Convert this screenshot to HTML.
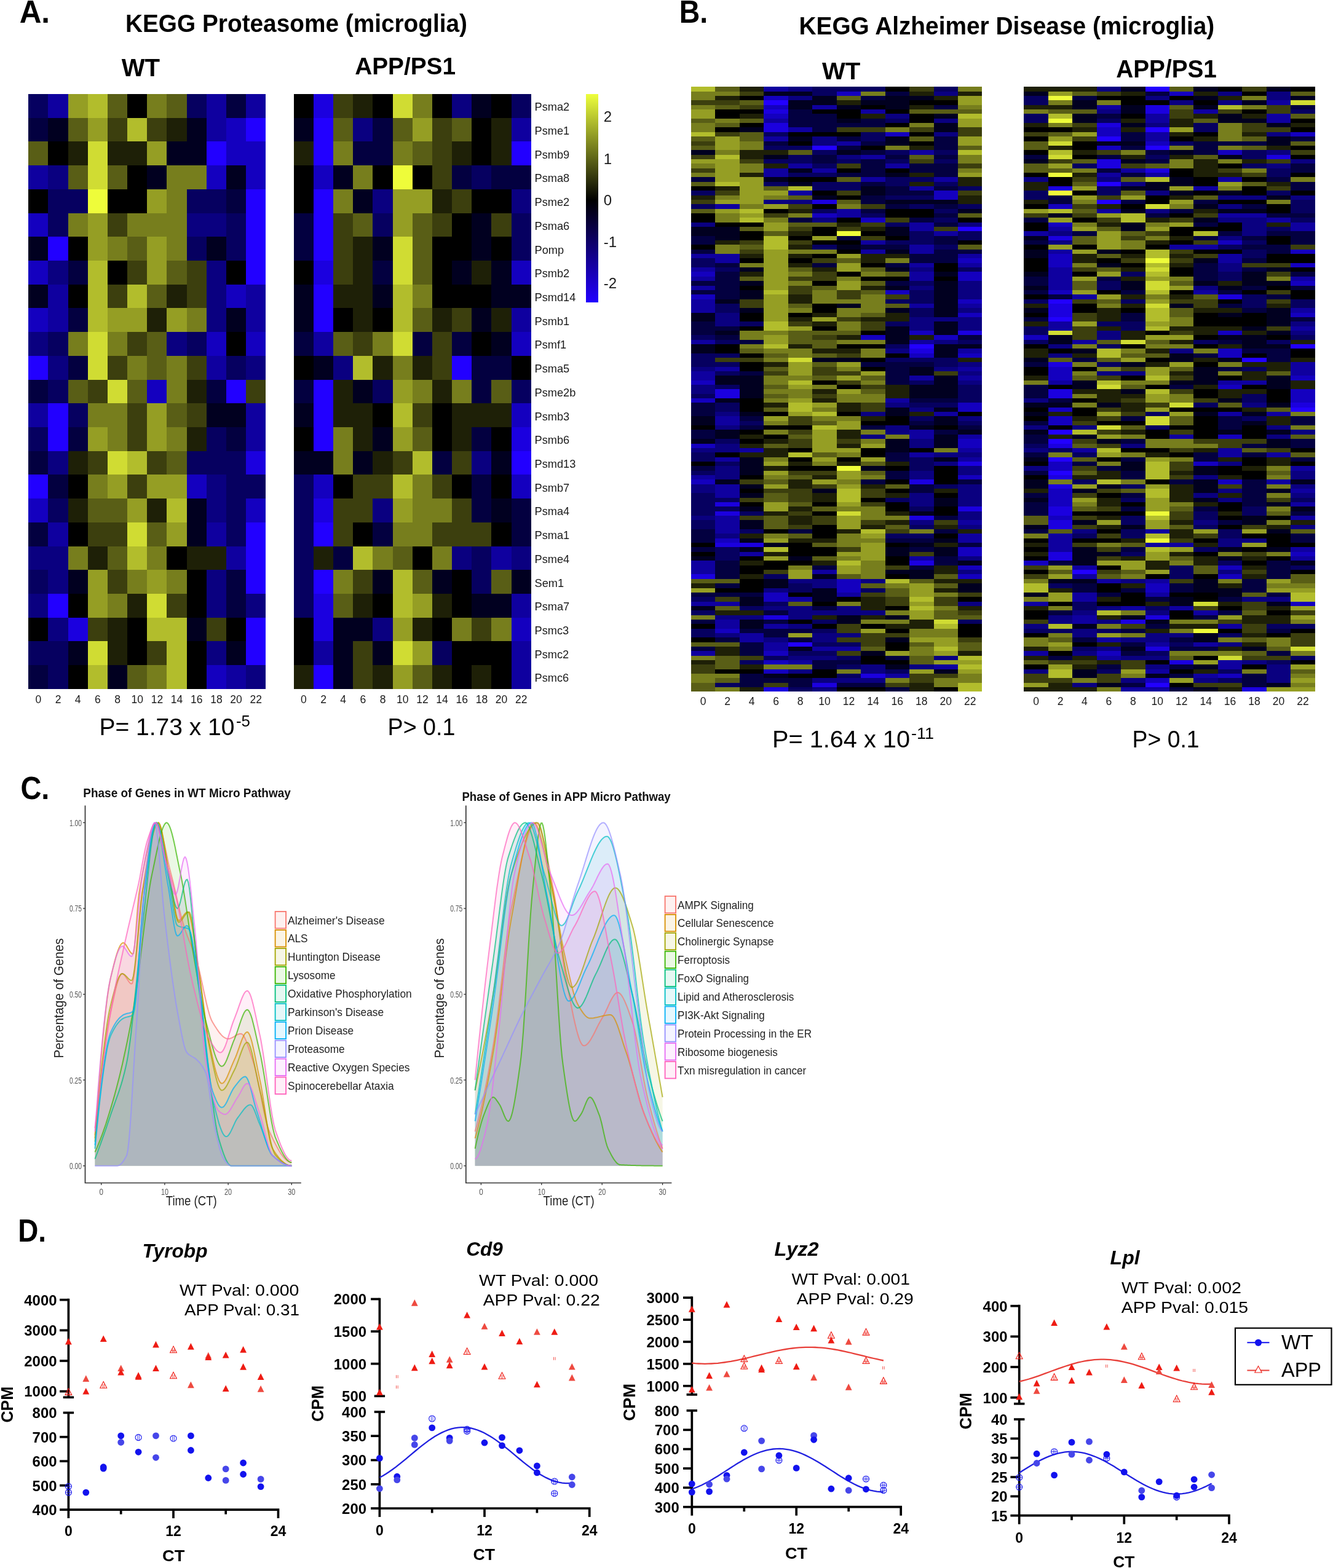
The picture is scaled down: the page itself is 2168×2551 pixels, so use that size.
<!DOCTYPE html><html><head><meta charset="utf-8"><title>Figure</title><style>html,body{margin:0;padding:0;background:#fff}svg{display:block}</style></head><body><svg width="2168" height="2551" viewBox="0 0 2168 2551"><rect width="2168" height="2551" fill="#fff"/><text x="31.7" y="37.4" font-size="52.6" font-weight="bold" textLength="49.4" lengthAdjust="spacingAndGlyphs" font-family="'Liberation Sans', Arial, sans-serif">A.</text><text x="204.0" y="51.8" font-size="40.3" font-weight="bold" textLength="556.0" lengthAdjust="spacingAndGlyphs" font-family="'Liberation Sans', Arial, sans-serif">KEGG Proteasome (microglia)</text><text x="197.7" y="124.1" font-size="40.0" font-weight="bold" textLength="62.4" lengthAdjust="spacingAndGlyphs" font-family="'Liberation Sans', Arial, sans-serif">WT</text><text x="577.2" y="120.5" font-size="39.5" font-weight="bold" textLength="163.9" lengthAdjust="spacingAndGlyphs" font-family="'Liberation Sans', Arial, sans-serif">APP/PS1</text><g shape-rendering="crispEdges" transform="translate(46.30 153.00) scale(32.1667 38.7120)"><path fill="#2200ff" d="M11 1h1v1h-1zM9 2h1v1h-1zM11 4h1v1h-1zM11 5h1v1h-1zM1 6h1v1h-1zM11 6h1v1h-1zM11 7h1v1h-1zM0 11h1v1h-1zM10 12h1v1h-1zM1 13h1v1h-1zM1 14h1v1h-1zM0 16h1v1h-1zM11 18h1v1h-1zM11 19h1v1h-1zM11 20h1v1h-1zM1 21h1v1h-1zM11 22h1v1h-1zM11 23h1v1h-1z"/><path fill="#1b00df" d="M11 15h1v1h-1zM2 22h1v1h-1z"/><path fill="#1400bf" d="M10 1h1v1h-1zM10 2h2v1h-2zM9 3h1v1h-1zM11 3h1v1h-1zM0 5h1v1h-1zM0 7h1v1h-1zM10 8h1v1h-1zM0 9h1v1h-1zM9 10h1v1h-1zM11 10h1v1h-1zM6 12h1v1h-1zM8 16h1v1h-1zM0 17h1v1h-1zM11 17h1v1h-1zM9 24h1v1h-1z"/><path fill="#0f009f" d="M1 0h1v1h-1zM9 0h1v1h-1zM11 0h1v1h-1zM9 1h1v1h-1zM0 3h1v1h-1zM1 8h1v1h-1zM11 8h1v1h-1zM1 9h1v1h-1zM11 9h1v1h-1zM9 11h1v1h-1zM0 13h1v1h-1zM11 13h1v1h-1zM11 14h1v1h-1zM1 18h1v1h-1zM9 18h1v1h-1zM10 19h1v1h-1zM10 24h1v1h-1z"/><path fill="#0a0080" d="M1 3h1v1h-1zM8 5h2v1h-2zM1 7h1v1h-1zM9 7h1v1h-1zM9 8h1v1h-1zM9 9h1v1h-1zM0 10h1v1h-1zM7 10h1v1h-1zM1 11h1v1h-1zM11 11h1v1h-1zM1 15h1v1h-1zM9 16h1v1h-1zM9 17h1v1h-1zM0 19h2v1h-2zM1 20h1v1h-1zM9 20h1v1h-1zM0 21h1v1h-1zM9 21h1v1h-1zM11 21h1v1h-1zM1 22h1v1h-1zM9 23h1v1h-1zM11 24h1v1h-1z"/><path fill="#060060" d="M0 0h1v1h-1zM8 0h1v1h-1zM1 4h2v1h-2zM8 4h2v1h-2zM1 5h1v1h-1zM10 5h1v1h-1zM8 6h1v1h-1zM10 6h1v1h-1zM1 10h1v1h-1zM8 10h1v1h-1zM10 11h1v1h-1zM1 12h1v1h-1zM2 13h1v1h-1zM0 14h1v1h-1zM9 14h1v1h-1zM8 15h3v1h-3zM10 16h2v1h-2zM1 17h1v1h-1zM10 17h1v1h-1zM10 18h1v1h-1zM0 20h1v1h-1zM0 23h2v1h-2zM1 24h1v1h-1z"/><path fill="#030040" d="M10 0h1v1h-1zM0 1h1v1h-1zM10 4h1v1h-1zM2 7h1v1h-1zM2 9h1v1h-1zM2 11h1v1h-1zM0 12h1v1h-1zM9 12h1v1h-1zM2 14h1v1h-1zM10 14h1v1h-1zM0 15h1v1h-1zM1 16h1v1h-1zM0 18h1v1h-1zM10 20h1v1h-1zM10 21h1v1h-1zM0 24h1v1h-1z"/><path fill="#010020" d="M1 1h1v1h-1zM8 1h1v1h-1zM7 2h2v1h-2zM6 3h1v1h-1zM10 3h1v1h-1zM0 6h1v1h-1zM9 6h1v1h-1zM0 8h1v1h-1zM10 9h1v1h-1zM9 13h2v1h-2zM8 17h1v1h-1zM8 18h1v1h-1zM2 20h1v1h-1zM8 22h1v1h-1zM2 23h1v1h-1zM10 23h1v1h-1zM4 24h1v1h-1z"/><path fill="#000000" d="M5 0h1v1h-1zM1 2h1v1h-1zM5 3h1v1h-1zM0 4h1v1h-1zM4 4h2v1h-2zM2 6h1v1h-1zM4 7h1v1h-1zM10 7h1v1h-1zM2 8h1v1h-1zM10 10h1v1h-1zM2 16h1v1h-1zM2 18h1v1h-1zM7 19h1v1h-1zM8 20h1v1h-1zM2 21h1v1h-1zM8 21h1v1h-1zM0 22h1v1h-1zM5 22h1v1h-1zM10 22h1v1h-1zM5 23h1v1h-1zM8 23h1v1h-1zM2 24h1v1h-1zM8 24h1v1h-1z"/><path fill="#1e2007" d="M7 1h1v1h-1zM2 2h1v1h-1zM4 2h2v1h-2zM7 8h1v1h-1zM6 9h1v1h-1zM8 12h1v1h-1zM8 14h1v1h-1zM2 15h1v1h-1zM2 17h1v1h-1zM6 17h1v1h-1zM3 19h1v1h-1zM8 19h2v1h-2zM5 21h1v1h-1zM4 22h1v1h-1zM4 23h1v1h-1z"/><path fill="#3c3f0e" d="M4 1h1v1h-1zM6 1h1v1h-1zM4 5h1v1h-1zM5 7h1v1h-1zM8 7h1v1h-1zM4 8h1v1h-1zM8 8h1v1h-1zM5 10h1v1h-1zM4 11h1v1h-1zM8 11h1v1h-1zM3 12h1v1h-1zM11 12h1v1h-1zM5 13h1v1h-1zM8 13h1v1h-1zM5 14h1v1h-1zM3 15h1v1h-1zM6 15h1v1h-1zM5 16h1v1h-1zM3 18h2v1h-2zM4 20h1v1h-1zM7 21h1v1h-1zM3 22h1v1h-1zM9 22h1v1h-1zM6 23h1v1h-1z"/><path fill="#595e16" d="M4 0h1v1h-1zM7 0h1v1h-1zM2 1h1v1h-1zM0 2h1v1h-1zM2 3h1v1h-1zM4 3h1v1h-1zM5 6h1v1h-1zM7 7h1v1h-1zM6 8h1v1h-1zM6 10h1v1h-1zM6 11h1v1h-1zM2 12h1v1h-1zM5 12h1v1h-1zM7 13h1v1h-1zM7 15h1v1h-1zM3 17h2v1h-2zM6 18h1v1h-1zM4 19h1v1h-1zM5 24h1v1h-1z"/><path fill="#777e1d" d="M6 0h1v1h-1zM7 3h2v1h-2zM7 4h1v1h-1zM2 5h1v1h-1zM5 5h3v1h-3zM4 6h1v1h-1zM7 6h1v1h-1zM8 9h1v1h-1zM2 10h1v1h-1zM4 10h1v1h-1zM5 11h1v1h-1zM7 11h1v1h-1zM7 12h1v1h-1zM3 13h2v1h-2zM4 14h1v1h-1zM7 14h1v1h-1zM3 16h1v1h-1zM2 19h1v1h-1zM6 19h1v1h-1zM5 20h1v1h-1zM7 20h1v1h-1zM4 21h1v1h-1zM6 24h1v1h-1z"/><path fill="#959e24" d="M2 0h1v1h-1zM3 1h1v1h-1zM6 2h1v1h-1zM6 4h1v1h-1zM3 5h1v1h-1zM3 6h1v1h-1zM6 6h1v1h-1zM6 7h1v1h-1zM4 9h2v1h-2zM7 9h1v1h-1zM6 13h1v1h-1zM3 14h1v1h-1zM6 14h1v1h-1zM4 16h1v1h-1zM6 16h2v1h-2zM5 17h1v1h-1zM7 18h1v1h-1zM3 20h1v1h-1zM6 20h1v1h-1zM3 21h1v1h-1z"/><path fill="#b2bd2c" d="M3 0h1v1h-1zM5 1h1v1h-1zM3 7h1v1h-1zM3 8h1v1h-1zM5 8h1v1h-1zM3 9h1v1h-1zM5 15h1v1h-1zM7 17h1v1h-1zM5 19h1v1h-1zM6 22h2v1h-2zM7 23h1v1h-1zM3 24h1v1h-1zM7 24h1v1h-1z"/><path fill="#d0dc33" d="M3 2h1v1h-1zM3 3h1v1h-1zM3 10h1v1h-1zM3 11h1v1h-1zM4 12h1v1h-1zM4 15h1v1h-1zM5 18h1v1h-1zM6 21h1v1h-1zM3 23h1v1h-1z"/><path fill="#eefc3a" d="M3 4h1v1h-1z"/></g><g shape-rendering="crispEdges" transform="translate(477.80 153.00) scale(32.1667 38.7120)"><path fill="#2200ff" d="M1 1h1v1h-1zM1 2h1v1h-1zM11 2h1v1h-1zM1 4h1v1h-1zM1 5h1v1h-1zM1 6h1v1h-1zM1 8h1v1h-1zM1 9h1v1h-1zM8 11h1v1h-1zM1 12h1v1h-1zM1 13h1v1h-1zM1 14h1v1h-1zM11 15h1v1h-1zM1 18h1v1h-1zM1 20h1v1h-1zM1 24h1v1h-1z"/><path fill="#1b00df" d="M1 0h1v1h-1zM1 7h1v1h-1zM11 14h1v1h-1zM1 17h1v1h-1zM1 21h1v1h-1zM1 22h1v1h-1z"/><path fill="#1400bf" d="M1 3h1v1h-1zM11 7h1v1h-1zM11 10h1v1h-1zM11 13h1v1h-1zM1 16h1v1h-1zM11 16h1v1h-1zM11 22h1v1h-1z"/><path fill="#0f009f" d="M11 1h1v1h-1zM11 9h1v1h-1zM1 10h1v1h-1zM10 19h1v1h-1zM11 21h1v1h-1zM1 23h1v1h-1zM11 23h1v1h-1zM11 24h1v1h-1z"/><path fill="#0a0080" d="M8 0h1v1h-1zM3 1h1v1h-1zM4 4h1v1h-1zM11 4h1v1h-1zM2 11h1v1h-1zM9 15h1v1h-1zM4 17h1v1h-1zM8 19h1v1h-1zM11 19h1v1h-1zM4 22h1v1h-1z"/><path fill="#060060" d="M11 0h1v1h-1zM9 3h1v1h-1zM4 5h1v1h-1zM11 5h1v1h-1zM11 6h1v1h-1zM4 12h1v1h-1zM11 12h1v1h-1zM0 16h1v1h-1zM0 17h1v1h-1zM0 18h1v1h-1zM0 19h1v1h-1zM9 19h1v1h-1zM0 20h1v1h-1zM9 20h1v1h-1zM0 21h1v1h-1zM7 23h1v1h-1z"/><path fill="#030040" d="M4 1h1v1h-1zM3 2h2v1h-2zM8 3h1v1h-1zM10 3h2v1h-2zM0 5h1v1h-1zM0 6h1v1h-1zM4 7h1v1h-1zM0 10h1v1h-1zM6 10h1v1h-1zM8 10h1v1h-1zM9 11h2v1h-2zM0 12h1v1h-1zM9 12h1v1h-1zM9 14h1v1h-1zM7 15h1v1h-1zM9 16h1v1h-1zM9 17h1v1h-1zM11 17h1v1h-1zM4 18h1v1h-1zM11 18h1v1h-1zM2 19h1v1h-1z"/><path fill="#010020" d="M9 0h1v1h-1zM0 1h1v1h-1zM2 3h1v1h-1zM3 4h1v1h-1zM9 5h1v1h-1zM4 6h1v1h-1zM9 6h1v1h-1zM8 7h1v1h-1zM10 7h1v1h-1zM0 8h1v1h-1zM4 8h1v1h-1zM10 8h2v1h-2zM0 9h1v1h-1zM9 9h1v1h-1zM10 10h1v1h-1zM1 11h1v1h-1zM3 12h1v1h-1zM0 13h1v1h-1zM4 14h1v1h-1zM0 15h2v1h-2zM3 15h1v1h-1zM10 15h1v1h-1zM10 17h1v1h-1zM4 20h1v1h-1zM7 20h1v1h-1zM11 20h1v1h-1zM9 21h2v1h-2zM2 22h2v1h-2zM2 23h1v1h-1zM4 23h1v1h-1zM2 24h1v1h-1z"/><path fill="#000000" d="M0 0h1v1h-1zM4 0h1v1h-1zM7 0h1v1h-1zM10 0h1v1h-1zM9 1h1v1h-1zM9 2h1v1h-1zM0 3h1v1h-1zM4 3h1v1h-1zM6 3h1v1h-1zM0 4h1v1h-1zM9 4h2v1h-2zM8 5h1v1h-1zM7 6h2v1h-2zM10 6h1v1h-1zM0 7h1v1h-1zM7 7h1v1h-1zM7 8h3v1h-3zM2 9h1v1h-1zM4 9h1v1h-1zM9 10h1v1h-1zM0 11h1v1h-1zM11 11h1v1h-1zM4 13h1v1h-1zM7 13h1v1h-1zM0 14h1v1h-1zM7 14h1v1h-1zM10 14h1v1h-1zM2 16h1v1h-1zM8 16h1v1h-1zM10 16h1v1h-1zM3 18h1v1h-1zM10 18h1v1h-1zM6 19h1v1h-1zM8 20h1v1h-1zM4 21h1v1h-1zM8 21h1v1h-1zM0 22h1v1h-1zM7 22h1v1h-1zM0 23h1v1h-1zM8 23h3v1h-3zM8 24h1v1h-1zM10 24h1v1h-1z"/><path fill="#1e2007" d="M3 0h1v1h-1zM10 1h1v1h-1zM0 2h1v1h-1zM8 2h1v1h-1zM10 2h1v1h-1zM7 4h1v1h-1zM3 6h1v1h-1zM3 7h1v1h-1zM9 7h1v1h-1zM2 8h2v1h-2zM3 9h1v1h-1zM7 9h1v1h-1zM10 9h1v1h-1zM4 11h1v1h-1zM6 11h1v1h-1zM2 12h1v1h-1zM7 12h1v1h-1zM2 13h2v1h-2zM8 13h3v1h-3zM3 14h1v1h-1zM8 14h1v1h-1zM4 15h1v1h-1zM1 19h1v1h-1zM3 21h1v1h-1zM7 21h1v1h-1zM6 22h1v1h-1zM0 24h1v1h-1zM4 24h1v1h-1zM7 24h1v1h-1zM9 24h1v1h-1z"/><path fill="#3c3f0e" d="M2 0h1v1h-1zM7 1h1v1h-1zM7 2h1v1h-1zM7 3h1v1h-1zM8 4h1v1h-1zM2 5h1v1h-1zM7 5h1v1h-1zM10 5h1v1h-1zM2 6h1v1h-1zM2 7h1v1h-1zM8 9h1v1h-1zM3 10h1v1h-1zM7 10h1v1h-1zM7 11h1v1h-1zM6 13h1v1h-1zM5 15h1v1h-1zM8 15h1v1h-1zM3 16h2v1h-2zM7 16h1v1h-1zM2 17h2v1h-2zM8 17h1v1h-1zM2 18h1v1h-1zM7 18h3v1h-3zM3 20h1v1h-1zM9 22h1v1h-1zM3 23h1v1h-1zM3 24h1v1h-1z"/><path fill="#595e16" d="M2 1h1v1h-1zM5 1h1v1h-1zM8 1h1v1h-1zM6 2h1v1h-1zM3 5h1v1h-1zM6 5h1v1h-1zM6 6h1v1h-1zM6 7h1v1h-1zM6 9h1v1h-1zM2 10h1v1h-1zM10 12h1v1h-1zM6 14h1v1h-1zM5 19h1v1h-1zM6 20h1v1h-1zM10 20h1v1h-1zM2 21h1v1h-1zM6 24h1v1h-1z"/><path fill="#777e1d" d="M6 0h1v1h-1zM2 2h1v1h-1zM5 2h1v1h-1zM3 3h1v1h-1zM2 4h1v1h-1zM6 8h1v1h-1zM4 10h1v1h-1zM5 11h1v1h-1zM6 12h1v1h-1zM8 12h1v1h-1zM2 14h1v1h-1zM2 15h1v1h-1zM6 16h1v1h-1zM6 17h2v1h-2zM5 18h2v1h-2zM4 19h1v1h-1zM7 19h1v1h-1zM2 20h1v1h-1zM8 22h1v1h-1zM10 22h1v1h-1z"/><path fill="#959e24" d="M6 1h1v1h-1zM5 4h2v1h-2zM5 5h1v1h-1zM5 12h1v1h-1zM5 14h1v1h-1zM5 17h1v1h-1zM6 21h1v1h-1zM5 22h1v1h-1zM6 23h1v1h-1zM5 24h1v1h-1z"/><path fill="#b2bd2c" d="M5 8h1v1h-1zM5 9h1v1h-1zM3 11h1v1h-1zM5 13h1v1h-1zM6 15h1v1h-1zM5 16h1v1h-1zM3 19h1v1h-1zM5 20h1v1h-1zM5 21h1v1h-1z"/><path fill="#d0dc33" d="M5 0h1v1h-1zM5 6h1v1h-1zM5 7h1v1h-1zM5 10h1v1h-1zM5 23h1v1h-1z"/><path fill="#eefc3a" d="M5 3h1v1h-1z"/></g><text x="869.6" y="180.3" font-size="18.2" fill="#1a1a1a" font-family="'Liberation Sans', Arial, sans-serif">Psma2</text><text x="869.6" y="219.0" font-size="18.2" fill="#1a1a1a" font-family="'Liberation Sans', Arial, sans-serif">Psme1</text><text x="869.6" y="257.7" font-size="18.2" fill="#1a1a1a" font-family="'Liberation Sans', Arial, sans-serif">Psmb9</text><text x="869.6" y="296.4" font-size="18.2" fill="#1a1a1a" font-family="'Liberation Sans', Arial, sans-serif">Psma8</text><text x="869.6" y="335.1" font-size="18.2" fill="#1a1a1a" font-family="'Liberation Sans', Arial, sans-serif">Psme2</text><text x="869.6" y="373.8" font-size="18.2" fill="#1a1a1a" font-family="'Liberation Sans', Arial, sans-serif">Psma6</text><text x="869.6" y="412.5" font-size="18.2" fill="#1a1a1a" font-family="'Liberation Sans', Arial, sans-serif">Pomp</text><text x="869.6" y="451.2" font-size="18.2" fill="#1a1a1a" font-family="'Liberation Sans', Arial, sans-serif">Psmb2</text><text x="869.6" y="490.0" font-size="18.2" fill="#1a1a1a" font-family="'Liberation Sans', Arial, sans-serif">Psmd14</text><text x="869.6" y="528.7" font-size="18.2" fill="#1a1a1a" font-family="'Liberation Sans', Arial, sans-serif">Psmb1</text><text x="869.6" y="567.4" font-size="18.2" fill="#1a1a1a" font-family="'Liberation Sans', Arial, sans-serif">Psmf1</text><text x="869.6" y="606.1" font-size="18.2" fill="#1a1a1a" font-family="'Liberation Sans', Arial, sans-serif">Psma5</text><text x="869.6" y="644.8" font-size="18.2" fill="#1a1a1a" font-family="'Liberation Sans', Arial, sans-serif">Psme2b</text><text x="869.6" y="683.5" font-size="18.2" fill="#1a1a1a" font-family="'Liberation Sans', Arial, sans-serif">Psmb3</text><text x="869.6" y="722.2" font-size="18.2" fill="#1a1a1a" font-family="'Liberation Sans', Arial, sans-serif">Psmb6</text><text x="869.6" y="760.9" font-size="18.2" fill="#1a1a1a" font-family="'Liberation Sans', Arial, sans-serif">Psmd13</text><text x="869.6" y="799.6" font-size="18.2" fill="#1a1a1a" font-family="'Liberation Sans', Arial, sans-serif">Psmb7</text><text x="869.6" y="838.4" font-size="18.2" fill="#1a1a1a" font-family="'Liberation Sans', Arial, sans-serif">Psma4</text><text x="869.6" y="877.1" font-size="18.2" fill="#1a1a1a" font-family="'Liberation Sans', Arial, sans-serif">Psma1</text><text x="869.6" y="915.8" font-size="18.2" fill="#1a1a1a" font-family="'Liberation Sans', Arial, sans-serif">Psme4</text><text x="869.6" y="954.5" font-size="18.2" fill="#1a1a1a" font-family="'Liberation Sans', Arial, sans-serif">Sem1</text><text x="869.6" y="993.2" font-size="18.2" fill="#1a1a1a" font-family="'Liberation Sans', Arial, sans-serif">Psma7</text><text x="869.6" y="1031.9" font-size="18.2" fill="#1a1a1a" font-family="'Liberation Sans', Arial, sans-serif">Psmc3</text><text x="869.6" y="1070.6" font-size="18.2" fill="#1a1a1a" font-family="'Liberation Sans', Arial, sans-serif">Psmc2</text><text x="869.6" y="1109.3" font-size="18.2" fill="#1a1a1a" font-family="'Liberation Sans', Arial, sans-serif">Psmc6</text><defs><linearGradient id="cb" x1="0" y1="0" x2="0" y2="1"><stop offset="0" stop-color="#eeff3c"/><stop offset="0.51" stop-color="#000"/><stop offset="1" stop-color="#2200ff"/></linearGradient></defs><rect x="953" y="153" width="20" height="339" fill="url(#cb)"/><text x="981.7" y="197.9" font-size="24.0" fill="#1a1a1a" font-family="'Liberation Sans', Arial, sans-serif">2</text><text x="981.7" y="267.1" font-size="24.0" fill="#1a1a1a" font-family="'Liberation Sans', Arial, sans-serif">1</text><text x="981.7" y="334.3" font-size="24.0" fill="#1a1a1a" font-family="'Liberation Sans', Arial, sans-serif">0</text><text x="981.7" y="402.0" font-size="24.0" fill="#1a1a1a" font-family="'Liberation Sans', Arial, sans-serif">-1</text><text x="981.7" y="468.5" font-size="24.0" fill="#1a1a1a" font-family="'Liberation Sans', Arial, sans-serif">-2</text><text x="62.4" y="1144.0" font-size="17.5" text-anchor="middle" fill="#1a1a1a" font-family="'Liberation Sans', Arial, sans-serif">0</text><text x="94.5" y="1144.0" font-size="17.5" text-anchor="middle" fill="#1a1a1a" font-family="'Liberation Sans', Arial, sans-serif">2</text><text x="126.7" y="1144.0" font-size="17.5" text-anchor="middle" fill="#1a1a1a" font-family="'Liberation Sans', Arial, sans-serif">4</text><text x="158.9" y="1144.0" font-size="17.5" text-anchor="middle" fill="#1a1a1a" font-family="'Liberation Sans', Arial, sans-serif">6</text><text x="191.1" y="1144.0" font-size="17.5" text-anchor="middle" fill="#1a1a1a" font-family="'Liberation Sans', Arial, sans-serif">8</text><text x="223.2" y="1144.0" font-size="17.5" text-anchor="middle" fill="#1a1a1a" font-family="'Liberation Sans', Arial, sans-serif">10</text><text x="255.4" y="1144.0" font-size="17.5" text-anchor="middle" fill="#1a1a1a" font-family="'Liberation Sans', Arial, sans-serif">12</text><text x="287.6" y="1144.0" font-size="17.5" text-anchor="middle" fill="#1a1a1a" font-family="'Liberation Sans', Arial, sans-serif">14</text><text x="319.7" y="1144.0" font-size="17.5" text-anchor="middle" fill="#1a1a1a" font-family="'Liberation Sans', Arial, sans-serif">16</text><text x="351.9" y="1144.0" font-size="17.5" text-anchor="middle" fill="#1a1a1a" font-family="'Liberation Sans', Arial, sans-serif">18</text><text x="384.1" y="1144.0" font-size="17.5" text-anchor="middle" fill="#1a1a1a" font-family="'Liberation Sans', Arial, sans-serif">20</text><text x="416.2" y="1144.0" font-size="17.5" text-anchor="middle" fill="#1a1a1a" font-family="'Liberation Sans', Arial, sans-serif">22</text><text x="493.9" y="1144.0" font-size="17.5" text-anchor="middle" fill="#1a1a1a" font-family="'Liberation Sans', Arial, sans-serif">0</text><text x="526.0" y="1144.0" font-size="17.5" text-anchor="middle" fill="#1a1a1a" font-family="'Liberation Sans', Arial, sans-serif">2</text><text x="558.2" y="1144.0" font-size="17.5" text-anchor="middle" fill="#1a1a1a" font-family="'Liberation Sans', Arial, sans-serif">4</text><text x="590.4" y="1144.0" font-size="17.5" text-anchor="middle" fill="#1a1a1a" font-family="'Liberation Sans', Arial, sans-serif">6</text><text x="622.5" y="1144.0" font-size="17.5" text-anchor="middle" fill="#1a1a1a" font-family="'Liberation Sans', Arial, sans-serif">8</text><text x="654.7" y="1144.0" font-size="17.5" text-anchor="middle" fill="#1a1a1a" font-family="'Liberation Sans', Arial, sans-serif">10</text><text x="686.9" y="1144.0" font-size="17.5" text-anchor="middle" fill="#1a1a1a" font-family="'Liberation Sans', Arial, sans-serif">12</text><text x="719.0" y="1144.0" font-size="17.5" text-anchor="middle" fill="#1a1a1a" font-family="'Liberation Sans', Arial, sans-serif">14</text><text x="751.2" y="1144.0" font-size="17.5" text-anchor="middle" fill="#1a1a1a" font-family="'Liberation Sans', Arial, sans-serif">16</text><text x="783.4" y="1144.0" font-size="17.5" text-anchor="middle" fill="#1a1a1a" font-family="'Liberation Sans', Arial, sans-serif">18</text><text x="815.5" y="1144.0" font-size="17.5" text-anchor="middle" fill="#1a1a1a" font-family="'Liberation Sans', Arial, sans-serif">20</text><text x="847.7" y="1144.0" font-size="17.5" text-anchor="middle" fill="#1a1a1a" font-family="'Liberation Sans', Arial, sans-serif">22</text><text x="161.5" y="1196.0" font-size="39.0" textLength="220.0" lengthAdjust="spacingAndGlyphs" font-family="'Liberation Sans', Arial, sans-serif">P= 1.73 x 10</text><text x="384.0" y="1182.0" font-size="26.0" textLength="23.0" lengthAdjust="spacingAndGlyphs" font-family="'Liberation Sans', Arial, sans-serif">-5</text><text x="630.5" y="1196.0" font-size="39.0" textLength="110.0" lengthAdjust="spacingAndGlyphs" font-family="'Liberation Sans', Arial, sans-serif">P&gt; 0.1</text><text x="1104.7" y="37.4" font-size="52.6" font-weight="bold" textLength="46.5" lengthAdjust="spacingAndGlyphs" font-family="'Liberation Sans', Arial, sans-serif">B.</text><text x="1299.5" y="56.1" font-size="40.8" font-weight="bold" textLength="675.8" lengthAdjust="spacingAndGlyphs" font-family="'Liberation Sans', Arial, sans-serif">KEGG Alzheimer Disease (microglia)</text><text x="1337.0" y="128.5" font-size="39.4" font-weight="bold" textLength="62.3" lengthAdjust="spacingAndGlyphs" font-family="'Liberation Sans', Arial, sans-serif">WT</text><text x="1815.3" y="125.9" font-size="40.7" font-weight="bold" textLength="163.6" lengthAdjust="spacingAndGlyphs" font-family="'Liberation Sans', Arial, sans-serif">APP/PS1</text><g shape-rendering="crispEdges" transform="translate(1124.00 141.40) scale(39.4500 7.3433)"><path fill="#2200ff" d="M3 3h1v1h-1zM5 13h1v1h-1zM11 31h1v1h-1zM9 57h1v1h-1zM4 123h1v1h-1z"/><path fill="#1b00df" d="M3 5h1v1h-1zM3 8h1v1h-1zM3 9h1v1h-1zM5 25h1v1h-1zM11 54h1v1h-1zM9 58h1v1h-1zM1 67h1v1h-1zM1 68h1v1h-1zM11 83h1v1h-1zM9 87h1v1h-1zM1 92h1v1h-1zM11 93h1v1h-1zM1 94h1v1h-1zM9 95h1v1h-1zM1 101h2v1h-2zM9 105h1v1h-1zM0 108h1v1h-1zM3 117h1v1h-1zM7 130h1v1h-1zM5 132h1v1h-1zM3 133h1v1h-1z"/><path fill="#1400bf" d="M6 1h1v1h-1zM3 2h1v1h-1zM3 4h1v1h-1zM3 6h1v1h-1zM8 10h1v1h-1zM10 23h1v1h-1zM10 24h1v1h-1zM5 28h1v1h-1zM7 29h1v1h-1zM11 38h1v1h-1zM0 41h1v1h-1zM11 41h1v1h-1zM11 42h1v1h-1zM8 45h1v1h-1zM0 46h1v1h-1zM11 47h1v1h-1zM11 50h1v1h-1zM9 54h1v1h-1zM7 55h1v1h-1zM10 55h1v1h-1zM9 59h1v1h-1zM11 59h1v1h-1zM0 65h1v1h-1zM0 69h1v1h-1zM11 70h1v1h-1zM11 71h1v1h-1zM11 78h1v1h-1zM0 79h1v1h-1zM11 79h1v1h-1zM11 86h1v1h-1zM0 87h1v1h-1zM1 100h1v1h-1zM11 102h1v1h-1zM11 103h1v1h-1zM11 106h1v1h-1zM11 108h1v1h-1zM6 109h1v1h-1zM6 110h1v1h-1zM6 111h1v1h-1zM3 112h1v1h-1zM3 113h1v1h-1zM1 120h1v1h-1zM3 125h1v1h-1zM3 127h1v1h-1zM3 129h1v1h-1z"/><path fill="#0f009f" d="M3 0h1v1h-1zM5 4h1v1h-1zM7 5h1v1h-1zM3 7h1v1h-1zM4 9h1v1h-1zM3 11h1v1h-1zM6 12h1v1h-1zM9 14h1v1h-1zM7 15h1v1h-1zM4 17h1v1h-1zM8 17h1v1h-1zM3 18h1v1h-1zM5 18h1v1h-1zM3 19h1v1h-1zM7 20h1v1h-1zM10 20h1v1h-1zM9 22h1v1h-1zM4 23h1v1h-1zM1 26h1v1h-1zM6 27h1v1h-1zM6 28h1v1h-1zM9 30h1v1h-1zM9 31h1v1h-1zM10 32h1v1h-1zM7 34h1v1h-1zM9 35h1v1h-1zM7 36h1v1h-1zM9 36h1v1h-1zM0 37h2v1h-2zM11 37h1v1h-1zM1 38h1v1h-1zM9 39h1v1h-1zM11 39h1v1h-1zM0 40h1v1h-1zM9 41h1v1h-1zM0 42h1v1h-1zM9 42h1v1h-1zM0 44h1v1h-1zM0 47h1v1h-1zM0 48h1v1h-1zM9 48h1v1h-1zM11 48h1v1h-1zM0 49h1v1h-1zM0 56h1v1h-1zM9 56h1v1h-1zM11 58h1v1h-1zM1 62h1v1h-1zM11 62h1v1h-1zM0 63h1v1h-1zM0 64h1v1h-1zM9 64h1v1h-1zM11 64h1v1h-1zM8 69h1v1h-1zM10 72h1v1h-1zM1 73h1v1h-1zM1 74h1v1h-1zM9 76h1v1h-1zM9 77h1v1h-1zM11 77h1v1h-1zM2 80h1v1h-1zM11 80h1v1h-1zM9 81h1v1h-1zM1 82h1v1h-1zM11 82h1v1h-1zM0 86h1v1h-1zM1 88h1v1h-1zM1 89h1v1h-1zM1 90h1v1h-1zM1 95h1v1h-1zM1 96h1v1h-1zM11 96h1v1h-1zM1 97h1v1h-1zM1 98h1v1h-1zM11 99h1v1h-1zM11 100h1v1h-1zM2 103h1v1h-1zM9 104h1v1h-1zM0 105h1v1h-1zM0 106h1v1h-1zM0 107h1v1h-1zM5 107h1v1h-1zM6 112h1v1h-1zM4 113h1v1h-1zM0 114h2v1h-2zM1 118h1v1h-1zM1 119h1v1h-1zM3 119h1v1h-1zM2 121h1v1h-1zM2 122h1v1h-1zM3 123h1v1h-1zM3 124h1v1h-1zM5 124h2v1h-2zM0 125h1v1h-1zM4 127h1v1h-1zM10 128h1v1h-1zM8 130h1v1h-1z"/><path fill="#0a0080" d="M4 0h1v1h-1zM10 1h1v1h-1zM4 2h1v1h-1zM8 6h1v1h-1zM10 7h1v1h-1zM10 10h1v1h-1zM5 11h1v1h-1zM5 12h1v1h-1zM6 15h1v1h-1zM3 25h2v1h-2zM5 29h1v1h-1zM0 30h1v1h-1zM11 30h1v1h-1zM9 40h1v1h-1zM11 43h1v1h-1zM9 44h1v1h-1zM11 44h1v1h-1zM11 45h1v1h-1zM11 46h1v1h-1zM11 49h1v1h-1zM1 50h1v1h-1zM1 51h1v1h-1zM9 51h3v1h-3zM1 52h1v1h-1zM9 52h1v1h-1zM11 52h1v1h-1zM9 53h1v1h-1zM11 53h1v1h-1zM10 56h1v1h-1zM8 58h1v1h-1zM11 61h1v1h-1zM0 62h1v1h-1zM10 62h1v1h-1zM11 63h1v1h-1zM11 65h1v1h-1zM0 66h1v1h-1zM0 67h1v1h-1zM8 70h1v1h-1zM9 71h1v1h-1zM1 72h1v1h-1zM7 72h1v1h-1zM11 73h1v1h-1zM1 75h1v1h-1zM8 75h1v1h-1zM8 76h1v1h-1zM7 77h1v1h-1zM9 78h1v1h-1zM1 79h1v1h-1zM9 79h1v1h-1zM0 80h2v1h-2zM10 81h2v1h-2zM10 83h1v1h-1zM1 84h1v1h-1zM11 84h1v1h-1zM1 85h1v1h-1zM9 85h1v1h-1zM11 85h1v1h-1zM1 86h1v1h-1zM9 86h1v1h-1zM0 88h1v1h-1zM11 88h1v1h-1zM0 89h1v1h-1zM11 89h1v1h-1zM9 90h1v1h-1zM11 90h1v1h-1zM9 91h1v1h-1zM11 91h1v1h-1zM9 92h1v1h-1zM11 92h1v1h-1zM11 94h1v1h-1zM0 95h1v1h-1zM11 95h1v1h-1zM9 96h1v1h-1zM11 97h1v1h-1zM1 99h1v1h-1zM11 104h1v1h-1zM11 107h1v1h-1zM4 109h2v1h-2zM7 109h1v1h-1zM5 110h1v1h-1zM3 111h1v1h-1zM11 114h1v1h-1zM3 115h2v1h-2zM6 115h1v1h-1zM4 116h4v1h-4zM1 117h2v1h-2zM4 117h1v1h-1zM4 119h1v1h-1zM1 121h1v1h-1zM5 121h2v1h-2zM3 122h1v1h-1zM5 122h1v1h-1zM4 126h2v1h-2zM10 126h1v1h-1zM7 128h1v1h-1zM9 128h1v1h-1zM4 129h1v1h-1zM7 129h1v1h-1zM5 131h3v1h-3zM5 133h1v1h-1z"/><path fill="#060060" d="M5 0h3v1h-3zM10 0h1v1h-1zM5 1h1v1h-1zM8 7h1v1h-1zM3 10h1v1h-1zM7 10h1v1h-1zM7 11h1v1h-1zM3 13h2v1h-2zM5 14h1v1h-1zM8 14h1v1h-1zM10 14h1v1h-1zM4 15h1v1h-1zM3 16h2v1h-2zM6 16h1v1h-1zM8 16h1v1h-1zM10 16h1v1h-1zM5 17h1v1h-1zM4 19h2v1h-2zM8 20h2v1h-2zM3 21h1v1h-1zM5 21h2v1h-2zM8 21h1v1h-1zM10 21h1v1h-1zM5 22h2v1h-2zM11 22h1v1h-1zM0 23h1v1h-1zM8 24h2v1h-2zM0 26h1v1h-1zM9 26h1v1h-1zM11 26h1v1h-1zM5 27h1v1h-1zM10 27h1v1h-1zM7 28h1v1h-1zM10 29h1v1h-1zM8 30h1v1h-1zM9 32h1v1h-1zM11 32h1v1h-1zM9 33h1v1h-1zM11 33h1v1h-1zM8 34h2v1h-2zM5 35h1v1h-1zM10 35h1v1h-1zM0 38h1v1h-1zM0 39h1v1h-1zM1 40h1v1h-1zM11 40h1v1h-1zM9 43h1v1h-1zM9 45h1v1h-1zM9 46h1v1h-1zM8 47h2v1h-2zM1 48h1v1h-1zM1 49h1v1h-1zM9 49h1v1h-1zM9 50h1v1h-1zM2 52h1v1h-1zM8 52h1v1h-1zM0 55h1v1h-1zM1 56h1v1h-1zM11 56h1v1h-1zM8 57h1v1h-1zM0 59h2v1h-2zM0 60h1v1h-1zM8 60h3v1h-3zM0 61h2v1h-2zM10 61h1v1h-1zM1 63h1v1h-1zM9 65h1v1h-1zM1 66h1v1h-1zM11 66h1v1h-1zM11 67h1v1h-1zM0 68h1v1h-1zM11 68h1v1h-1zM11 69h1v1h-1zM1 70h1v1h-1zM9 70h2v1h-2zM1 71h1v1h-1zM9 73h1v1h-1zM2 74h1v1h-1zM11 74h1v1h-1zM1 78h1v1h-1zM0 81h1v1h-1zM0 82h1v1h-1zM9 82h1v1h-1zM1 83h1v1h-1zM9 83h1v1h-1zM9 84h1v1h-1zM0 85h1v1h-1zM10 88h1v1h-1zM0 90h1v1h-1zM0 91h2v1h-2zM8 91h1v1h-1zM0 92h1v1h-1zM0 93h2v1h-2zM9 93h1v1h-1zM0 94h1v1h-1zM2 94h1v1h-1zM0 96h1v1h-1zM0 97h1v1h-1zM9 97h1v1h-1zM2 98h1v1h-1zM8 99h2v1h-2zM1 102h1v1h-1zM1 103h1v1h-1zM1 104h1v1h-1zM3 108h1v1h-1zM4 110h1v1h-1zM4 111h1v1h-1zM7 111h1v1h-1zM0 113h1v1h-1zM3 114h1v1h-1zM2 115h1v1h-1zM0 116h1v1h-1zM5 118h1v1h-1zM11 118h1v1h-1zM0 120h1v1h-1zM5 120h1v1h-1zM0 121h1v1h-1zM5 123h2v1h-2zM4 125h2v1h-2zM3 126h1v1h-1zM6 126h1v1h-1zM2 127h1v1h-1zM6 128h1v1h-1zM8 129h1v1h-1zM6 130h1v1h-1zM1 132h1v1h-1zM4 133h1v1h-1z"/><path fill="#030040" d="M8 1h1v1h-1zM7 2h1v1h-1zM10 4h1v1h-1zM4 5h1v1h-1zM4 6h2v1h-2zM4 7h2v1h-2zM7 7h1v1h-1zM4 8h4v1h-4zM5 9h1v1h-1zM6 11h1v1h-1zM10 11h1v1h-1zM3 12h1v1h-1zM7 12h1v1h-1zM10 12h1v1h-1zM6 13h1v1h-1zM10 13h1v1h-1zM7 14h1v1h-1zM5 15h1v1h-1zM8 15h1v1h-1zM10 15h1v1h-1zM5 16h1v1h-1zM7 16h1v1h-1zM7 17h1v1h-1zM9 17h2v1h-2zM7 18h1v1h-1zM9 18h2v1h-2zM6 19h2v1h-2zM10 19h1v1h-1zM0 20h1v1h-1zM7 21h1v1h-1zM8 22h1v1h-1zM10 22h1v1h-1zM8 23h2v1h-2zM7 24h1v1h-1zM7 25h1v1h-1zM8 26h1v1h-1zM10 26h1v1h-1zM7 27h1v1h-1zM10 28h1v1h-1zM4 29h1v1h-1zM9 29h1v1h-1zM10 30h1v1h-1zM0 33h1v1h-1zM6 33h1v1h-1zM10 33h1v1h-1zM0 34h1v1h-1zM10 34h1v1h-1zM7 35h2v1h-2zM0 36h1v1h-1zM10 36h2v1h-2zM9 37h2v1h-2zM9 38h2v1h-2zM1 39h1v1h-1zM5 39h1v1h-1zM8 39h1v1h-1zM1 41h1v1h-1zM1 42h1v1h-1zM0 43h2v1h-2zM8 43h1v1h-1zM1 44h1v1h-1zM0 45h2v1h-2zM1 46h1v1h-1zM0 52h1v1h-1zM0 53h2v1h-2zM0 54h1v1h-1zM1 55h1v1h-1zM11 55h1v1h-1zM2 56h1v1h-1zM7 61h3v1h-3zM8 62h1v1h-1zM2 63h1v1h-1zM8 63h1v1h-1zM8 64h1v1h-1zM8 65h1v1h-1zM9 69h2v1h-2zM0 70h1v1h-1zM0 71h1v1h-1zM0 72h1v1h-1zM2 73h1v1h-1zM9 74h1v1h-1zM2 75h1v1h-1zM7 75h1v1h-1zM11 75h1v1h-1zM0 76h1v1h-1zM10 76h1v1h-1zM0 77h1v1h-1zM8 81h1v1h-1zM8 82h1v1h-1zM0 84h1v1h-1zM8 85h1v1h-1zM8 86h1v1h-1zM7 87h1v1h-1zM11 87h1v1h-1zM9 88h1v1h-1zM9 89h1v1h-1zM10 95h1v1h-1zM0 98h1v1h-1zM4 98h1v1h-1zM10 98h1v1h-1zM0 99h1v1h-1zM0 100h1v1h-1zM8 100h2v1h-2zM11 101h1v1h-1zM0 102h1v1h-1zM9 102h1v1h-1zM10 104h1v1h-1zM1 105h1v1h-1zM10 105h1v1h-1zM1 106h1v1h-1zM5 106h1v1h-1zM9 106h1v1h-1zM1 107h1v1h-1zM1 108h1v1h-1zM1 110h1v1h-1zM0 112h3v1h-3zM5 115h1v1h-1zM3 116h1v1h-1zM0 118h1v1h-1zM3 118h1v1h-1zM2 120h3v1h-3zM3 121h1v1h-1zM1 122h1v1h-1zM4 122h1v1h-1zM2 123h1v1h-1zM0 124h1v1h-1zM2 124h1v1h-1zM2 125h1v1h-1zM8 126h1v1h-1zM5 127h2v1h-2zM5 128h1v1h-1zM2 130h1v1h-1zM2 131h3v1h-3zM2 132h1v1h-1zM4 132h1v1h-1zM6 132h2v1h-2zM8 133h1v1h-1z"/><path fill="#010020" d="M3 1h2v1h-2zM5 2h1v1h-1zM8 2h2v1h-2zM4 3h2v1h-2zM7 3h2v1h-2zM4 4h1v1h-1zM6 4h1v1h-1zM8 4h1v1h-1zM10 6h1v1h-1zM6 7h1v1h-1zM10 8h1v1h-1zM2 9h1v1h-1zM10 9h1v1h-1zM4 11h1v1h-1zM8 11h1v1h-1zM8 12h1v1h-1zM0 14h1v1h-1zM6 14h1v1h-1zM3 15h1v1h-1zM4 18h1v1h-1zM8 19h1v1h-1zM3 20h1v1h-1zM4 21h1v1h-1zM7 22h1v1h-1zM7 23h1v1h-1zM5 24h1v1h-1zM8 25h3v1h-3zM11 27h1v1h-1zM0 31h2v1h-2zM8 31h1v1h-1zM0 32h2v1h-2zM8 32h1v1h-1zM1 33h1v1h-1zM6 35h1v1h-1zM8 36h1v1h-1zM2 40h1v1h-1zM8 40h1v1h-1zM10 41h1v1h-1zM2 43h1v1h-1zM10 43h1v1h-1zM8 44h1v1h-1zM10 44h1v1h-1zM2 45h1v1h-1zM10 45h1v1h-1zM2 46h1v1h-1zM10 46h1v1h-1zM1 47h1v1h-1zM10 47h1v1h-1zM6 48h1v1h-1zM10 48h1v1h-1zM2 49h1v1h-1zM8 49h1v1h-1zM10 49h1v1h-1zM0 50h1v1h-1zM10 50h1v1h-1zM0 51h1v1h-1zM10 52h1v1h-1zM8 53h1v1h-1zM10 53h1v1h-1zM1 54h1v1h-1zM8 54h1v1h-1zM10 54h1v1h-1zM8 55h1v1h-1zM8 56h1v1h-1zM0 57h1v1h-1zM10 57h2v1h-2zM0 58h1v1h-1zM10 58h1v1h-1zM10 59h1v1h-1zM5 60h2v1h-2zM9 62h1v1h-1zM9 63h1v1h-1zM1 64h2v1h-2zM10 64h1v1h-1zM1 65h2v1h-2zM10 65h1v1h-1zM2 66h1v1h-1zM9 66h2v1h-2zM2 67h1v1h-1zM9 67h2v1h-2zM2 68h1v1h-1zM9 68h2v1h-2zM1 69h1v1h-1zM8 71h1v1h-1zM10 71h1v1h-1zM2 72h1v1h-1zM8 72h1v1h-1zM0 73h1v1h-1zM10 73h1v1h-1zM0 74h1v1h-1zM10 74h1v1h-1zM9 75h1v1h-1zM1 76h1v1h-1zM11 76h1v1h-1zM1 77h1v1h-1zM10 77h1v1h-1zM0 78h1v1h-1zM8 78h1v1h-1zM10 78h1v1h-1zM8 79h1v1h-1zM10 79h1v1h-1zM8 80h1v1h-1zM2 82h1v1h-1zM10 82h1v1h-1zM2 83h1v1h-1zM2 84h1v1h-1zM7 84h1v1h-1zM2 85h1v1h-1zM1 87h1v1h-1zM2 88h1v1h-1zM5 89h1v1h-1zM2 90h1v1h-1zM10 91h1v1h-1zM10 92h1v1h-1zM2 93h1v1h-1zM9 94h1v1h-1zM2 96h1v1h-1zM2 97h1v1h-1zM2 100h1v1h-1zM10 100h1v1h-1zM3 101h1v1h-1zM9 101h1v1h-1zM2 102h1v1h-1zM8 102h1v1h-1zM10 102h1v1h-1zM8 103h1v1h-1zM10 103h1v1h-1zM0 104h1v1h-1zM4 104h1v1h-1zM11 105h1v1h-1zM8 107h2v1h-2zM5 108h1v1h-1zM9 108h1v1h-1zM3 109h1v1h-1zM3 110h1v1h-1zM11 110h1v1h-1zM5 111h1v1h-1zM11 111h1v1h-1zM5 112h1v1h-1zM2 113h1v1h-1zM5 113h1v1h-1zM2 114h1v1h-1zM0 115h1v1h-1zM6 117h1v1h-1zM8 117h1v1h-1zM2 118h1v1h-1zM6 118h1v1h-1zM2 119h1v1h-1zM8 122h1v1h-1zM4 124h1v1h-1zM7 125h1v1h-1zM8 128h1v1h-1zM10 129h1v1h-1zM3 130h1v1h-1z"/><path fill="#000000" d="M8 0h1v1h-1zM2 2h1v1h-1zM9 3h2v1h-2zM7 4h1v1h-1zM1 5h2v1h-2zM5 5h2v1h-2zM8 5h1v1h-1zM1 6h1v1h-1zM6 6h1v1h-1zM9 6h1v1h-1zM9 7h1v1h-1zM2 8h1v1h-1zM8 8h1v1h-1zM1 9h1v1h-1zM4 10h3v1h-3zM9 10h1v1h-1zM4 12h1v1h-1zM9 12h1v1h-1zM7 13h1v1h-1zM6 18h1v1h-1zM8 18h1v1h-1zM4 20h2v1h-2zM0 22h1v1h-1zM5 23h1v1h-1zM6 24h1v1h-1zM5 26h1v1h-1zM3 27h1v1h-1zM8 27h2v1h-2zM0 28h1v1h-1zM8 28h2v1h-2zM0 29h1v1h-1zM6 29h1v1h-1zM11 29h1v1h-1zM1 30h2v1h-2zM5 31h1v1h-1zM2 32h1v1h-1zM5 32h1v1h-1zM7 32h1v1h-1zM2 33h1v1h-1zM4 33h1v1h-1zM8 33h1v1h-1zM5 34h2v1h-2zM11 34h1v1h-1zM0 35h1v1h-1zM6 36h1v1h-1zM5 37h1v1h-1zM2 38h1v1h-1zM4 38h1v1h-1zM7 39h1v1h-1zM10 39h1v1h-1zM10 40h1v1h-1zM6 41h1v1h-1zM7 42h2v1h-2zM10 42h1v1h-1zM5 43h1v1h-1zM2 44h1v1h-1zM5 48h1v1h-1zM5 49h1v1h-1zM2 50h1v1h-1zM4 50h1v1h-1zM2 51h1v1h-1zM2 53h1v1h-1zM5 53h1v1h-1zM7 54h1v1h-1zM1 57h1v1h-1zM6 57h2v1h-2zM1 58h1v1h-1zM2 59h1v1h-1zM8 59h1v1h-1zM7 60h1v1h-1zM2 61h1v1h-1zM2 62h1v1h-1zM7 62h1v1h-1zM5 65h1v1h-1zM6 66h1v1h-1zM2 69h1v1h-1zM2 70h1v1h-1zM2 71h1v1h-1zM3 72h1v1h-1zM6 72h1v1h-1zM11 72h1v1h-1zM8 73h1v1h-1zM7 74h2v1h-2zM0 75h1v1h-1zM3 75h2v1h-2zM10 75h1v1h-1zM2 76h1v1h-1zM3 77h1v1h-1zM2 78h1v1h-1zM4 80h1v1h-1zM7 80h1v1h-1zM9 80h1v1h-1zM1 81h1v1h-1zM7 81h1v1h-1zM4 82h1v1h-1zM6 82h1v1h-1zM0 83h1v1h-1zM4 84h2v1h-2zM8 84h1v1h-1zM10 84h1v1h-1zM10 85h1v1h-1zM2 86h1v1h-1zM10 86h1v1h-1zM8 87h1v1h-1zM10 87h1v1h-1zM2 89h1v1h-1zM8 89h1v1h-1zM10 90h1v1h-1zM7 91h1v1h-1zM2 92h1v1h-1zM5 92h1v1h-1zM8 92h1v1h-1zM8 93h1v1h-1zM10 93h1v1h-1zM5 94h1v1h-1zM10 94h1v1h-1zM5 97h1v1h-1zM3 98h1v1h-1zM5 98h1v1h-1zM5 99h1v1h-1zM10 99h1v1h-1zM0 101h1v1h-1zM4 101h1v1h-1zM8 101h1v1h-1zM4 102h2v1h-2zM0 103h1v1h-1zM4 103h2v1h-2zM2 104h1v1h-1zM8 104h1v1h-1zM3 105h2v1h-2zM8 105h1v1h-1zM2 106h2v1h-2zM2 107h1v1h-1zM8 108h1v1h-1zM2 109h1v1h-1zM2 110h1v1h-1zM1 111h2v1h-2zM4 112h1v1h-1zM6 113h1v1h-1zM11 113h1v1h-1zM5 114h1v1h-1zM8 115h1v1h-1zM4 118h1v1h-1zM0 119h1v1h-1zM5 119h1v1h-1zM7 119h1v1h-1zM11 119h1v1h-1zM8 120h1v1h-1zM11 120h1v1h-1zM11 121h1v1h-1zM0 122h1v1h-1zM8 123h1v1h-1zM8 124h1v1h-1zM7 126h1v1h-1zM7 127h2v1h-2zM1 129h2v1h-2zM5 129h1v1h-1zM4 130h2v1h-2zM6 133h2v1h-2zM10 133h1v1h-1z"/><path fill="#1e2007" d="M2 0h1v1h-1zM9 1h1v1h-1zM11 1h1v1h-1zM1 2h1v1h-1zM10 2h1v1h-1zM6 3h1v1h-1zM9 4h1v1h-1zM2 6h1v1h-1zM7 6h1v1h-1zM9 13h1v1h-1zM2 14h2v1h-2zM2 15h1v1h-1zM3 17h1v1h-1zM2 19h1v1h-1zM9 19h1v1h-1zM11 20h1v1h-1zM9 21h1v1h-1zM11 21h1v1h-1zM1 22h1v1h-1zM0 24h1v1h-1zM11 24h1v1h-1zM11 25h1v1h-1zM4 27h1v1h-1zM6 30h1v1h-1zM7 31h1v1h-1zM4 32h1v1h-1zM1 34h1v1h-1zM4 35h1v1h-1zM2 37h1v1h-1zM4 37h1v1h-1zM7 37h2v1h-2zM7 38h1v1h-1zM4 39h1v1h-1zM5 40h1v1h-1zM2 41h1v1h-1zM7 44h1v1h-1zM4 46h1v1h-1zM4 47h1v1h-1zM5 50h1v1h-1zM8 50h1v1h-1zM4 51h1v1h-1zM7 51h2v1h-2zM5 52h1v1h-1zM6 55h1v1h-1zM9 55h1v1h-1zM4 57h1v1h-1zM5 58h2v1h-2zM11 60h1v1h-1zM3 61h1v1h-1zM8 66h1v1h-1zM5 67h1v1h-1zM8 67h1v1h-1zM8 68h1v1h-1zM5 69h1v1h-1zM3 70h1v1h-1zM6 70h1v1h-1zM6 71h1v1h-1zM9 72h1v1h-1zM7 73h1v1h-1zM6 76h1v1h-1zM2 77h1v1h-1zM6 77h1v1h-1zM3 78h1v1h-1zM2 79h1v1h-1zM6 79h1v1h-1zM3 80h1v1h-1zM2 81h2v1h-2zM4 83h1v1h-1zM6 83h1v1h-1zM8 83h1v1h-1zM3 84h1v1h-1zM5 86h1v1h-1zM4 87h1v1h-1zM4 88h1v1h-1zM7 88h1v1h-1zM10 89h1v1h-1zM5 90h1v1h-1zM8 90h1v1h-1zM5 91h1v1h-1zM4 93h1v1h-1zM3 94h1v1h-1zM8 94h1v1h-1zM4 95h1v1h-1zM4 96h1v1h-1zM8 96h1v1h-1zM7 97h1v1h-1zM10 97h1v1h-1zM6 98h1v1h-1zM11 98h1v1h-1zM2 99h1v1h-1zM4 100h2v1h-2zM10 101h1v1h-1zM3 103h1v1h-1zM2 105h1v1h-1zM5 105h1v1h-1zM10 106h1v1h-1zM10 107h1v1h-1zM2 108h1v1h-1zM10 109h2v1h-2zM0 110h1v1h-1zM10 111h1v1h-1zM7 113h1v1h-1zM7 114h1v1h-1zM7 115h1v1h-1zM11 115h1v1h-1zM1 116h2v1h-2zM5 117h1v1h-1zM7 117h1v1h-1zM9 118h1v1h-1zM8 119h2v1h-2zM1 124h1v1h-1zM1 125h1v1h-1zM11 125h1v1h-1zM0 127h1v1h-1zM2 128h1v1h-1zM9 132h1v1h-1zM2 133h1v1h-1zM9 133h1v1h-1z"/><path fill="#3c3f0e" d="M9 0h1v1h-1zM2 1h1v1h-1zM0 3h2v1h-2zM2 4h1v1h-1zM6 9h2v1h-2zM9 9h1v1h-1zM11 9h1v1h-1zM1 10h1v1h-1zM11 10h1v1h-1zM0 12h1v1h-1zM0 15h1v1h-1zM2 16h1v1h-1zM9 16h1v1h-1zM6 17h1v1h-1zM11 17h1v1h-1zM0 18h1v1h-1zM1 23h1v1h-1zM6 23h1v1h-1zM11 23h1v1h-1zM0 25h1v1h-1zM4 26h1v1h-1zM7 26h1v1h-1zM3 28h1v1h-1zM8 29h1v1h-1zM7 30h1v1h-1zM4 31h1v1h-1zM6 31h1v1h-1zM10 31h1v1h-1zM7 33h1v1h-1zM2 34h1v1h-1zM4 34h1v1h-1zM2 36h1v1h-1zM5 38h1v1h-1zM5 41h1v1h-1zM4 42h2v1h-2zM4 44h1v1h-1zM4 45h1v1h-1zM6 45h1v1h-1zM6 46h1v1h-1zM8 46h1v1h-1zM2 47h1v1h-1zM2 48h1v1h-1zM6 51h1v1h-1zM4 52h1v1h-1zM7 52h1v1h-1zM7 53h1v1h-1zM5 55h1v1h-1zM6 59h1v1h-1zM1 60h2v1h-2zM5 62h1v1h-1zM3 63h1v1h-1zM5 63h2v1h-2zM10 63h1v1h-1zM6 65h1v1h-1zM7 66h1v1h-1zM5 68h1v1h-1zM7 70h1v1h-1zM7 71h1v1h-1zM4 73h1v1h-1zM4 74h1v1h-1zM4 76h1v1h-1zM4 78h1v1h-1zM6 78h1v1h-1zM4 79h1v1h-1zM4 85h2v1h-2zM2 87h1v1h-1zM5 88h1v1h-1zM3 89h2v1h-2zM7 89h1v1h-1zM4 90h1v1h-1zM7 90h1v1h-1zM2 91h1v1h-1zM4 91h1v1h-1zM7 92h1v1h-1zM4 94h1v1h-1zM2 95h1v1h-1zM5 95h1v1h-1zM5 96h1v1h-1zM7 96h1v1h-1zM10 96h1v1h-1zM4 97h1v1h-1zM8 98h1v1h-1zM6 102h1v1h-1zM9 103h1v1h-1zM8 106h1v1h-1zM3 107h1v1h-1zM7 112h1v1h-1zM11 112h1v1h-1zM1 113h1v1h-1zM8 113h1v1h-1zM10 113h1v1h-1zM8 114h1v1h-1zM10 114h1v1h-1zM11 116h1v1h-1zM6 119h1v1h-1zM6 120h1v1h-1zM7 121h2v1h-2zM6 122h2v1h-2zM11 122h1v1h-1zM7 123h1v1h-1zM6 125h1v1h-1zM2 126h1v1h-1zM0 128h1v1h-1zM0 129h1v1h-1zM9 130h2v1h-2zM9 131h1v1h-1zM3 132h1v1h-1zM8 132h1v1h-1z"/><path fill="#595e16" d="M1 0h1v1h-1zM6 2h1v1h-1zM2 3h1v1h-1zM1 4h1v1h-1zM9 5h3v1h-3zM0 7h1v1h-1zM2 7h1v1h-1zM1 8h1v1h-1zM2 10h1v1h-1zM0 11h1v1h-1zM2 11h1v1h-1zM9 11h1v1h-1zM0 13h1v1h-1zM11 13h1v1h-1zM4 14h1v1h-1zM9 15h1v1h-1zM6 20h1v1h-1zM0 21h1v1h-1zM3 22h1v1h-1zM4 24h1v1h-1zM6 25h1v1h-1zM0 27h1v1h-1zM11 28h1v1h-1zM4 30h2v1h-2zM2 31h1v1h-1zM3 32h1v1h-1zM2 35h1v1h-1zM11 35h1v1h-1zM6 38h1v1h-1zM4 40h1v1h-1zM7 40h1v1h-1zM8 41h1v1h-1zM2 42h1v1h-1zM7 43h1v1h-1zM5 44h1v1h-1zM7 45h1v1h-1zM4 48h1v1h-1zM8 48h1v1h-1zM7 50h1v1h-1zM4 54h3v1h-3zM4 55h1v1h-1zM4 56h2v1h-2zM5 57h1v1h-1zM2 58h1v1h-1zM3 59h1v1h-1zM5 59h1v1h-1zM5 61h1v1h-1zM3 62h1v1h-1zM5 64h1v1h-1zM7 64h1v1h-1zM3 66h1v1h-1zM7 67h1v1h-1zM3 68h1v1h-1zM3 71h1v1h-1zM5 74h1v1h-1zM4 77h1v1h-1zM3 79h1v1h-1zM5 81h1v1h-1zM7 83h1v1h-1zM7 85h1v1h-1zM4 86h1v1h-1zM3 87h1v1h-1zM8 88h1v1h-1zM3 90h1v1h-1zM3 91h1v1h-1zM4 92h1v1h-1zM5 93h1v1h-1zM3 95h1v1h-1zM3 96h1v1h-1zM3 97h1v1h-1zM8 97h1v1h-1zM4 99h1v1h-1zM5 101h1v1h-1zM5 104h1v1h-1zM6 108h1v1h-1zM10 108h1v1h-1zM0 109h2v1h-2zM9 109h1v1h-1zM7 110h1v1h-1zM10 110h1v1h-1zM8 111h1v1h-1zM8 112h1v1h-1zM4 114h1v1h-1zM1 115h1v1h-1zM10 116h1v1h-1zM10 117h2v1h-2zM0 123h2v1h-2zM9 123h1v1h-1zM11 123h1v1h-1zM7 124h1v1h-1zM11 124h1v1h-1zM1 126h1v1h-1zM9 126h1v1h-1zM1 127h1v1h-1zM9 127h1v1h-1zM1 128h1v1h-1zM1 131h1v1h-1zM0 132h1v1h-1zM0 133h1v1h-1z"/><path fill="#777e1d" d="M11 0h1v1h-1zM0 1h2v1h-2zM7 1h1v1h-1zM0 2h1v1h-1zM0 4h1v1h-1zM11 4h1v1h-1zM1 7h1v1h-1zM0 8h1v1h-1zM9 8h1v1h-1zM0 9h1v1h-1zM8 9h1v1h-1zM2 12h1v1h-1zM2 13h1v1h-1zM8 13h1v1h-1zM1 14h1v1h-1zM11 15h1v1h-1zM11 16h1v1h-1zM0 17h1v1h-1zM2 17h1v1h-1zM2 18h1v1h-1zM11 18h1v1h-1zM0 19h1v1h-1zM1 24h1v1h-1zM3 24h1v1h-1zM2 26h1v1h-1zM6 26h1v1h-1zM1 28h1v1h-1zM4 28h1v1h-1zM1 29h1v1h-1zM3 29h1v1h-1zM1 35h1v1h-1zM1 36h1v1h-1zM4 36h2v1h-2zM8 38h1v1h-1zM2 39h1v1h-1zM4 41h1v1h-1zM7 41h1v1h-1zM6 42h1v1h-1zM4 43h1v1h-1zM5 45h1v1h-1zM5 46h1v1h-1zM7 46h1v1h-1zM5 47h3v1h-3zM7 48h1v1h-1zM4 49h1v1h-1zM6 49h2v1h-2zM6 50h1v1h-1zM6 52h1v1h-1zM6 53h1v1h-1zM2 54h2v1h-2zM2 55h1v1h-1zM6 56h2v1h-2zM2 57h1v1h-1zM3 58h2v1h-2zM7 58h1v1h-1zM4 59h1v1h-1zM7 59h1v1h-1zM3 60h1v1h-1zM6 62h1v1h-1zM3 64h2v1h-2zM3 65h1v1h-1zM7 65h1v1h-1zM5 66h1v1h-1zM3 67h2v1h-2zM4 68h1v1h-1zM6 68h2v1h-2zM3 69h1v1h-1zM6 69h2v1h-2zM5 71h1v1h-1zM5 73h2v1h-2zM3 74h1v1h-1zM3 76h1v1h-1zM7 76h1v1h-1zM8 77h1v1h-1zM7 78h1v1h-1zM10 80h1v1h-1zM6 81h1v1h-1zM3 82h1v1h-1zM5 83h1v1h-1zM3 86h1v1h-1zM7 86h1v1h-1zM6 87h1v1h-1zM6 93h2v1h-2zM7 94h1v1h-1zM7 95h2v1h-2zM9 98h1v1h-1zM3 99h1v1h-1zM6 99h1v1h-1zM6 100h2v1h-2zM6 101h1v1h-1zM6 104h1v1h-1zM7 105h1v1h-1zM4 106h1v1h-1zM7 106h1v1h-1zM7 107h1v1h-1zM7 108h1v1h-1zM8 110h1v1h-1zM10 112h1v1h-1zM6 114h1v1h-1zM10 115h1v1h-1zM8 116h1v1h-1zM0 117h1v1h-1zM7 118h2v1h-2zM9 120h2v1h-2zM9 121h2v1h-2zM9 124h1v1h-1zM9 125h1v1h-1zM0 126h1v1h-1zM3 128h2v1h-2zM6 129h1v1h-1zM0 130h2v1h-2zM11 130h1v1h-1zM0 131h1v1h-1zM8 131h1v1h-1zM10 131h2v1h-2zM10 132h1v1h-1zM1 133h1v1h-1z"/><path fill="#959e24" d="M11 2h1v1h-1zM11 3h1v1h-1zM0 5h1v1h-1zM0 6h1v1h-1zM11 7h1v1h-1zM11 8h1v1h-1zM1 11h1v1h-1zM11 11h1v1h-1zM1 12h1v1h-1zM11 12h1v1h-1zM1 13h1v1h-1zM0 16h2v1h-2zM1 17h1v1h-1zM1 18h1v1h-1zM1 19h1v1h-1zM11 19h1v1h-1zM1 20h2v1h-2zM2 21h1v1h-1zM2 22h1v1h-1zM2 23h2v1h-2zM2 24h1v1h-1zM1 25h2v1h-2zM3 26h1v1h-1zM1 27h1v1h-1zM2 28h1v1h-1zM3 30h1v1h-1zM3 31h1v1h-1zM5 33h1v1h-1zM3 36h1v1h-1zM3 37h1v1h-1zM6 37h1v1h-1zM3 38h1v1h-1zM3 39h1v1h-1zM6 39h1v1h-1zM3 40h1v1h-1zM6 40h1v1h-1zM3 41h1v1h-1zM3 42h1v1h-1zM3 43h1v1h-1zM6 43h1v1h-1zM3 44h1v1h-1zM6 44h1v1h-1zM3 46h1v1h-1zM3 47h1v1h-1zM3 48h1v1h-1zM3 49h1v1h-1zM3 50h1v1h-1zM3 51h1v1h-1zM5 51h1v1h-1zM4 53h1v1h-1zM3 55h1v1h-1zM3 56h1v1h-1zM4 61h1v1h-1zM6 61h1v1h-1zM4 62h1v1h-1zM4 63h1v1h-1zM7 63h1v1h-1zM6 64h1v1h-1zM4 66h1v1h-1zM6 67h1v1h-1zM4 69h1v1h-1zM5 70h1v1h-1zM4 72h1v1h-1zM3 73h1v1h-1zM6 74h1v1h-1zM6 75h1v1h-1zM5 76h1v1h-1zM5 77h1v1h-1zM5 78h1v1h-1zM5 79h1v1h-1zM7 79h1v1h-1zM5 80h2v1h-2zM5 82h1v1h-1zM7 82h1v1h-1zM3 83h1v1h-1zM3 85h1v1h-1zM6 85h1v1h-1zM6 86h1v1h-1zM5 87h1v1h-1zM3 88h1v1h-1zM6 88h1v1h-1zM3 92h1v1h-1zM6 92h1v1h-1zM3 93h1v1h-1zM6 95h1v1h-1zM6 96h1v1h-1zM6 97h1v1h-1zM7 99h1v1h-1zM3 100h1v1h-1zM7 101h1v1h-1zM7 102h1v1h-1zM6 103h2v1h-2zM3 104h1v1h-1zM7 104h1v1h-1zM6 106h1v1h-1zM4 107h1v1h-1zM6 107h1v1h-1zM4 108h1v1h-1zM9 110h1v1h-1zM0 111h1v1h-1zM9 111h1v1h-1zM9 112h1v1h-1zM9 114h1v1h-1zM9 116h1v1h-1zM9 117h1v1h-1zM7 120h1v1h-1zM4 121h1v1h-1zM9 122h2v1h-2zM10 123h1v1h-1zM8 125h1v1h-1zM10 125h1v1h-1zM10 127h2v1h-2zM9 129h1v1h-1zM11 129h1v1h-1z"/><path fill="#b2bd2c" d="M0 0h1v1h-1zM11 6h1v1h-1zM0 10h1v1h-1zM11 14h1v1h-1zM1 15h1v1h-1zM1 21h1v1h-1zM4 22h1v1h-1zM2 27h1v1h-1zM2 29h1v1h-1zM3 33h1v1h-1zM3 34h1v1h-1zM3 35h1v1h-1zM3 45h1v1h-1zM3 52h1v1h-1zM3 53h1v1h-1zM3 57h1v1h-1zM4 65h1v1h-1zM4 70h1v1h-1zM4 71h1v1h-1zM5 72h1v1h-1zM5 75h1v1h-1zM4 81h1v1h-1zM6 89h1v1h-1zM6 90h1v1h-1zM6 91h1v1h-1zM7 98h1v1h-1zM3 102h1v1h-1zM6 105h1v1h-1zM8 109h1v1h-1zM9 113h1v1h-1zM9 115h1v1h-1zM10 119h1v1h-1zM10 124h1v1h-1zM11 126h1v1h-1zM11 128h1v1h-1zM11 132h1v1h-1zM11 133h1v1h-1z"/><path fill="#d0dc33" d="M4 60h1v1h-1zM6 94h1v1h-1zM10 118h1v1h-1z"/><path fill="#eefc3a" d="M6 32h1v1h-1zM6 84h1v1h-1z"/></g><g shape-rendering="crispEdges" transform="translate(1665.30 141.40) scale(39.4500 7.3433)"><path fill="#2200ff" d="M5 0h1v1h-1zM5 9h1v1h-1zM3 11h1v1h-1zM5 13h1v1h-1zM3 21h1v1h-1zM3 25h1v1h-1zM1 47h1v1h-1zM1 51h1v1h-1zM11 57h1v1h-1zM9 60h1v1h-1zM11 71h1v1h-1zM1 76h1v1h-1zM1 78h1v1h-1zM1 82h1v1h-1zM1 85h1v1h-1zM2 107h1v1h-1zM5 132h1v1h-1z"/><path fill="#1b00df" d="M5 4h1v1h-1zM5 5h1v1h-1zM3 8h1v1h-1zM10 15h1v1h-1zM3 16h1v1h-1zM3 17h1v1h-1zM5 18h1v1h-1zM1 22h1v1h-1zM1 33h1v1h-1zM8 46h1v1h-1zM1 48h1v1h-1zM1 49h1v1h-1zM1 50h1v1h-1zM1 61h1v1h-1zM1 67h1v1h-1zM1 68h1v1h-1zM11 70h1v1h-1zM1 79h1v1h-1zM1 86h1v1h-1zM1 88h1v1h-1zM1 93h1v1h-1zM1 94h1v1h-1zM1 96h1v1h-1zM1 97h1v1h-1zM1 103h1v1h-1zM1 104h1v1h-1zM5 117h1v1h-1zM4 118h1v1h-1zM5 124h1v1h-1zM6 127h1v1h-1zM9 133h1v1h-1z"/><path fill="#1400bf" d="M6 1h1v1h-1zM3 9h1v1h-1zM3 10h1v1h-1zM11 10h1v1h-1zM5 12h1v1h-1zM3 13h1v1h-1zM8 14h1v1h-1zM1 26h1v1h-1zM1 30h1v1h-1zM8 34h1v1h-1zM11 36h1v1h-1zM1 37h1v1h-1zM1 38h1v1h-1zM1 39h1v1h-1zM11 39h1v1h-1zM11 43h1v1h-1zM1 45h1v1h-1zM11 50h1v1h-1zM8 54h1v1h-1zM0 55h1v1h-1zM8 58h1v1h-1zM8 59h1v1h-1zM1 62h1v1h-1zM1 63h1v1h-1zM1 64h1v1h-1zM11 64h1v1h-1zM8 66h1v1h-1zM11 67h1v1h-1zM11 68h1v1h-1zM11 69h1v1h-1zM1 71h1v1h-1zM1 73h1v1h-1zM1 74h1v1h-1zM8 77h1v1h-1zM1 83h1v1h-1zM7 83h1v1h-1zM1 84h1v1h-1zM8 87h1v1h-1zM1 89h1v1h-1zM1 90h1v1h-1zM1 91h1v1h-1zM1 92h1v1h-1zM1 95h1v1h-1zM11 103h1v1h-1zM0 105h1v1h-1zM8 106h1v1h-1zM8 108h1v1h-1zM5 110h1v1h-1zM5 111h1v1h-1zM11 114h1v1h-1zM3 125h1v1h-1zM8 130h1v1h-1zM5 131h1v1h-1z"/><path fill="#0f009f" d="M10 3h1v1h-1zM3 4h1v1h-1zM7 5h1v1h-1zM5 6h1v1h-1zM10 6h1v1h-1zM5 7h1v1h-1zM10 7h1v1h-1zM5 10h1v1h-1zM5 11h1v1h-1zM4 18h1v1h-1zM3 19h1v1h-1zM5 19h1v1h-1zM8 20h1v1h-1zM7 22h1v1h-1zM3 27h1v1h-1zM8 28h2v1h-2zM10 29h1v1h-1zM11 30h1v1h-1zM1 31h1v1h-1zM11 31h1v1h-1zM0 32h1v1h-1zM6 35h2v1h-2zM1 36h1v1h-1zM8 37h1v1h-1zM8 38h1v1h-1zM1 40h1v1h-1zM1 41h1v1h-1zM1 42h1v1h-1zM11 42h1v1h-1zM1 43h1v1h-1zM1 44h1v1h-1zM7 45h1v1h-1zM2 46h1v1h-1zM11 49h1v1h-1zM1 52h1v1h-1zM1 53h1v1h-1zM11 53h1v1h-1zM2 56h1v1h-1zM11 61h1v1h-1zM11 62h1v1h-1zM11 63h1v1h-1zM1 65h1v1h-1zM8 65h2v1h-2zM8 72h1v1h-1zM10 72h1v1h-1zM6 77h1v1h-1zM2 80h1v1h-1zM8 80h1v1h-1zM8 81h1v1h-1zM10 81h1v1h-1zM11 84h1v1h-1zM10 87h1v1h-1zM11 89h1v1h-1zM11 92h1v1h-1zM11 95h1v1h-1zM5 98h1v1h-1zM1 99h1v1h-1zM1 100h1v1h-1zM1 101h1v1h-1zM5 101h2v1h-2zM1 102h1v1h-1zM11 102h1v1h-1zM11 104h1v1h-1zM2 106h1v1h-1zM2 108h1v1h-1zM3 109h1v1h-1zM5 109h1v1h-1zM2 112h1v1h-1zM5 112h1v1h-1zM2 113h1v1h-1zM0 114h1v1h-1zM4 115h1v1h-1zM6 115h1v1h-1zM7 116h1v1h-1zM2 117h1v1h-1zM2 118h1v1h-1zM8 119h1v1h-1zM3 122h1v1h-1zM5 123h1v1h-1zM7 123h1v1h-1zM0 125h1v1h-1zM3 126h1v1h-1zM8 127h1v1h-1zM8 128h1v1h-1zM5 129h1v1h-1zM7 130h1v1h-1zM4 133h2v1h-2z"/><path fill="#0a0080" d="M3 0h1v1h-1zM8 1h1v1h-1zM10 1h1v1h-1zM5 2h1v1h-1zM10 2h1v1h-1zM6 3h1v1h-1zM8 3h1v1h-1zM3 5h1v1h-1zM5 8h1v1h-1zM10 10h1v1h-1zM10 14h1v1h-1zM11 16h1v1h-1zM10 17h1v1h-1zM0 20h1v1h-1zM3 20h1v1h-1zM4 21h1v1h-1zM5 23h1v1h-1zM8 24h2v1h-2zM11 24h1v1h-1zM8 26h1v1h-1zM5 27h1v1h-1zM8 29h2v1h-2zM9 30h1v1h-1zM9 31h1v1h-1zM1 32h1v1h-1zM9 32h1v1h-1zM8 33h1v1h-1zM1 34h1v1h-1zM8 39h1v1h-1zM8 40h1v1h-1zM7 44h1v1h-1zM11 52h1v1h-1zM3 54h1v1h-1zM11 54h1v1h-1zM3 55h1v1h-1zM1 57h1v1h-1zM6 58h1v1h-1zM1 59h1v1h-1zM3 63h2v1h-2zM0 69h1v1h-1zM9 70h1v1h-1zM0 75h1v1h-1zM2 75h1v1h-1zM10 75h1v1h-1zM11 76h1v1h-1zM10 77h1v1h-1zM4 79h1v1h-1zM0 80h1v1h-1zM8 83h1v1h-1zM0 84h1v1h-1zM11 85h1v1h-1zM7 86h1v1h-1zM11 86h1v1h-1zM11 88h1v1h-1zM8 89h1v1h-1zM7 90h1v1h-1zM11 90h1v1h-1zM8 91h1v1h-1zM7 96h1v1h-1zM11 97h1v1h-1zM2 98h1v1h-1zM8 100h2v1h-2zM8 101h1v1h-1zM8 107h1v1h-1zM4 109h1v1h-1zM9 113h2v1h-2zM3 115h1v1h-1zM2 116h1v1h-1zM5 116h1v1h-1zM1 117h1v1h-1zM1 118h1v1h-1zM3 118h1v1h-1zM0 119h1v1h-1zM2 120h1v1h-1zM2 121h1v1h-1zM5 121h2v1h-2zM4 122h2v1h-2zM8 123h1v1h-1zM3 124h1v1h-1zM2 125h1v1h-1zM4 126h2v1h-2zM9 127h1v1h-1zM5 128h1v1h-1zM10 128h1v1h-1zM0 129h1v1h-1zM10 129h1v1h-1zM10 130h1v1h-1zM4 131h1v1h-1zM7 131h1v1h-1zM10 131h1v1h-1zM2 132h1v1h-1z"/><path fill="#060060" d="M0 2h1v1h-1zM0 3h1v1h-1zM11 5h1v1h-1zM0 6h1v1h-1zM0 7h1v1h-1zM3 7h1v1h-1zM7 8h1v1h-1zM7 9h1v1h-1zM6 12h1v1h-1zM9 14h1v1h-1zM5 15h1v1h-1zM9 15h1v1h-1zM2 17h1v1h-1zM9 17h1v1h-1zM10 18h1v1h-1zM10 19h1v1h-1zM3 22h1v1h-1zM0 23h1v1h-1zM3 23h1v1h-1zM10 23h1v1h-1zM0 24h1v1h-1zM11 25h1v1h-1zM11 26h1v1h-1zM11 27h1v1h-1zM11 29h1v1h-1zM10 31h1v1h-1zM9 34h1v1h-1zM8 35h1v1h-1zM9 36h1v1h-1zM9 37h1v1h-1zM4 41h1v1h-1zM8 41h1v1h-1zM8 42h1v1h-1zM3 43h1v1h-1zM3 44h1v1h-1zM9 46h1v1h-1zM0 47h1v1h-1zM4 47h1v1h-1zM9 47h1v1h-1zM11 47h1v1h-1zM9 48h1v1h-1zM11 48h1v1h-1zM3 52h2v1h-2zM0 53h1v1h-1zM4 53h1v1h-1zM0 54h1v1h-1zM11 55h1v1h-1zM0 56h1v1h-1zM7 56h1v1h-1zM10 56h1v1h-1zM3 57h1v1h-1zM3 61h1v1h-1zM9 62h1v1h-1zM9 68h1v1h-1zM9 69h1v1h-1zM7 70h1v1h-1zM5 72h1v1h-1zM9 73h1v1h-1zM5 75h1v1h-1zM0 79h1v1h-1zM1 80h1v1h-1zM2 81h1v1h-1zM2 87h1v1h-1zM4 88h1v1h-1zM4 91h1v1h-1zM11 91h1v1h-1zM9 93h1v1h-1zM7 94h1v1h-1zM9 94h1v1h-1zM4 95h1v1h-1zM7 95h1v1h-1zM4 96h1v1h-1zM7 97h1v1h-1zM4 98h1v1h-1zM8 98h1v1h-1zM2 99h1v1h-1zM4 99h1v1h-1zM8 99h1v1h-1zM7 102h1v1h-1zM4 103h1v1h-1zM8 105h1v1h-1zM6 106h1v1h-1zM11 106h1v1h-1zM6 107h1v1h-1zM6 108h1v1h-1zM1 110h1v1h-1zM2 114h1v1h-1zM2 115h1v1h-1zM5 115h1v1h-1zM10 119h2v1h-2zM0 120h2v1h-2zM3 120h1v1h-1zM8 121h1v1h-1zM6 123h1v1h-1zM2 124h1v1h-1zM5 125h1v1h-1zM11 126h1v1h-1zM10 127h1v1h-1zM3 129h1v1h-1zM8 129h1v1h-1zM8 131h1v1h-1z"/><path fill="#030040" d="M5 1h1v1h-1zM2 2h1v1h-1zM11 4h1v1h-1zM3 6h1v1h-1zM4 10h1v1h-1zM4 11h1v1h-1zM11 11h1v1h-1zM7 12h3v1h-3zM4 13h1v1h-1zM7 13h1v1h-1zM5 14h1v1h-1zM7 14h1v1h-1zM0 15h1v1h-1zM3 15h1v1h-1zM5 16h1v1h-1zM11 17h1v1h-1zM3 18h1v1h-1zM11 18h1v1h-1zM4 19h1v1h-1zM10 20h1v1h-1zM11 21h1v1h-1zM11 22h1v1h-1zM1 24h1v1h-1zM1 25h1v1h-1zM4 25h1v1h-1zM7 25h1v1h-1zM9 26h1v1h-1zM6 27h1v1h-1zM5 28h1v1h-1zM10 28h2v1h-2zM0 29h1v1h-1zM7 30h1v1h-1zM2 32h1v1h-1zM8 32h1v1h-1zM10 32h2v1h-2zM7 33h1v1h-1zM9 33h1v1h-1zM11 33h1v1h-1zM0 34h1v1h-1zM11 34h1v1h-1zM9 35h2v1h-2zM10 36h1v1h-1zM9 38h1v1h-1zM7 39h1v1h-1zM7 40h1v1h-1zM9 40h1v1h-1zM7 41h1v1h-1zM11 41h1v1h-1zM0 42h1v1h-1zM3 42h1v1h-1zM7 42h1v1h-1zM0 43h1v1h-1zM9 44h1v1h-1zM11 44h1v1h-1zM0 45h1v1h-1zM4 45h1v1h-1zM8 45h1v1h-1zM1 46h1v1h-1zM10 46h1v1h-1zM8 48h1v1h-1zM9 49h1v1h-1zM4 50h1v1h-1zM0 51h1v1h-1zM4 51h1v1h-1zM11 51h1v1h-1zM8 56h1v1h-1zM9 58h2v1h-2zM7 59h1v1h-1zM10 59h1v1h-1zM2 60h1v1h-1zM10 60h1v1h-1zM0 61h1v1h-1zM8 62h1v1h-1zM0 66h1v1h-1zM6 66h1v1h-1zM0 67h1v1h-1zM0 68h1v1h-1zM1 69h1v1h-1zM4 73h1v1h-1zM8 73h1v1h-1zM11 73h1v1h-1zM0 74h1v1h-1zM8 74h1v1h-1zM11 74h1v1h-1zM8 75h1v1h-1zM0 77h1v1h-1zM0 78h1v1h-1zM4 78h1v1h-1zM11 78h1v1h-1zM9 79h1v1h-1zM11 79h1v1h-1zM0 81h1v1h-1zM7 81h1v1h-1zM9 81h1v1h-1zM4 82h1v1h-1zM7 82h1v1h-1zM11 82h1v1h-1zM2 83h1v1h-1zM3 84h1v1h-1zM0 85h1v1h-1zM4 85h1v1h-1zM4 86h1v1h-1zM6 87h1v1h-1zM9 87h1v1h-1zM9 88h1v1h-1zM9 89h1v1h-1zM0 90h1v1h-1zM4 90h1v1h-1zM9 90h1v1h-1zM9 91h1v1h-1zM0 92h1v1h-1zM9 92h1v1h-1zM0 93h1v1h-1zM4 93h1v1h-1zM7 93h1v1h-1zM0 94h1v1h-1zM11 94h1v1h-1zM8 96h1v1h-1zM0 98h1v1h-1zM11 99h1v1h-1zM11 100h1v1h-1zM4 102h1v1h-1zM1 105h1v1h-1zM10 105h1v1h-1zM10 106h1v1h-1zM10 107h1v1h-1zM10 108h1v1h-1zM9 109h1v1h-1zM2 110h1v1h-1zM6 110h1v1h-1zM9 110h1v1h-1zM2 111h1v1h-1zM4 111h1v1h-1zM6 111h1v1h-1zM9 111h1v1h-1zM3 112h1v1h-1zM10 112h1v1h-1zM5 113h1v1h-1zM8 113h1v1h-1zM1 116h1v1h-1zM8 116h1v1h-1zM7 117h1v1h-1zM5 119h1v1h-1zM4 120h1v1h-1zM10 120h1v1h-1zM2 122h1v1h-1zM6 122h1v1h-1zM4 123h1v1h-1zM6 124h2v1h-2zM4 125h1v1h-1zM10 125h1v1h-1zM1 126h1v1h-1zM3 128h1v1h-1zM6 128h1v1h-1zM6 130h1v1h-1zM9 130h1v1h-1zM9 131h1v1h-1zM4 132h1v1h-1zM9 132h1v1h-1zM6 133h1v1h-1z"/><path fill="#010020" d="M4 0h1v1h-1zM7 0h1v1h-1zM10 0h1v1h-1zM0 1h1v1h-1zM7 2h1v1h-1zM11 2h1v1h-1zM2 3h1v1h-1zM9 3h1v1h-1zM2 4h1v1h-1zM4 4h1v1h-1zM7 4h1v1h-1zM4 5h1v1h-1zM2 6h1v1h-1zM8 6h1v1h-1zM2 7h1v1h-1zM8 7h2v1h-2zM4 8h1v1h-1zM10 8h1v1h-1zM10 11h1v1h-1zM3 12h2v1h-2zM10 12h1v1h-1zM6 14h1v1h-1zM8 15h1v1h-1zM0 16h1v1h-1zM4 16h1v1h-1zM6 20h1v1h-1zM5 21h2v1h-2zM4 22h2v1h-2zM6 23h1v1h-1zM8 23h1v1h-1zM10 24h1v1h-1zM7 26h1v1h-1zM4 27h1v1h-1zM8 27h2v1h-2zM1 28h1v1h-1zM7 29h1v1h-1zM4 30h1v1h-1zM4 31h1v1h-1zM0 33h1v1h-1zM0 36h1v1h-1zM3 36h1v1h-1zM0 37h1v1h-1zM7 38h1v1h-1zM3 39h1v1h-1zM10 40h1v1h-1zM0 41h1v1h-1zM9 41h1v1h-1zM9 42h1v1h-1zM4 43h1v1h-1zM7 43h1v1h-1zM9 43h2v1h-2zM0 44h1v1h-1zM4 44h1v1h-1zM8 44h1v1h-1zM6 48h1v1h-1zM0 49h1v1h-1zM10 49h1v1h-1zM8 50h1v1h-1zM10 50h1v1h-1zM10 51h1v1h-1zM10 52h1v1h-1zM9 53h1v1h-1zM10 54h1v1h-1zM1 55h1v1h-1zM8 55h2v1h-2zM1 56h1v1h-1zM9 56h1v1h-1zM9 57h2v1h-2zM2 58h1v1h-1zM6 59h1v1h-1zM0 60h1v1h-1zM6 60h1v1h-1zM8 60h1v1h-1zM4 61h1v1h-1zM7 62h1v1h-1zM7 63h1v1h-1zM7 64h1v1h-1zM10 64h1v1h-1zM2 65h1v1h-1zM6 65h2v1h-2zM10 65h1v1h-1zM2 66h1v1h-1zM10 66h1v1h-1zM4 67h1v1h-1zM8 69h1v1h-1zM0 70h2v1h-2zM3 70h1v1h-1zM10 70h1v1h-1zM0 72h1v1h-1zM7 72h1v1h-1zM9 72h1v1h-1zM9 74h1v1h-1zM0 76h1v1h-1zM8 76h1v1h-1zM10 76h1v1h-1zM2 77h1v1h-1zM3 78h1v1h-1zM10 78h1v1h-1zM10 79h1v1h-1zM0 82h1v1h-1zM4 83h1v1h-1zM4 84h1v1h-1zM7 84h1v1h-1zM7 85h1v1h-1zM0 87h1v1h-1zM7 87h1v1h-1zM11 87h1v1h-1zM0 88h1v1h-1zM3 88h1v1h-1zM7 88h1v1h-1zM2 89h1v1h-1zM7 89h1v1h-1zM10 89h1v1h-1zM0 91h1v1h-1zM7 91h1v1h-1zM10 92h1v1h-1zM11 93h1v1h-1zM9 95h1v1h-1zM2 96h1v1h-1zM9 96h1v1h-1zM0 97h1v1h-1zM4 97h1v1h-1zM10 98h1v1h-1zM2 102h1v1h-1zM8 102h1v1h-1zM10 102h1v1h-1zM2 103h2v1h-2zM2 104h1v1h-1zM8 104h1v1h-1zM2 105h1v1h-1zM11 105h1v1h-1zM1 109h2v1h-2zM7 109h1v1h-1zM7 110h1v1h-1zM7 111h2v1h-2zM0 112h1v1h-1zM8 112h1v1h-1zM6 113h1v1h-1zM6 114h1v1h-1zM10 114h1v1h-1zM4 117h1v1h-1zM5 118h1v1h-1zM2 119h1v1h-1zM7 121h1v1h-1zM7 122h1v1h-1zM4 124h1v1h-1zM9 124h1v1h-1zM7 128h1v1h-1zM2 129h1v1h-1zM2 130h1v1h-1zM5 130h1v1h-1zM3 132h1v1h-1zM10 132h1v1h-1zM7 133h1v1h-1z"/><path fill="#000000" d="M8 0h1v1h-1zM11 0h1v1h-1zM9 1h1v1h-1zM3 2h2v1h-2zM6 2h1v1h-1zM4 3h2v1h-2zM7 3h1v1h-1zM9 5h1v1h-1zM4 6h1v1h-1zM11 7h1v1h-1zM0 9h2v1h-2zM11 9h1v1h-1zM7 10h1v1h-1zM0 11h1v1h-1zM6 11h1v1h-1zM2 12h1v1h-1zM2 13h1v1h-1zM11 13h1v1h-1zM0 14h1v1h-1zM2 15h1v1h-1zM11 15h1v1h-1zM8 17h1v1h-1zM6 18h1v1h-1zM0 19h1v1h-1zM6 19h1v1h-1zM11 19h1v1h-1zM1 20h1v1h-1zM7 20h1v1h-1zM9 20h1v1h-1zM1 21h1v1h-1zM7 21h1v1h-1zM9 22h1v1h-1zM2 23h1v1h-1zM7 23h1v1h-1zM9 23h1v1h-1zM11 23h1v1h-1zM5 24h1v1h-1zM5 25h1v1h-1zM8 25h2v1h-2zM0 26h1v1h-1zM4 26h1v1h-1zM10 26h1v1h-1zM10 27h1v1h-1zM6 28h1v1h-1zM2 29h1v1h-1zM0 30h1v1h-1zM8 30h1v1h-1zM0 31h1v1h-1zM6 31h3v1h-3zM6 32h1v1h-1zM10 33h1v1h-1zM6 34h1v1h-1zM10 34h1v1h-1zM0 35h1v1h-1zM2 35h1v1h-1zM5 35h1v1h-1zM4 36h1v1h-1zM7 36h2v1h-2zM10 37h2v1h-2zM0 38h1v1h-1zM3 38h1v1h-1zM10 38h2v1h-2zM0 39h1v1h-1zM4 39h1v1h-1zM0 40h1v1h-1zM6 40h1v1h-1zM11 40h1v1h-1zM2 41h1v1h-1zM6 41h1v1h-1zM10 44h1v1h-1zM3 45h1v1h-1zM6 45h1v1h-1zM9 45h1v1h-1zM11 45h1v1h-1zM0 46h1v1h-1zM11 46h1v1h-1zM8 47h1v1h-1zM2 48h1v1h-1zM2 49h1v1h-1zM4 49h1v1h-1zM0 50h1v1h-1zM7 50h1v1h-1zM9 50h1v1h-1zM7 51h3v1h-3zM7 52h3v1h-3zM5 54h1v1h-1zM7 55h1v1h-1zM10 55h1v1h-1zM0 57h1v1h-1zM4 57h1v1h-1zM7 57h1v1h-1zM1 58h1v1h-1zM11 58h1v1h-1zM9 59h1v1h-1zM11 59h1v1h-1zM5 60h1v1h-1zM7 61h1v1h-1zM0 62h1v1h-1zM2 62h1v1h-1zM0 63h1v1h-1zM4 64h1v1h-1zM8 64h1v1h-1zM1 66h1v1h-1zM5 66h1v1h-1zM9 66h1v1h-1zM7 67h1v1h-1zM10 67h1v1h-1zM7 68h1v1h-1zM10 68h1v1h-1zM2 69h1v1h-1zM10 69h1v1h-1zM0 71h1v1h-1zM2 71h1v1h-1zM6 71h3v1h-3zM2 72h1v1h-1zM0 73h1v1h-1zM7 73h1v1h-1zM3 74h2v1h-2zM7 74h1v1h-1zM1 75h1v1h-1zM6 75h2v1h-2zM9 75h1v1h-1zM5 76h1v1h-1zM7 76h1v1h-1zM9 76h1v1h-1zM5 77h1v1h-1zM7 77h1v1h-1zM9 77h1v1h-1zM4 80h2v1h-2zM11 80h1v1h-1zM6 81h1v1h-1zM3 82h1v1h-1zM9 82h1v1h-1zM0 83h1v1h-1zM9 83h1v1h-1zM11 83h1v1h-1zM8 84h1v1h-1zM8 85h2v1h-2zM0 86h1v1h-1zM9 86h1v1h-1zM5 87h1v1h-1zM3 90h1v1h-1zM4 92h1v1h-1zM8 92h1v1h-1zM8 93h1v1h-1zM2 94h3v1h-3zM8 95h1v1h-1zM10 95h1v1h-1zM8 97h1v1h-1zM3 98h1v1h-1zM9 99h2v1h-2zM0 100h1v1h-1zM2 100h2v1h-2zM7 100h1v1h-1zM10 100h1v1h-1zM10 101h2v1h-2zM0 102h1v1h-1zM9 102h1v1h-1zM7 103h1v1h-1zM0 104h1v1h-1zM10 104h1v1h-1zM9 105h1v1h-1zM3 106h1v1h-1zM0 107h1v1h-1zM11 107h1v1h-1zM5 108h1v1h-1zM7 108h1v1h-1zM3 110h1v1h-1zM3 111h1v1h-1zM4 112h1v1h-1zM6 112h2v1h-2zM4 113h1v1h-1zM7 113h1v1h-1zM1 114h1v1h-1zM3 114h2v1h-2zM8 115h1v1h-1zM0 116h1v1h-1zM6 116h1v1h-1zM10 116h1v1h-1zM0 117h1v1h-1zM6 117h1v1h-1zM8 120h1v1h-1zM11 120h1v1h-1zM0 121h1v1h-1zM10 121h1v1h-1zM2 123h1v1h-1zM1 125h1v1h-1zM7 126h1v1h-1zM5 127h1v1h-1zM11 127h1v1h-1zM0 128h1v1h-1zM9 128h1v1h-1zM6 129h1v1h-1zM6 132h1v1h-1z"/><path fill="#1e2007" d="M0 0h3v1h-3zM4 1h1v1h-1zM7 1h1v1h-1zM8 2h1v1h-1zM0 4h2v1h-2zM7 6h1v1h-1zM9 6h1v1h-1zM4 7h1v1h-1zM6 7h1v1h-1zM0 8h1v1h-1zM6 8h1v1h-1zM11 8h1v1h-1zM2 9h1v1h-1zM4 9h1v1h-1zM6 10h1v1h-1zM9 10h1v1h-1zM7 11h1v1h-1zM1 13h1v1h-1zM10 13h1v1h-1zM2 14h1v1h-1zM4 15h1v1h-1zM6 15h1v1h-1zM7 16h1v1h-1zM9 16h1v1h-1zM7 17h1v1h-1zM7 18h1v1h-1zM2 19h1v1h-1zM7 19h2v1h-2zM0 21h1v1h-1zM10 21h1v1h-1zM0 22h1v1h-1zM6 24h1v1h-1zM0 25h1v1h-1zM3 26h1v1h-1zM7 27h1v1h-1zM5 29h1v1h-1zM3 30h1v1h-1zM10 30h1v1h-1zM6 33h1v1h-1zM5 34h1v1h-1zM2 37h1v1h-1zM4 37h1v1h-1zM6 37h1v1h-1zM2 38h1v1h-1zM6 39h1v1h-1zM4 40h1v1h-1zM4 42h1v1h-1zM8 43h1v1h-1zM4 46h1v1h-1zM6 46h1v1h-1zM0 48h1v1h-1zM4 48h1v1h-1zM10 48h1v1h-1zM3 49h1v1h-1zM7 49h2v1h-2zM3 50h1v1h-1zM3 51h1v1h-1zM0 52h1v1h-1zM3 53h1v1h-1zM6 53h3v1h-3zM4 54h1v1h-1zM7 54h1v1h-1zM9 54h1v1h-1zM4 55h1v1h-1zM6 56h1v1h-1zM11 56h1v1h-1zM8 57h1v1h-1zM0 58h1v1h-1zM5 58h1v1h-1zM0 59h1v1h-1zM2 59h1v1h-1zM7 60h1v1h-1zM11 60h1v1h-1zM5 61h1v1h-1zM9 61h2v1h-2zM10 62h1v1h-1zM6 63h1v1h-1zM9 63h1v1h-1zM0 64h1v1h-1zM9 64h1v1h-1zM11 65h1v1h-1zM7 66h1v1h-1zM11 66h1v1h-1zM2 67h2v1h-2zM8 67h2v1h-2zM3 68h2v1h-2zM8 68h1v1h-1zM3 69h1v1h-1zM4 70h1v1h-1zM4 71h1v1h-1zM9 71h1v1h-1zM1 72h1v1h-1zM2 73h1v1h-1zM10 73h1v1h-1zM10 74h1v1h-1zM4 76h1v1h-1zM1 77h1v1h-1zM7 80h1v1h-1zM5 81h1v1h-1zM8 82h1v1h-1zM10 82h1v1h-1zM10 83h1v1h-1zM9 84h1v1h-1zM3 85h1v1h-1zM6 85h1v1h-1zM2 86h2v1h-2zM8 86h1v1h-1zM6 88h1v1h-1zM0 89h1v1h-1zM6 89h1v1h-1zM6 90h1v1h-1zM8 90h1v1h-1zM3 91h1v1h-1zM6 91h1v1h-1zM3 92h1v1h-1zM7 92h1v1h-1zM8 94h1v1h-1zM3 95h1v1h-1zM6 96h1v1h-1zM11 96h1v1h-1zM3 97h1v1h-1zM10 97h1v1h-1zM6 98h1v1h-1zM6 99h1v1h-1zM4 100h1v1h-1zM0 101h1v1h-1zM7 101h1v1h-1zM0 103h1v1h-1zM6 103h1v1h-1zM4 104h1v1h-1zM7 104h1v1h-1zM9 104h1v1h-1zM5 105h1v1h-1zM7 105h1v1h-1zM5 106h1v1h-1zM9 106h1v1h-1zM9 108h1v1h-1zM4 110h1v1h-1zM8 110h1v1h-1zM1 111h1v1h-1zM3 113h1v1h-1zM5 114h1v1h-1zM8 114h1v1h-1zM0 115h1v1h-1zM10 115h1v1h-1zM3 117h1v1h-1zM9 117h2v1h-2zM9 118h2v1h-2zM6 119h2v1h-2zM5 120h1v1h-1zM9 121h1v1h-1zM3 123h1v1h-1zM9 123h1v1h-1zM0 124h1v1h-1zM8 124h1v1h-1zM0 126h1v1h-1zM2 126h1v1h-1zM3 127h1v1h-1zM2 128h1v1h-1zM7 129h1v1h-1zM1 132h1v1h-1zM0 133h3v1h-3zM8 133h1v1h-1z"/><path fill="#3c3f0e" d="M9 0h1v1h-1zM3 1h1v1h-1zM10 4h1v1h-1zM6 5h1v1h-1zM8 5h1v1h-1zM10 5h1v1h-1zM6 6h1v1h-1zM2 8h1v1h-1zM9 8h1v1h-1zM9 9h2v1h-2zM0 10h1v1h-1zM2 11h1v1h-1zM3 14h1v1h-1zM11 14h1v1h-1zM1 16h1v1h-1zM10 16h1v1h-1zM4 17h1v1h-1zM8 18h1v1h-1zM9 19h1v1h-1zM2 20h1v1h-1zM10 22h1v1h-1zM3 24h1v1h-1zM2 26h1v1h-1zM0 28h1v1h-1zM2 28h1v1h-1zM7 28h1v1h-1zM3 29h1v1h-1zM6 29h1v1h-1zM5 32h1v1h-1zM4 33h1v1h-1zM7 34h1v1h-1zM11 35h1v1h-1zM6 36h1v1h-1zM7 37h1v1h-1zM4 38h1v1h-1zM6 38h1v1h-1zM9 39h2v1h-2zM2 40h1v1h-1zM10 41h1v1h-1zM10 45h1v1h-1zM2 47h1v1h-1zM6 47h2v1h-2zM10 47h1v1h-1zM7 48h1v1h-1zM2 50h1v1h-1zM2 51h1v1h-1zM2 53h1v1h-1zM10 53h1v1h-1zM2 54h1v1h-1zM6 54h1v1h-1zM2 55h1v1h-1zM4 62h1v1h-1zM3 64h1v1h-1zM6 64h1v1h-1zM6 67h1v1h-1zM4 69h1v1h-1zM7 69h1v1h-1zM5 70h1v1h-1zM3 71h1v1h-1zM4 72h1v1h-1zM3 73h1v1h-1zM2 74h1v1h-1zM3 76h1v1h-1zM6 76h1v1h-1zM2 78h1v1h-1zM7 78h3v1h-3zM3 79h1v1h-1zM8 79h1v1h-1zM6 80h1v1h-1zM10 80h1v1h-1zM6 83h1v1h-1zM2 84h1v1h-1zM6 84h1v1h-1zM6 86h1v1h-1zM8 88h1v1h-1zM3 89h1v1h-1zM2 90h1v1h-1zM10 91h1v1h-1zM3 93h1v1h-1zM6 94h1v1h-1zM2 95h1v1h-1zM6 95h1v1h-1zM2 97h1v1h-1zM9 97h1v1h-1zM3 99h1v1h-1zM7 99h1v1h-1zM6 100h1v1h-1zM2 101h1v1h-1zM3 102h1v1h-1zM9 103h1v1h-1zM3 104h1v1h-1zM0 106h1v1h-1zM3 107h1v1h-1zM9 107h1v1h-1zM0 108h1v1h-1zM6 109h1v1h-1zM9 114h1v1h-1zM7 115h1v1h-1zM9 115h1v1h-1zM11 116h1v1h-1zM0 118h1v1h-1zM8 118h1v1h-1zM4 119h1v1h-1zM9 119h1v1h-1zM9 120h1v1h-1zM11 121h1v1h-1zM11 122h1v1h-1zM11 123h1v1h-1zM9 126h2v1h-2zM1 127h2v1h-2zM4 127h1v1h-1zM4 128h1v1h-1zM0 130h1v1h-1zM3 130h1v1h-1zM0 131h2v1h-2zM3 131h1v1h-1zM7 132h2v1h-2z"/><path fill="#595e16" d="M6 0h1v1h-1zM2 1h1v1h-1zM11 1h1v1h-1zM6 4h1v1h-1zM1 5h2v1h-2zM11 6h1v1h-1zM7 7h1v1h-1zM1 10h1v1h-1zM9 11h1v1h-1zM0 12h1v1h-1zM11 12h1v1h-1zM0 13h1v1h-1zM9 13h1v1h-1zM7 15h1v1h-1zM2 16h1v1h-1zM0 17h1v1h-1zM5 17h1v1h-1zM0 18h2v1h-2zM4 20h1v1h-1zM2 21h1v1h-1zM9 21h1v1h-1zM4 23h1v1h-1zM7 24h1v1h-1zM2 27h1v1h-1zM3 31h1v1h-1zM4 32h1v1h-1zM2 33h1v1h-1zM2 34h1v1h-1zM3 37h1v1h-1zM3 40h1v1h-1zM2 43h1v1h-1zM6 43h1v1h-1zM2 44h1v1h-1zM7 46h1v1h-1zM3 47h1v1h-1zM6 49h1v1h-1zM6 50h1v1h-1zM3 56h1v1h-1zM5 56h1v1h-1zM4 59h2v1h-2zM1 60h1v1h-1zM3 60h1v1h-1zM6 62h1v1h-1zM10 63h1v1h-1zM2 64h1v1h-1zM4 66h1v1h-1zM8 70h1v1h-1zM10 71h1v1h-1zM6 73h1v1h-1zM6 74h1v1h-1zM4 75h1v1h-1zM11 77h1v1h-1zM2 79h1v1h-1zM9 80h1v1h-1zM11 81h1v1h-1zM2 82h1v1h-1zM2 85h1v1h-1zM10 85h1v1h-1zM4 89h1v1h-1zM2 93h1v1h-1zM6 93h1v1h-1zM10 94h1v1h-1zM0 95h1v1h-1zM0 96h1v1h-1zM6 97h1v1h-1zM1 98h1v1h-1zM11 98h1v1h-1zM4 101h1v1h-1zM6 104h1v1h-1zM7 106h1v1h-1zM1 107h1v1h-1zM4 107h1v1h-1zM7 107h1v1h-1zM3 108h1v1h-1zM11 108h1v1h-1zM11 109h1v1h-1zM9 112h1v1h-1zM9 116h1v1h-1zM1 122h1v1h-1zM9 122h1v1h-1zM10 124h1v1h-1zM9 125h1v1h-1zM6 126h1v1h-1zM0 127h1v1h-1zM11 129h1v1h-1z"/><path fill="#777e1d" d="M9 2h1v1h-1zM1 3h1v1h-1zM3 3h1v1h-1zM9 4h1v1h-1zM0 5h1v1h-1zM1 8h1v1h-1zM8 8h1v1h-1zM8 9h1v1h-1zM8 10h1v1h-1zM8 11h1v1h-1zM6 13h1v1h-1zM8 13h1v1h-1zM4 14h1v1h-1zM6 16h1v1h-1zM8 16h1v1h-1zM6 17h1v1h-1zM2 18h1v1h-1zM9 18h1v1h-1zM11 20h1v1h-1zM8 22h1v1h-1zM2 25h1v1h-1zM10 25h1v1h-1zM6 26h1v1h-1zM2 30h1v1h-1zM5 30h1v1h-1zM5 33h1v1h-1zM4 34h1v1h-1zM4 35h1v1h-1zM2 39h1v1h-1zM6 42h1v1h-1zM10 42h1v1h-1zM5 46h1v1h-1zM3 48h1v1h-1zM6 51h1v1h-1zM6 52h1v1h-1zM2 57h1v1h-1zM5 57h2v1h-2zM4 58h1v1h-1zM7 58h1v1h-1zM2 61h1v1h-1zM8 61h1v1h-1zM3 62h1v1h-1zM2 63h1v1h-1zM8 63h1v1h-1zM0 65h1v1h-1zM4 65h2v1h-2zM2 68h1v1h-1zM6 68h1v1h-1zM6 69h1v1h-1zM2 70h1v1h-1zM11 72h1v1h-1zM11 75h1v1h-1zM4 77h1v1h-1zM5 78h2v1h-2zM5 79h3v1h-3zM1 81h1v1h-1zM4 81h1v1h-1zM6 82h1v1h-1zM3 83h1v1h-1zM10 84h1v1h-1zM10 86h1v1h-1zM1 87h1v1h-1zM4 87h1v1h-1zM10 88h1v1h-1zM10 90h1v1h-1zM2 92h1v1h-1zM6 92h1v1h-1zM10 93h1v1h-1zM10 96h1v1h-1zM0 99h1v1h-1zM3 101h1v1h-1zM8 103h1v1h-1zM10 103h1v1h-1zM6 105h1v1h-1zM4 108h1v1h-1zM0 109h1v1h-1zM8 109h1v1h-1zM10 110h2v1h-2zM0 113h1v1h-1zM1 115h1v1h-1zM4 116h1v1h-1zM6 118h2v1h-2zM11 118h1v1h-1zM3 119h1v1h-1zM6 120h1v1h-1zM1 121h1v1h-1zM4 121h1v1h-1zM0 122h1v1h-1zM8 122h1v1h-1zM10 122h1v1h-1zM0 123h1v1h-1zM10 123h1v1h-1zM1 124h1v1h-1zM6 125h3v1h-3zM11 125h1v1h-1zM9 129h1v1h-1zM4 130h1v1h-1zM11 130h1v1h-1zM2 131h1v1h-1zM11 132h1v1h-1zM3 133h1v1h-1z"/><path fill="#959e24" d="M1 1h1v1h-1zM6 9h1v1h-1zM2 10h1v1h-1zM1 11h1v1h-1zM1 17h1v1h-1zM8 21h1v1h-1zM2 22h1v1h-1zM6 22h1v1h-1zM2 24h1v1h-1zM4 24h1v1h-1zM6 25h1v1h-1zM0 27h1v1h-1zM3 28h1v1h-1zM1 29h1v1h-1zM6 30h1v1h-1zM2 31h1v1h-1zM5 31h1v1h-1zM3 32h1v1h-1zM3 33h1v1h-1zM3 34h1v1h-1zM1 35h1v1h-1zM3 35h1v1h-1zM2 36h1v1h-1zM3 41h1v1h-1zM2 42h1v1h-1zM5 42h1v1h-1zM6 44h1v1h-1zM2 45h1v1h-1zM3 46h1v1h-1zM5 47h1v1h-1zM2 52h1v1h-1zM5 52h1v1h-1zM5 55h2v1h-2zM4 60h1v1h-1zM6 61h1v1h-1zM5 62h1v1h-1zM5 63h1v1h-1zM5 68h1v1h-1zM5 69h1v1h-1zM5 71h1v1h-1zM3 72h1v1h-1zM6 72h1v1h-1zM3 77h1v1h-1zM3 81h1v1h-1zM5 82h1v1h-1zM2 88h1v1h-1zM5 88h1v1h-1zM2 91h1v1h-1zM5 91h1v1h-1zM5 92h1v1h-1zM5 93h1v1h-1zM3 96h1v1h-1zM5 96h1v1h-1zM5 97h1v1h-1zM7 98h1v1h-1zM9 98h1v1h-1zM9 101h1v1h-1zM6 102h1v1h-1zM5 103h1v1h-1zM5 104h1v1h-1zM3 105h2v1h-2zM1 106h1v1h-1zM4 106h1v1h-1zM5 107h1v1h-1zM1 108h1v1h-1zM10 109h1v1h-1zM10 111h2v1h-2zM1 112h1v1h-1zM1 113h1v1h-1zM11 115h1v1h-1zM8 117h1v1h-1zM11 117h1v1h-1zM3 121h1v1h-1zM1 123h1v1h-1zM7 127h1v1h-1zM1 128h1v1h-1zM11 128h1v1h-1zM4 129h1v1h-1zM6 131h1v1h-1zM11 131h1v1h-1zM0 132h1v1h-1zM10 133h2v1h-2z"/><path fill="#b2bd2c" d="M8 4h1v1h-1zM1 6h1v1h-1zM1 14h1v1h-1zM5 20h1v1h-1zM1 27h1v1h-1zM4 28h1v1h-1zM4 29h1v1h-1zM7 32h1v1h-1zM5 36h1v1h-1zM5 37h1v1h-1zM5 39h1v1h-1zM5 41h1v1h-1zM5 45h1v1h-1zM5 49h1v1h-1zM5 50h1v1h-1zM5 51h1v1h-1zM5 53h1v1h-1zM3 58h1v1h-1zM3 59h1v1h-1zM5 64h1v1h-1zM3 65h1v1h-1zM5 67h1v1h-1zM2 76h1v1h-1zM3 80h1v1h-1zM5 83h1v1h-1zM5 84h1v1h-1zM5 85h1v1h-1zM5 86h1v1h-1zM3 87h1v1h-1zM5 89h1v1h-1zM5 90h1v1h-1zM5 95h1v1h-1zM5 99h1v1h-1zM5 102h1v1h-1zM0 110h1v1h-1zM0 111h1v1h-1zM11 112h1v1h-1zM11 113h1v1h-1zM3 116h1v1h-1zM1 119h1v1h-1zM1 129h1v1h-1zM1 130h1v1h-1z"/><path fill="#d0dc33" d="M11 3h1v1h-1zM1 12h1v1h-1zM1 15h1v1h-1zM5 26h1v1h-1zM5 40h1v1h-1zM5 43h1v1h-1zM5 44h1v1h-1zM5 48h1v1h-1zM1 54h1v1h-1zM4 56h1v1h-1zM3 66h1v1h-1zM6 70h1v1h-1zM5 73h1v1h-1zM5 74h1v1h-1zM3 75h1v1h-1zM7 114h1v1h-1zM11 124h1v1h-1zM8 126h1v1h-1z"/><path fill="#eefc3a" d="M1 2h1v1h-1zM1 7h1v1h-1zM1 19h1v1h-1zM1 23h1v1h-1zM5 38h1v1h-1zM5 94h1v1h-1zM5 100h1v1h-1zM7 120h1v1h-1z"/></g><text x="1143.7" y="1146.6" font-size="17.5" text-anchor="middle" fill="#1a1a1a" font-family="'Liberation Sans', Arial, sans-serif">0</text><text x="1183.2" y="1146.6" font-size="17.5" text-anchor="middle" fill="#1a1a1a" font-family="'Liberation Sans', Arial, sans-serif">2</text><text x="1222.6" y="1146.6" font-size="17.5" text-anchor="middle" fill="#1a1a1a" font-family="'Liberation Sans', Arial, sans-serif">4</text><text x="1262.1" y="1146.6" font-size="17.5" text-anchor="middle" fill="#1a1a1a" font-family="'Liberation Sans', Arial, sans-serif">6</text><text x="1301.5" y="1146.6" font-size="17.5" text-anchor="middle" fill="#1a1a1a" font-family="'Liberation Sans', Arial, sans-serif">8</text><text x="1341.0" y="1146.6" font-size="17.5" text-anchor="middle" fill="#1a1a1a" font-family="'Liberation Sans', Arial, sans-serif">10</text><text x="1380.4" y="1146.6" font-size="17.5" text-anchor="middle" fill="#1a1a1a" font-family="'Liberation Sans', Arial, sans-serif">12</text><text x="1419.9" y="1146.6" font-size="17.5" text-anchor="middle" fill="#1a1a1a" font-family="'Liberation Sans', Arial, sans-serif">14</text><text x="1459.3" y="1146.6" font-size="17.5" text-anchor="middle" fill="#1a1a1a" font-family="'Liberation Sans', Arial, sans-serif">16</text><text x="1498.8" y="1146.6" font-size="17.5" text-anchor="middle" fill="#1a1a1a" font-family="'Liberation Sans', Arial, sans-serif">18</text><text x="1538.2" y="1146.6" font-size="17.5" text-anchor="middle" fill="#1a1a1a" font-family="'Liberation Sans', Arial, sans-serif">20</text><text x="1577.7" y="1146.6" font-size="17.5" text-anchor="middle" fill="#1a1a1a" font-family="'Liberation Sans', Arial, sans-serif">22</text><text x="1685.0" y="1146.6" font-size="17.5" text-anchor="middle" fill="#1a1a1a" font-family="'Liberation Sans', Arial, sans-serif">0</text><text x="1724.5" y="1146.6" font-size="17.5" text-anchor="middle" fill="#1a1a1a" font-family="'Liberation Sans', Arial, sans-serif">2</text><text x="1763.9" y="1146.6" font-size="17.5" text-anchor="middle" fill="#1a1a1a" font-family="'Liberation Sans', Arial, sans-serif">4</text><text x="1803.4" y="1146.6" font-size="17.5" text-anchor="middle" fill="#1a1a1a" font-family="'Liberation Sans', Arial, sans-serif">6</text><text x="1842.8" y="1146.6" font-size="17.5" text-anchor="middle" fill="#1a1a1a" font-family="'Liberation Sans', Arial, sans-serif">8</text><text x="1882.3" y="1146.6" font-size="17.5" text-anchor="middle" fill="#1a1a1a" font-family="'Liberation Sans', Arial, sans-serif">10</text><text x="1921.7" y="1146.6" font-size="17.5" text-anchor="middle" fill="#1a1a1a" font-family="'Liberation Sans', Arial, sans-serif">12</text><text x="1961.2" y="1146.6" font-size="17.5" text-anchor="middle" fill="#1a1a1a" font-family="'Liberation Sans', Arial, sans-serif">14</text><text x="2000.6" y="1146.6" font-size="17.5" text-anchor="middle" fill="#1a1a1a" font-family="'Liberation Sans', Arial, sans-serif">16</text><text x="2040.1" y="1146.6" font-size="17.5" text-anchor="middle" fill="#1a1a1a" font-family="'Liberation Sans', Arial, sans-serif">18</text><text x="2079.5" y="1146.6" font-size="17.5" text-anchor="middle" fill="#1a1a1a" font-family="'Liberation Sans', Arial, sans-serif">20</text><text x="2119.0" y="1146.6" font-size="17.5" text-anchor="middle" fill="#1a1a1a" font-family="'Liberation Sans', Arial, sans-serif">22</text><text x="1256.0" y="1216.0" font-size="39.0" textLength="224.0" lengthAdjust="spacingAndGlyphs" font-family="'Liberation Sans', Arial, sans-serif">P= 1.64 x 10</text><text x="1482.0" y="1202.0" font-size="26.0" textLength="37.0" lengthAdjust="spacingAndGlyphs" font-family="'Liberation Sans', Arial, sans-serif">-11</text><text x="1841.6" y="1216.0" font-size="39.0" textLength="109.0" lengthAdjust="spacingAndGlyphs" font-family="'Liberation Sans', Arial, sans-serif">P&gt; 0.1</text><text x="33.4" y="1299.5" font-size="52.6" font-weight="bold" textLength="47.0" lengthAdjust="spacingAndGlyphs" font-family="'Liberation Sans', Arial, sans-serif">C.</text><text x="135.3" y="1296.7" font-size="20.5" font-weight="bold" textLength="337.5" lengthAdjust="spacingAndGlyphs" fill="#111" font-family="'Liberation Sans', Arial, sans-serif">Phase of Genes in WT Micro Pathway</text><path d="M154.4,1846.5 L156.2,1828.1 L158.0,1810.3 L159.7,1793.0 L161.5,1776.4 L163.3,1760.3 L165.1,1744.9 L166.9,1730.2 L168.7,1716.2 L170.5,1702.9 L172.3,1690.5 L174.0,1678.8 L175.8,1668.0 L177.6,1658.1 L179.4,1649.1 L181.2,1640.8 L183.0,1632.5 L184.8,1624.3 L186.6,1616.3 L188.3,1608.7 L190.1,1601.8 L191.9,1595.7 L193.7,1590.7 L195.5,1586.9 L197.3,1584.7 L199.1,1584.1 L200.8,1584.9 L202.6,1586.7 L204.4,1589.1 L206.2,1592.0 L208.0,1594.8 L209.8,1597.4 L211.6,1599.5 L213.4,1600.6 L215.1,1599.9 L216.9,1593.4 L218.7,1581.7 L220.5,1565.9 L222.3,1547.3 L224.1,1527.0 L225.9,1506.3 L227.7,1486.4 L229.4,1468.5 L231.2,1453.7 L233.0,1442.1 L234.8,1430.2 L236.6,1418.2 L238.4,1406.2 L240.2,1394.5 L242.0,1383.3 L243.7,1372.8 L245.5,1363.3 L247.3,1355.0 L249.1,1348.1 L250.9,1342.9 L252.7,1339.6 L254.5,1338.4 L256.3,1339.3 L258.0,1341.8 L259.8,1345.7 L261.6,1350.9 L263.4,1357.1 L265.2,1364.1 L267.0,1371.8 L268.8,1379.9 L270.6,1388.3 L272.3,1396.7 L274.1,1404.9 L275.9,1412.8 L277.7,1420.1 L279.5,1427.0 L281.3,1434.2 L283.1,1441.7 L284.9,1449.4 L286.6,1457.1 L288.4,1464.9 L290.2,1472.6 L292.0,1480.1 L293.8,1487.4 L295.6,1494.3 L297.4,1500.8 L299.1,1506.8 L300.9,1512.3 L302.7,1517.4 L304.5,1522.3 L306.3,1526.9 L308.1,1531.3 L309.9,1535.7 L311.7,1540.1 L313.4,1544.6 L315.2,1549.3 L317.0,1554.3 L318.8,1559.6 L320.6,1565.4 L322.4,1571.9 L324.2,1579.2 L326.0,1586.9 L327.7,1595.0 L329.5,1603.3 L331.3,1611.7 L333.1,1620.0 L334.9,1628.0 L336.7,1635.7 L338.5,1642.8 L340.3,1649.2 L342.0,1654.7 L343.8,1659.3 L345.6,1662.8 L347.4,1665.7 L349.2,1668.7 L351.0,1671.5 L352.8,1674.3 L354.6,1676.9 L356.3,1679.3 L358.1,1681.5 L359.9,1683.6 L361.7,1685.4 L363.5,1687.0 L365.3,1688.2 L367.1,1689.2 L368.9,1689.8 L370.6,1690.1 L372.4,1690.0 L374.2,1689.6 L376.0,1688.9 L377.8,1688.1 L379.6,1687.1 L381.4,1686.0 L383.1,1684.9 L384.9,1683.9 L386.7,1683.0 L388.5,1682.3 L390.3,1681.9 L392.1,1681.8 L393.9,1682.6 L395.7,1684.4 L397.4,1687.2 L399.2,1690.8 L401.0,1695.1 L402.8,1699.9 L404.6,1705.1 L406.4,1710.6 L408.2,1716.2 L410.0,1721.8 L411.7,1727.3 L413.5,1732.9 L415.3,1739.4 L417.1,1746.9 L418.9,1755.1 L420.7,1763.9 L422.5,1773.0 L424.3,1782.3 L426.0,1791.6 L427.8,1800.7 L429.6,1809.5 L431.4,1817.7 L433.2,1825.2 L435.0,1831.9 L436.8,1837.4 L438.6,1841.7 L440.3,1845.5 L442.1,1849.3 L443.9,1853.1 L445.7,1856.7 L447.5,1860.3 L449.3,1863.7 L451.1,1867.0 L452.9,1870.2 L454.6,1873.2 L456.4,1876.1 L458.2,1878.7 L460.0,1881.1 L461.8,1883.3 L463.6,1885.3 L465.4,1887.0 L467.2,1888.5 L468.9,1889.6 L470.7,1890.4 L472.5,1890.9 L474.3,1891.1 L474.3,1896.7 L154.4,1896.7Z" fill="#F8766D" fill-opacity="0.10"/><path d="M154.4,1852.0 L156.2,1826.7 L158.0,1802.1 L159.7,1778.3 L161.5,1755.3 L163.3,1733.3 L165.1,1712.3 L166.9,1692.5 L168.7,1673.9 L170.5,1656.6 L172.3,1640.7 L174.0,1626.3 L175.8,1613.5 L177.6,1602.4 L179.4,1593.1 L181.2,1585.4 L183.0,1577.9 L184.8,1570.7 L186.6,1563.8 L188.3,1557.4 L190.1,1551.5 L191.9,1546.3 L193.7,1541.8 L195.5,1538.3 L197.3,1535.7 L199.1,1534.2 L200.8,1533.8 L202.6,1534.8 L204.4,1536.7 L206.2,1539.4 L208.0,1542.4 L209.8,1545.5 L211.6,1548.3 L213.4,1550.6 L215.1,1552.0 L216.9,1551.3 L218.7,1540.5 L220.5,1520.9 L222.3,1497.2 L224.1,1473.8 L225.9,1455.3 L227.7,1444.1 L229.4,1434.1 L231.2,1424.2 L233.0,1414.6 L234.8,1405.4 L236.6,1396.5 L238.4,1388.0 L240.2,1380.1 L242.0,1372.6 L243.7,1365.8 L245.5,1359.6 L247.3,1354.0 L249.1,1349.3 L250.9,1345.3 L252.7,1342.2 L254.5,1339.9 L256.3,1338.7 L258.0,1338.5 L259.8,1340.9 L261.6,1345.9 L263.4,1353.2 L265.2,1362.2 L267.0,1372.5 L268.8,1383.6 L270.6,1395.1 L272.3,1406.4 L274.1,1417.0 L275.9,1426.5 L277.7,1435.9 L279.5,1446.7 L281.3,1458.1 L283.1,1469.4 L284.9,1479.8 L286.6,1488.4 L288.4,1494.6 L290.2,1497.4 L292.0,1497.2 L293.8,1495.8 L295.6,1493.7 L297.4,1491.2 L299.1,1488.6 L300.9,1486.3 L302.7,1484.5 L304.5,1483.6 L306.3,1484.3 L308.1,1488.0 L309.9,1494.2 L311.7,1502.6 L313.4,1512.8 L315.2,1524.2 L317.0,1536.6 L318.8,1549.4 L320.6,1562.3 L322.4,1574.9 L324.2,1586.6 L326.0,1597.9 L327.7,1610.4 L329.5,1623.7 L331.3,1637.5 L333.1,1651.1 L334.9,1664.3 L336.7,1676.5 L338.5,1687.3 L340.3,1696.2 L342.0,1704.3 L343.8,1712.5 L345.6,1720.6 L347.4,1728.4 L349.2,1735.9 L351.0,1742.7 L352.8,1748.8 L354.6,1754.0 L356.3,1758.1 L358.1,1761.0 L359.9,1762.5 L361.7,1762.6 L363.5,1761.5 L365.3,1759.5 L367.1,1756.7 L368.9,1753.3 L370.6,1749.4 L372.4,1745.2 L374.2,1740.8 L376.0,1736.2 L377.8,1731.8 L379.6,1727.6 L381.4,1723.7 L383.1,1719.8 L384.9,1715.3 L386.7,1710.4 L388.5,1705.3 L390.3,1700.1 L392.1,1695.1 L393.9,1690.5 L395.7,1686.4 L397.4,1683.0 L399.2,1680.6 L401.0,1679.2 L402.8,1679.1 L404.6,1681.0 L406.4,1684.6 L408.2,1689.8 L410.0,1696.2 L411.7,1703.7 L413.5,1711.9 L415.3,1720.7 L417.1,1729.8 L418.9,1738.9 L420.7,1747.7 L422.5,1756.1 L424.3,1764.7 L426.0,1774.7 L427.8,1785.7 L429.6,1797.5 L431.4,1809.5 L433.2,1821.4 L435.0,1832.8 L436.8,1843.4 L438.6,1852.8 L440.3,1860.5 L442.1,1866.2 L443.9,1869.7 L445.7,1872.5 L447.5,1875.2 L449.3,1877.8 L451.1,1880.2 L452.9,1882.5 L454.6,1884.6 L456.4,1886.6 L458.2,1888.4 L460.0,1890.1 L461.8,1891.6 L463.6,1892.9 L465.4,1894.0 L467.2,1895.0 L468.9,1895.7 L470.7,1896.3 L472.5,1896.6 L474.3,1896.7 L474.3,1896.7 L154.4,1896.7Z" fill="#D89000" fill-opacity="0.10"/><path d="M154.4,1857.6 L156.2,1836.3 L158.0,1815.5 L159.7,1795.5 L161.5,1776.2 L163.3,1757.7 L165.1,1740.0 L166.9,1723.3 L168.7,1707.6 L170.5,1692.9 L172.3,1679.4 L174.0,1667.0 L175.8,1655.9 L177.6,1646.0 L179.4,1637.6 L181.2,1630.3 L183.0,1623.1 L184.8,1616.2 L186.6,1609.6 L188.3,1603.5 L190.1,1597.9 L191.9,1593.1 L193.7,1589.2 L195.5,1586.3 L197.3,1584.5 L199.1,1584.1 L200.8,1584.6 L202.6,1585.8 L204.4,1587.4 L206.2,1589.3 L208.0,1591.2 L209.8,1593.0 L211.6,1594.3 L213.4,1595.1 L215.1,1594.3 L216.9,1588.0 L218.7,1576.6 L220.5,1561.2 L222.3,1543.1 L224.1,1523.4 L225.9,1503.4 L227.7,1484.3 L229.4,1467.3 L231.2,1453.5 L233.0,1442.8 L234.8,1432.1 L236.6,1421.4 L238.4,1410.7 L240.2,1400.2 L242.0,1390.0 L243.7,1380.3 L245.5,1371.3 L247.3,1363.1 L249.1,1355.8 L250.9,1349.6 L252.7,1344.6 L254.5,1341.0 L256.3,1338.9 L258.0,1338.5 L259.8,1341.1 L261.6,1346.6 L263.4,1354.5 L265.2,1364.2 L267.0,1375.3 L268.8,1387.2 L270.6,1399.4 L272.3,1411.2 L274.1,1422.3 L275.9,1432.1 L277.7,1441.4 L279.5,1451.9 L281.3,1462.9 L283.1,1473.7 L284.9,1483.6 L286.6,1491.8 L288.4,1497.5 L290.2,1500.2 L292.0,1500.0 L293.8,1498.7 L295.6,1496.7 L297.4,1494.2 L299.1,1491.5 L300.9,1488.8 L302.7,1486.5 L304.5,1484.7 L306.3,1483.7 L308.1,1484.2 L309.9,1488.2 L311.7,1495.5 L313.4,1505.4 L315.2,1517.4 L317.0,1530.8 L318.8,1545.0 L320.6,1559.4 L322.4,1573.4 L324.2,1586.3 L326.0,1598.6 L327.7,1611.8 L329.5,1625.9 L331.3,1640.2 L333.1,1654.5 L334.9,1668.2 L336.7,1681.0 L338.5,1692.3 L340.3,1701.8 L342.0,1710.6 L343.8,1719.4 L345.6,1728.1 L347.4,1736.6 L349.2,1744.6 L351.0,1752.1 L352.8,1758.7 L354.6,1764.3 L356.3,1768.8 L358.1,1772.0 L359.9,1773.7 L361.7,1773.8 L363.5,1772.9 L365.3,1771.2 L367.1,1768.9 L368.9,1766.1 L370.6,1762.8 L372.4,1759.2 L374.2,1755.4 L376.0,1751.6 L377.8,1747.7 L379.6,1744.0 L381.4,1740.5 L383.1,1736.8 L384.9,1732.4 L386.7,1727.6 L388.5,1722.5 L390.3,1717.3 L392.1,1712.3 L393.9,1707.6 L395.7,1703.4 L397.4,1699.9 L399.2,1697.4 L401.0,1695.9 L402.8,1695.9 L404.6,1697.9 L406.4,1701.7 L408.2,1707.2 L410.0,1713.9 L411.7,1721.7 L413.5,1730.2 L415.3,1739.1 L417.1,1748.1 L418.9,1756.9 L420.7,1765.3 L422.5,1773.0 L424.3,1780.3 L426.0,1788.3 L427.8,1796.8 L429.6,1805.7 L431.4,1814.8 L433.2,1823.9 L435.0,1832.9 L436.8,1841.6 L438.6,1849.9 L440.3,1857.5 L442.1,1864.4 L443.9,1870.3 L445.7,1875.1 L447.5,1878.6 L449.3,1880.8 L451.1,1882.7 L452.9,1884.6 L454.6,1886.3 L456.4,1888.0 L458.2,1889.5 L460.0,1890.9 L461.8,1892.2 L463.6,1893.3 L465.4,1894.3 L467.2,1895.2 L468.9,1895.8 L470.7,1896.3 L472.5,1896.6 L474.3,1896.7 L474.3,1896.7 L154.4,1896.7Z" fill="#A3A500" fill-opacity="0.10"/><path d="M154.4,1874.4 L156.2,1870.6 L158.0,1866.6 L159.7,1862.4 L161.5,1858.0 L163.3,1853.4 L165.1,1848.7 L166.9,1843.8 L168.7,1838.7 L170.5,1833.5 L172.3,1828.2 L174.0,1822.7 L175.8,1817.0 L177.6,1811.3 L179.4,1805.4 L181.2,1799.4 L183.0,1793.3 L184.8,1787.1 L186.6,1780.7 L188.3,1774.2 L190.1,1767.5 L191.9,1760.6 L193.7,1753.5 L195.5,1746.2 L197.3,1738.6 L199.1,1730.9 L200.8,1723.0 L202.6,1714.8 L204.4,1706.5 L206.2,1697.9 L208.0,1689.1 L209.8,1680.1 L211.6,1670.9 L213.4,1661.5 L215.1,1651.8 L216.9,1641.9 L218.7,1631.0 L220.5,1619.1 L222.3,1606.3 L224.1,1592.9 L225.9,1578.8 L227.7,1564.4 L229.4,1549.7 L231.2,1534.9 L233.0,1520.2 L234.8,1505.6 L236.6,1491.4 L238.4,1477.7 L240.2,1464.7 L242.0,1452.4 L243.7,1441.1 L245.5,1430.8 L247.3,1421.9 L249.1,1413.4 L250.9,1404.7 L252.7,1396.0 L254.5,1387.4 L256.3,1379.0 L258.0,1371.0 L259.8,1363.6 L261.6,1356.8 L263.4,1350.9 L265.2,1346.0 L267.0,1342.2 L268.8,1339.6 L270.6,1338.4 L272.3,1338.9 L274.1,1341.0 L275.9,1344.6 L277.7,1349.5 L279.5,1355.5 L281.3,1362.5 L283.1,1370.3 L284.9,1378.6 L286.6,1387.3 L288.4,1396.2 L290.2,1405.2 L292.0,1414.0 L293.8,1422.5 L295.6,1431.4 L297.4,1441.3 L299.1,1451.9 L300.9,1463.1 L302.7,1474.8 L304.5,1486.7 L306.3,1498.8 L308.1,1510.9 L309.9,1522.8 L311.7,1534.3 L313.4,1545.3 L315.2,1555.8 L317.0,1566.3 L318.8,1577.0 L320.6,1587.7 L322.4,1598.4 L324.2,1608.8 L326.0,1619.0 L327.7,1628.8 L329.5,1638.1 L331.3,1646.7 L333.1,1654.7 L334.9,1661.9 L336.7,1668.7 L338.5,1675.6 L340.3,1682.6 L342.0,1689.5 L343.8,1696.3 L345.6,1702.8 L347.4,1709.0 L349.2,1714.8 L351.0,1720.0 L352.8,1724.6 L354.6,1728.4 L356.3,1731.5 L358.1,1733.6 L359.9,1734.7 L361.7,1734.6 L363.5,1733.4 L365.3,1731.1 L367.1,1727.9 L368.9,1723.9 L370.6,1719.4 L372.4,1714.6 L374.2,1709.5 L376.0,1704.3 L377.8,1699.3 L379.6,1694.5 L381.4,1690.3 L383.1,1685.9 L384.9,1681.1 L386.7,1675.8 L388.5,1670.4 L390.3,1664.9 L392.1,1659.7 L393.9,1654.8 L395.7,1650.5 L397.4,1646.9 L399.2,1644.4 L401.0,1642.9 L402.8,1642.8 L404.6,1644.4 L406.4,1647.6 L408.2,1652.1 L410.0,1657.8 L411.7,1664.4 L413.5,1671.7 L415.3,1679.5 L417.1,1687.6 L418.9,1695.8 L420.7,1703.8 L422.5,1711.5 L424.3,1719.4 L426.0,1728.4 L427.8,1738.5 L429.6,1749.3 L431.4,1760.6 L433.2,1772.2 L435.0,1783.9 L436.8,1795.4 L438.6,1806.6 L440.3,1817.2 L442.1,1827.0 L443.9,1835.8 L445.7,1843.3 L447.5,1849.4 L449.3,1853.9 L451.1,1858.0 L452.9,1862.1 L454.6,1866.1 L456.4,1869.8 L458.2,1873.4 L460.0,1876.8 L461.8,1879.9 L463.6,1882.6 L465.4,1885.1 L467.2,1887.2 L468.9,1888.8 L470.7,1890.1 L472.5,1890.9 L474.3,1891.1 L474.3,1896.7 L154.4,1896.7Z" fill="#39B600" fill-opacity="0.10"/><path d="M154.4,1885.5 L156.2,1880.9 L158.0,1876.1 L159.7,1871.4 L161.5,1866.5 L163.3,1861.6 L165.1,1856.7 L166.9,1851.7 L168.7,1846.6 L170.5,1841.5 L172.3,1836.4 L174.0,1831.2 L175.8,1825.9 L177.6,1820.6 L179.4,1815.3 L181.2,1810.0 L183.0,1804.8 L184.8,1799.8 L186.6,1794.9 L188.3,1790.0 L190.1,1785.0 L191.9,1780.0 L193.7,1774.8 L195.5,1769.3 L197.3,1763.6 L199.1,1757.4 L200.8,1750.9 L202.6,1743.9 L204.4,1736.3 L206.2,1728.1 L208.0,1718.4 L209.8,1706.8 L211.6,1693.6 L213.4,1679.1 L215.1,1663.4 L216.9,1646.8 L218.7,1629.5 L220.5,1611.8 L222.3,1594.0 L224.1,1576.2 L225.9,1558.7 L227.7,1541.7 L229.4,1525.5 L231.2,1510.3 L233.0,1495.6 L234.8,1479.7 L236.6,1462.7 L238.4,1445.2 L240.2,1427.7 L242.0,1410.5 L243.7,1394.1 L245.5,1379.0 L247.3,1365.6 L249.1,1354.4 L250.9,1345.8 L252.7,1340.4 L254.5,1338.4 L256.3,1339.8 L258.0,1343.7 L259.8,1349.6 L261.6,1357.2 L263.4,1366.1 L265.2,1375.7 L267.0,1385.7 L268.8,1395.6 L270.6,1405.0 L272.3,1413.5 L274.1,1421.2 L275.9,1429.8 L277.7,1439.1 L279.5,1448.5 L281.3,1457.5 L283.1,1465.5 L284.9,1471.9 L286.6,1476.3 L288.4,1478.0 L290.2,1476.4 L292.0,1471.9 L293.8,1465.3 L295.6,1457.5 L297.4,1449.3 L299.1,1441.7 L300.9,1435.4 L302.7,1431.5 L304.5,1430.8 L306.3,1435.7 L308.1,1446.0 L309.9,1460.6 L311.7,1478.2 L313.4,1497.6 L315.2,1517.8 L317.0,1537.4 L318.8,1555.4 L320.6,1571.4 L322.4,1587.6 L324.2,1604.1 L326.0,1620.8 L327.7,1637.7 L329.5,1654.4 L331.3,1671.0 L333.1,1687.2 L334.9,1702.9 L336.7,1718.0 L338.5,1732.3 L340.3,1746.8 L342.0,1761.6 L343.8,1776.4 L345.6,1790.9 L347.4,1804.8 L349.2,1817.7 L351.0,1829.5 L352.8,1839.7 L354.6,1848.1 L356.3,1854.4 L358.1,1860.3 L359.9,1866.1 L361.7,1871.5 L363.5,1876.7 L365.3,1881.4 L367.1,1885.6 L368.9,1889.3 L370.6,1892.3 L372.4,1894.6 L374.2,1896.1 L376.0,1896.7 L377.8,1896.7 L379.6,1896.7 L381.4,1896.7 L383.1,1896.7 L384.9,1896.7 L386.7,1896.7 L388.5,1896.7 L390.3,1896.7 L392.1,1896.7 L393.9,1896.7 L395.7,1896.7 L397.4,1896.7 L399.2,1896.7 L401.0,1896.7 L402.8,1896.7 L404.6,1896.7 L406.4,1896.7 L408.2,1896.7 L410.0,1896.7 L411.7,1896.7 L413.5,1896.7 L415.3,1896.7 L417.1,1896.7 L418.9,1896.7 L420.7,1896.7 L422.5,1896.7 L424.3,1896.7 L426.0,1896.7 L427.8,1896.7 L429.6,1896.7 L431.4,1896.7 L433.2,1896.7 L435.0,1896.7 L436.8,1896.7 L438.6,1896.7 L440.3,1896.7 L442.1,1896.7 L443.9,1896.7 L445.7,1896.7 L447.5,1896.7 L449.3,1896.7 L451.1,1896.7 L452.9,1896.7 L454.6,1896.7 L456.4,1896.7 L458.2,1896.7 L460.0,1896.7 L461.8,1896.7 L463.6,1896.7 L465.4,1896.7 L467.2,1896.7 L468.9,1896.7 L470.7,1896.7 L472.5,1896.7 L474.3,1896.7 L474.3,1896.7 L154.4,1896.7Z" fill="#00BF7D" fill-opacity="0.10"/><path d="M154.4,1868.8 L156.2,1850.5 L158.0,1832.6 L159.7,1815.3 L161.5,1798.7 L163.3,1782.7 L165.1,1767.6 L166.9,1753.4 L168.7,1740.2 L170.5,1728.0 L172.3,1717.0 L174.0,1707.3 L175.8,1698.9 L177.6,1691.9 L179.4,1686.4 L181.2,1682.4 L183.0,1678.7 L184.8,1675.3 L186.6,1672.2 L188.3,1669.4 L190.1,1666.8 L191.9,1664.5 L193.7,1662.4 L195.5,1660.6 L197.3,1659.0 L199.1,1657.7 L200.8,1656.6 L202.6,1655.8 L204.4,1655.1 L206.2,1654.6 L208.0,1654.2 L209.8,1653.8 L211.6,1653.3 L213.4,1652.6 L215.1,1651.8 L216.9,1650.1 L218.7,1642.5 L220.5,1628.6 L222.3,1609.7 L224.1,1587.2 L225.9,1562.3 L227.7,1536.5 L229.4,1511.1 L231.2,1487.5 L233.0,1466.8 L234.8,1450.6 L236.6,1436.9 L238.4,1422.9 L240.2,1408.9 L242.0,1395.3 L243.7,1382.3 L245.5,1370.4 L247.3,1359.8 L249.1,1351.0 L250.9,1344.2 L252.7,1339.9 L254.5,1338.4 L256.3,1339.8 L258.0,1343.7 L259.8,1349.8 L261.6,1357.6 L263.4,1366.8 L265.2,1376.9 L267.0,1387.5 L268.8,1398.3 L270.6,1408.7 L272.3,1418.5 L274.1,1427.8 L275.9,1438.7 L277.7,1450.9 L279.5,1463.4 L281.3,1475.6 L283.1,1486.7 L284.9,1495.9 L286.6,1502.6 L288.4,1505.8 L290.2,1506.7 L292.0,1507.4 L293.8,1507.9 L295.6,1508.3 L297.4,1508.6 L299.1,1508.9 L300.9,1509.2 L302.7,1509.7 L304.5,1510.2 L306.3,1511.0 L308.1,1512.6 L309.9,1517.1 L311.7,1524.6 L313.4,1534.4 L315.2,1546.0 L317.0,1559.0 L318.8,1572.8 L320.6,1587.0 L322.4,1600.9 L324.2,1614.1 L326.0,1627.0 L327.7,1641.4 L329.5,1657.1 L331.3,1673.5 L333.1,1690.5 L334.9,1707.4 L336.7,1723.9 L338.5,1739.7 L340.3,1754.2 L342.0,1767.1 L343.8,1777.9 L345.6,1786.4 L347.4,1793.9 L349.2,1801.3 L351.0,1808.6 L352.8,1815.5 L354.6,1822.1 L356.3,1828.1 L358.1,1833.6 L359.9,1838.4 L361.7,1842.5 L363.5,1845.7 L365.3,1847.9 L367.1,1849.1 L368.9,1849.1 L370.6,1848.0 L372.4,1845.9 L374.2,1843.0 L376.0,1839.6 L377.8,1835.8 L379.6,1831.8 L381.4,1827.9 L383.1,1824.2 L384.9,1821.0 L386.7,1818.4 L388.5,1816.0 L390.3,1813.5 L392.1,1811.0 L393.9,1808.6 L395.7,1806.2 L397.4,1804.0 L399.2,1802.0 L401.0,1800.3 L402.8,1798.9 L404.6,1797.9 L406.4,1797.4 L408.2,1797.6 L410.0,1799.1 L411.7,1801.9 L413.5,1805.7 L415.3,1810.1 L417.1,1815.0 L418.9,1819.9 L420.7,1824.8 L422.5,1829.2 L424.3,1833.4 L426.0,1838.1 L427.8,1843.1 L429.6,1848.3 L431.4,1853.5 L433.2,1858.7 L435.0,1863.7 L436.8,1868.3 L438.6,1872.4 L440.3,1875.9 L442.1,1878.6 L443.9,1880.5 L445.7,1882.1 L447.5,1883.7 L449.3,1885.1 L451.1,1886.6 L452.9,1887.9 L454.6,1889.2 L456.4,1890.4 L458.2,1891.5 L460.0,1892.6 L461.8,1893.5 L463.6,1894.3 L465.4,1895.0 L467.2,1895.6 L468.9,1896.1 L470.7,1896.4 L472.5,1896.6 L474.3,1896.7 L474.3,1896.7 L154.4,1896.7Z" fill="#00BFC4" fill-opacity="0.10"/><path d="M154.4,1863.2 L156.2,1844.9 L158.0,1827.0 L159.7,1809.7 L161.5,1793.1 L163.3,1777.1 L165.1,1762.0 L166.9,1747.8 L168.7,1734.6 L170.5,1722.4 L172.3,1711.4 L174.0,1701.7 L175.8,1693.3 L177.6,1686.3 L179.4,1680.8 L181.2,1676.8 L183.0,1673.1 L184.8,1669.7 L186.6,1666.6 L188.3,1663.8 L190.1,1661.2 L191.9,1658.9 L193.7,1656.8 L195.5,1655.0 L197.3,1653.5 L199.1,1652.1 L200.8,1651.0 L202.6,1650.2 L204.4,1649.5 L206.2,1649.0 L208.0,1648.6 L209.8,1648.2 L211.6,1647.7 L213.4,1647.1 L215.1,1646.2 L216.9,1644.6 L218.7,1637.2 L220.5,1623.9 L222.3,1605.7 L224.1,1584.0 L225.9,1560.1 L227.7,1535.1 L229.4,1510.4 L231.2,1487.3 L233.0,1466.9 L234.8,1450.6 L236.6,1436.5 L238.4,1422.0 L240.2,1407.3 L242.0,1393.0 L243.7,1379.5 L245.5,1367.2 L247.3,1356.5 L249.1,1347.9 L250.9,1341.8 L252.7,1338.7 L254.5,1338.9 L256.3,1342.2 L258.0,1348.0 L259.8,1356.0 L261.6,1365.7 L263.4,1376.7 L265.2,1388.5 L267.0,1400.6 L268.8,1412.7 L270.6,1424.3 L272.3,1435.0 L274.1,1444.9 L275.9,1456.4 L277.7,1469.0 L279.5,1481.8 L281.3,1494.2 L283.1,1505.2 L284.9,1514.2 L286.6,1520.2 L288.4,1522.6 L290.2,1522.1 L292.0,1520.5 L293.8,1518.2 L295.6,1515.4 L297.4,1512.5 L299.1,1509.8 L300.9,1507.6 L302.7,1506.2 L304.5,1506.0 L306.3,1507.9 L308.1,1512.1 L309.9,1518.3 L311.7,1526.2 L313.4,1535.4 L315.2,1545.7 L317.0,1556.8 L318.8,1568.4 L320.6,1580.3 L322.4,1592.0 L324.2,1603.4 L326.0,1615.0 L327.7,1628.9 L329.5,1644.8 L331.3,1661.9 L333.1,1679.7 L334.9,1697.6 L336.7,1715.0 L338.5,1731.4 L340.3,1746.2 L342.0,1758.7 L343.8,1768.4 L345.6,1774.8 L347.4,1779.8 L349.2,1784.5 L351.0,1788.9 L352.8,1792.8 L354.6,1796.2 L356.3,1798.8 L358.1,1800.7 L359.9,1801.7 L361.7,1801.6 L363.5,1800.6 L365.3,1798.6 L367.1,1796.0 L368.9,1792.7 L370.6,1789.1 L372.4,1785.2 L374.2,1781.3 L376.0,1777.5 L377.8,1774.0 L379.6,1770.9 L381.4,1768.4 L383.1,1766.2 L384.9,1763.9 L386.7,1761.5 L388.5,1759.3 L390.3,1757.2 L392.1,1755.3 L393.9,1753.7 L395.7,1752.5 L397.4,1751.8 L399.2,1751.6 L401.0,1752.9 L402.8,1755.9 L404.6,1760.4 L406.4,1766.0 L408.2,1772.4 L410.0,1779.3 L411.7,1786.5 L413.5,1793.5 L415.3,1800.2 L417.1,1806.1 L418.9,1811.4 L420.7,1817.1 L422.5,1823.0 L424.3,1829.1 L426.0,1835.2 L427.8,1841.3 L429.6,1847.4 L431.4,1853.2 L433.2,1858.7 L435.0,1863.8 L436.8,1868.5 L438.6,1872.6 L440.3,1876.0 L442.1,1878.6 L443.9,1880.5 L445.7,1882.1 L447.5,1883.7 L449.3,1885.2 L451.1,1886.6 L452.9,1888.0 L454.6,1889.2 L456.4,1890.4 L458.2,1891.6 L460.0,1892.6 L461.8,1893.5 L463.6,1894.3 L465.4,1895.0 L467.2,1895.6 L468.9,1896.1 L470.7,1896.4 L472.5,1896.6 L474.3,1896.7 L474.3,1896.7 L154.4,1896.7Z" fill="#00B0F6" fill-opacity="0.10"/><path d="M154.4,1896.7 L156.2,1896.7 L158.0,1896.7 L159.7,1896.7 L161.5,1896.7 L163.3,1896.7 L165.1,1896.7 L166.9,1896.7 L168.7,1896.7 L170.5,1896.7 L172.3,1896.7 L174.0,1896.7 L175.8,1896.7 L177.6,1896.7 L179.4,1896.7 L181.2,1896.7 L183.0,1896.7 L184.8,1896.7 L186.6,1896.7 L188.3,1896.7 L190.1,1896.7 L191.9,1896.5 L193.7,1895.9 L195.5,1894.8 L197.3,1893.2 L199.1,1891.2 L200.8,1888.8 L202.6,1886.1 L204.4,1882.9 L206.2,1879.4 L208.0,1870.6 L209.8,1854.6 L211.6,1832.9 L213.4,1806.8 L215.1,1777.8 L216.9,1747.3 L218.7,1716.9 L220.5,1687.8 L222.3,1660.7 L224.1,1630.8 L225.9,1598.4 L227.7,1564.8 L229.4,1531.3 L231.2,1499.3 L233.0,1470.0 L234.8,1444.9 L236.6,1425.2 L238.4,1409.9 L240.2,1394.9 L242.0,1380.7 L243.7,1367.7 L245.5,1356.5 L247.3,1347.6 L249.1,1341.4 L250.9,1338.5 L252.7,1340.3 L254.5,1348.8 L256.3,1362.7 L258.0,1380.8 L259.8,1401.7 L261.6,1424.1 L263.4,1446.5 L265.2,1467.8 L267.0,1486.5 L268.8,1501.9 L270.6,1516.6 L272.3,1531.3 L274.1,1545.7 L275.9,1559.9 L277.7,1573.7 L279.5,1587.1 L281.3,1599.9 L283.1,1612.2 L284.9,1623.9 L286.6,1634.8 L288.4,1644.8 L290.2,1654.6 L292.0,1664.5 L293.8,1674.2 L295.6,1683.5 L297.4,1692.0 L299.1,1699.5 L300.9,1705.7 L302.7,1710.3 L304.5,1713.0 L306.3,1714.9 L308.1,1716.3 L309.9,1717.5 L311.7,1718.5 L313.4,1719.5 L315.2,1720.5 L317.0,1721.6 L318.8,1723.0 L320.6,1724.7 L322.4,1726.5 L324.2,1728.3 L326.0,1730.4 L327.7,1732.7 L329.5,1735.4 L331.3,1738.4 L333.1,1741.8 L334.9,1745.8 L336.7,1751.9 L338.5,1761.5 L340.3,1773.5 L342.0,1786.8 L343.8,1800.5 L345.6,1813.5 L347.4,1824.6 L349.2,1833.4 L351.0,1841.6 L352.8,1849.6 L354.6,1857.4 L356.3,1864.6 L358.1,1871.1 L359.9,1876.8 L361.7,1881.5 L363.5,1885.0 L365.3,1887.5 L367.1,1889.9 L368.9,1892.0 L370.6,1893.9 L372.4,1895.3 L374.2,1896.3 L376.0,1896.7 L377.8,1896.7 L379.6,1896.7 L381.4,1896.7 L383.1,1896.7 L384.9,1896.7 L386.7,1896.7 L388.5,1896.7 L390.3,1896.7 L392.1,1896.7 L393.9,1896.7 L395.7,1896.7 L397.4,1896.7 L399.2,1896.7 L401.0,1896.7 L402.8,1896.7 L404.6,1896.7 L406.4,1896.7 L408.2,1896.7 L410.0,1896.7 L411.7,1896.7 L413.5,1896.7 L415.3,1896.7 L417.1,1896.7 L418.9,1896.7 L420.7,1896.7 L422.5,1896.7 L424.3,1896.7 L426.0,1896.7 L427.8,1896.7 L429.6,1896.7 L431.4,1896.7 L433.2,1896.7 L435.0,1896.7 L436.8,1896.7 L438.6,1896.7 L440.3,1896.7 L442.1,1896.7 L443.9,1896.7 L445.7,1896.7 L447.5,1896.7 L449.3,1896.7 L451.1,1896.7 L452.9,1896.7 L454.6,1896.7 L456.4,1896.7 L458.2,1896.7 L460.0,1896.7 L461.8,1896.7 L463.6,1896.7 L465.4,1896.7 L467.2,1896.7 L468.9,1896.7 L470.7,1896.7 L472.5,1896.7 L474.3,1896.7 L474.3,1896.7 L154.4,1896.7Z" fill="#9590FF" fill-opacity="0.10"/><path d="M154.4,1840.9 L156.2,1816.5 L158.0,1792.8 L159.7,1769.9 L161.5,1747.9 L163.3,1726.8 L165.1,1706.8 L166.9,1687.9 L168.7,1670.1 L170.5,1653.6 L172.3,1638.5 L174.0,1624.8 L175.8,1612.6 L177.6,1602.0 L179.4,1593.0 L181.2,1585.5 L183.0,1578.3 L184.8,1571.3 L186.6,1564.7 L188.3,1558.5 L190.1,1553.0 L191.9,1548.3 L193.7,1544.4 L195.5,1541.6 L197.3,1539.8 L199.1,1539.4 L200.8,1540.2 L202.6,1542.0 L204.4,1544.5 L206.2,1547.3 L208.0,1550.2 L209.8,1552.8 L211.6,1554.8 L213.4,1556.0 L215.1,1555.3 L216.9,1549.5 L218.7,1538.9 L220.5,1524.7 L222.3,1508.0 L224.1,1489.8 L225.9,1471.4 L227.7,1453.8 L229.4,1438.0 L231.2,1425.3 L233.0,1415.4 L234.8,1405.5 L236.6,1395.5 L238.4,1385.6 L240.2,1376.1 L242.0,1367.2 L243.7,1359.1 L245.5,1352.0 L247.3,1346.1 L249.1,1341.8 L250.9,1339.1 L252.7,1338.4 L254.5,1339.9 L256.3,1343.5 L258.0,1348.8 L259.8,1355.6 L261.6,1363.4 L263.4,1371.9 L265.2,1380.8 L267.0,1389.9 L268.8,1398.6 L270.6,1406.8 L272.3,1414.0 L274.1,1420.4 L275.9,1427.6 L277.7,1435.1 L279.5,1442.3 L281.3,1448.5 L283.1,1453.1 L284.9,1455.5 L286.6,1454.6 L288.4,1449.7 L290.2,1441.8 L292.0,1431.9 L293.8,1421.4 L295.6,1411.2 L297.4,1402.5 L299.1,1396.5 L300.9,1394.2 L302.7,1396.7 L304.5,1403.7 L306.3,1414.4 L308.1,1427.9 L309.9,1443.5 L311.7,1460.4 L313.4,1477.9 L315.2,1495.1 L317.0,1511.7 L318.8,1530.9 L320.6,1553.1 L322.4,1577.4 L324.2,1602.9 L326.0,1628.6 L327.7,1653.7 L329.5,1677.1 L331.3,1698.1 L333.1,1715.6 L334.9,1728.7 L336.7,1738.9 L338.5,1748.7 L340.3,1758.0 L342.0,1766.8 L343.8,1774.9 L345.6,1782.3 L347.4,1788.9 L349.2,1794.7 L351.0,1799.6 L352.8,1803.4 L354.6,1806.2 L356.3,1808.0 L358.1,1809.5 L359.9,1810.7 L361.7,1811.8 L363.5,1812.5 L365.3,1812.9 L367.1,1812.8 L368.9,1811.9 L370.6,1810.4 L372.4,1808.4 L374.2,1805.9 L376.0,1803.0 L377.8,1800.0 L379.6,1796.8 L381.4,1793.6 L383.1,1790.4 L384.9,1787.5 L386.7,1784.8 L388.5,1782.0 L390.3,1778.8 L392.1,1775.4 L393.9,1772.0 L395.7,1768.8 L397.4,1766.1 L399.2,1764.1 L401.0,1762.9 L402.8,1762.8 L404.6,1764.0 L406.4,1766.4 L408.2,1769.8 L410.0,1774.0 L411.7,1778.8 L413.5,1784.1 L415.3,1789.8 L417.1,1795.6 L418.9,1801.4 L420.7,1807.0 L422.5,1812.3 L424.3,1817.6 L426.0,1823.8 L427.8,1830.4 L429.6,1837.5 L431.4,1844.7 L433.2,1851.8 L435.0,1858.6 L436.8,1864.9 L438.6,1870.4 L440.3,1875.0 L442.1,1878.4 L443.9,1880.5 L445.7,1882.2 L447.5,1883.8 L449.3,1885.3 L451.1,1886.8 L452.9,1888.2 L454.6,1889.5 L456.4,1890.6 L458.2,1891.7 L460.0,1892.7 L461.8,1893.6 L463.6,1894.4 L465.4,1895.1 L467.2,1895.7 L468.9,1896.1 L470.7,1896.4 L472.5,1896.6 L474.3,1896.7 L474.3,1896.7 L154.4,1896.7Z" fill="#E76BF3" fill-opacity="0.10"/><path d="M154.4,1835.3 L156.2,1820.0 L158.0,1805.0 L159.7,1790.2 L161.5,1775.8 L163.3,1761.6 L165.1,1747.8 L166.9,1734.3 L168.7,1721.1 L170.5,1708.3 L172.3,1695.9 L174.0,1683.8 L175.8,1672.1 L177.6,1660.9 L179.4,1650.0 L181.2,1639.6 L183.0,1629.6 L184.8,1620.0 L186.6,1610.7 L188.3,1601.7 L190.1,1593.0 L191.9,1584.4 L193.7,1576.1 L195.5,1567.9 L197.3,1559.8 L199.1,1551.8 L200.8,1543.8 L202.6,1535.8 L204.4,1527.8 L206.2,1519.7 L208.0,1511.8 L209.8,1504.1 L211.6,1496.5 L213.4,1489.0 L215.1,1481.6 L216.9,1474.1 L218.7,1466.6 L220.5,1459.0 L222.3,1451.3 L224.1,1443.4 L225.9,1435.1 L227.7,1426.1 L229.4,1416.5 L231.2,1406.7 L233.0,1397.0 L234.8,1387.7 L236.6,1379.2 L238.4,1371.8 L240.2,1365.9 L242.0,1360.7 L243.7,1355.5 L245.5,1350.6 L247.3,1346.2 L249.1,1342.5 L250.9,1339.9 L252.7,1338.5 L254.5,1338.9 L256.3,1342.3 L258.0,1348.1 L259.8,1355.6 L261.6,1364.3 L263.4,1373.5 L265.2,1382.5 L267.0,1390.6 L268.8,1397.4 L270.6,1403.6 L272.3,1409.7 L274.1,1415.6 L275.9,1421.5 L277.7,1427.4 L279.5,1433.4 L281.3,1439.7 L283.1,1446.2 L284.9,1453.2 L286.6,1460.7 L288.4,1468.9 L290.2,1477.7 L292.0,1487.0 L293.8,1496.7 L295.6,1506.7 L297.4,1516.9 L299.1,1527.1 L300.9,1537.3 L302.7,1547.5 L304.5,1557.3 L306.3,1566.9 L308.1,1576.0 L309.9,1584.7 L311.7,1592.6 L313.4,1600.1 L315.2,1607.5 L317.0,1614.8 L318.8,1622.2 L320.6,1629.4 L322.4,1636.5 L324.2,1643.4 L326.0,1650.1 L327.7,1656.5 L329.5,1662.6 L331.3,1668.4 L333.1,1673.7 L334.9,1678.7 L336.7,1683.1 L338.5,1687.0 L340.3,1690.3 L342.0,1693.4 L343.8,1696.5 L345.6,1699.5 L347.4,1702.3 L349.2,1705.0 L351.0,1707.3 L352.8,1709.3 L354.6,1710.8 L356.3,1711.9 L358.1,1712.4 L359.9,1712.1 L361.7,1710.6 L363.5,1707.9 L365.3,1704.3 L367.1,1699.8 L368.9,1694.8 L370.6,1689.3 L372.4,1683.5 L374.2,1677.7 L376.0,1671.9 L377.8,1666.4 L379.6,1661.3 L381.4,1656.8 L383.1,1652.4 L384.9,1647.6 L386.7,1642.6 L388.5,1637.4 L390.3,1632.3 L392.1,1627.4 L393.9,1623.0 L395.7,1619.0 L397.4,1615.8 L399.2,1613.5 L401.0,1612.2 L402.8,1612.1 L404.6,1613.8 L406.4,1617.0 L408.2,1621.7 L410.0,1627.5 L411.7,1634.3 L413.5,1641.8 L415.3,1649.9 L417.1,1658.3 L418.9,1666.9 L420.7,1675.4 L422.5,1683.5 L424.3,1692.0 L426.0,1701.8 L427.8,1712.8 L429.6,1724.7 L431.4,1737.3 L433.2,1750.2 L435.0,1763.3 L436.8,1776.3 L438.6,1788.9 L440.3,1800.9 L442.1,1812.0 L443.9,1822.0 L445.7,1830.7 L447.5,1837.7 L449.3,1843.1 L451.1,1848.1 L452.9,1853.0 L454.6,1857.7 L456.4,1862.3 L458.2,1866.6 L460.0,1870.7 L461.8,1874.5 L463.6,1877.9 L465.4,1880.9 L467.2,1883.5 L468.9,1885.5 L470.7,1887.0 L472.5,1888.0 L474.3,1888.3 L474.3,1896.7 L154.4,1896.7Z" fill="#FF62BC" fill-opacity="0.10"/><path d="M154.4,1846.5 L156.2,1828.1 L158.0,1810.3 L159.7,1793.0 L161.5,1776.4 L163.3,1760.3 L165.1,1744.9 L166.9,1730.2 L168.7,1716.2 L170.5,1702.9 L172.3,1690.5 L174.0,1678.8 L175.8,1668.0 L177.6,1658.1 L179.4,1649.1 L181.2,1640.8 L183.0,1632.5 L184.8,1624.3 L186.6,1616.3 L188.3,1608.7 L190.1,1601.8 L191.9,1595.7 L193.7,1590.7 L195.5,1586.9 L197.3,1584.7 L199.1,1584.1 L200.8,1584.9 L202.6,1586.7 L204.4,1589.1 L206.2,1592.0 L208.0,1594.8 L209.8,1597.4 L211.6,1599.5 L213.4,1600.6 L215.1,1599.9 L216.9,1593.4 L218.7,1581.7 L220.5,1565.9 L222.3,1547.3 L224.1,1527.0 L225.9,1506.3 L227.7,1486.4 L229.4,1468.5 L231.2,1453.7 L233.0,1442.1 L234.8,1430.2 L236.6,1418.2 L238.4,1406.2 L240.2,1394.5 L242.0,1383.3 L243.7,1372.8 L245.5,1363.3 L247.3,1355.0 L249.1,1348.1 L250.9,1342.9 L252.7,1339.6 L254.5,1338.4 L256.3,1339.3 L258.0,1341.8 L259.8,1345.7 L261.6,1350.9 L263.4,1357.1 L265.2,1364.1 L267.0,1371.8 L268.8,1379.9 L270.6,1388.3 L272.3,1396.7 L274.1,1404.9 L275.9,1412.8 L277.7,1420.1 L279.5,1427.0 L281.3,1434.2 L283.1,1441.7 L284.9,1449.4 L286.6,1457.1 L288.4,1464.9 L290.2,1472.6 L292.0,1480.1 L293.8,1487.4 L295.6,1494.3 L297.4,1500.8 L299.1,1506.8 L300.9,1512.3 L302.7,1517.4 L304.5,1522.3 L306.3,1526.9 L308.1,1531.3 L309.9,1535.7 L311.7,1540.1 L313.4,1544.6 L315.2,1549.3 L317.0,1554.3 L318.8,1559.6 L320.6,1565.4 L322.4,1571.9 L324.2,1579.2 L326.0,1586.9 L327.7,1595.0 L329.5,1603.3 L331.3,1611.7 L333.1,1620.0 L334.9,1628.0 L336.7,1635.7 L338.5,1642.8 L340.3,1649.2 L342.0,1654.7 L343.8,1659.3 L345.6,1662.8 L347.4,1665.7 L349.2,1668.7 L351.0,1671.5 L352.8,1674.3 L354.6,1676.9 L356.3,1679.3 L358.1,1681.5 L359.9,1683.6 L361.7,1685.4 L363.5,1687.0 L365.3,1688.2 L367.1,1689.2 L368.9,1689.8 L370.6,1690.1 L372.4,1690.0 L374.2,1689.6 L376.0,1688.9 L377.8,1688.1 L379.6,1687.1 L381.4,1686.0 L383.1,1684.9 L384.9,1683.9 L386.7,1683.0 L388.5,1682.3 L390.3,1681.9 L392.1,1681.8 L393.9,1682.6 L395.7,1684.4 L397.4,1687.2 L399.2,1690.8 L401.0,1695.1 L402.8,1699.9 L404.6,1705.1 L406.4,1710.6 L408.2,1716.2 L410.0,1721.8 L411.7,1727.3 L413.5,1732.9 L415.3,1739.4 L417.1,1746.9 L418.9,1755.1 L420.7,1763.9 L422.5,1773.0 L424.3,1782.3 L426.0,1791.6 L427.8,1800.7 L429.6,1809.5 L431.4,1817.7 L433.2,1825.2 L435.0,1831.9 L436.8,1837.4 L438.6,1841.7 L440.3,1845.5 L442.1,1849.3 L443.9,1853.1 L445.7,1856.7 L447.5,1860.3 L449.3,1863.7 L451.1,1867.0 L452.9,1870.2 L454.6,1873.2 L456.4,1876.1 L458.2,1878.7 L460.0,1881.1 L461.8,1883.3 L463.6,1885.3 L465.4,1887.0 L467.2,1888.5 L468.9,1889.6 L470.7,1890.4 L472.5,1890.9 L474.3,1891.1" fill="none" stroke="#F8766D" stroke-width="2.0" stroke-opacity="0.7"/><path d="M154.4,1852.0 L156.2,1826.7 L158.0,1802.1 L159.7,1778.3 L161.5,1755.3 L163.3,1733.3 L165.1,1712.3 L166.9,1692.5 L168.7,1673.9 L170.5,1656.6 L172.3,1640.7 L174.0,1626.3 L175.8,1613.5 L177.6,1602.4 L179.4,1593.1 L181.2,1585.4 L183.0,1577.9 L184.8,1570.7 L186.6,1563.8 L188.3,1557.4 L190.1,1551.5 L191.9,1546.3 L193.7,1541.8 L195.5,1538.3 L197.3,1535.7 L199.1,1534.2 L200.8,1533.8 L202.6,1534.8 L204.4,1536.7 L206.2,1539.4 L208.0,1542.4 L209.8,1545.5 L211.6,1548.3 L213.4,1550.6 L215.1,1552.0 L216.9,1551.3 L218.7,1540.5 L220.5,1520.9 L222.3,1497.2 L224.1,1473.8 L225.9,1455.3 L227.7,1444.1 L229.4,1434.1 L231.2,1424.2 L233.0,1414.6 L234.8,1405.4 L236.6,1396.5 L238.4,1388.0 L240.2,1380.1 L242.0,1372.6 L243.7,1365.8 L245.5,1359.6 L247.3,1354.0 L249.1,1349.3 L250.9,1345.3 L252.7,1342.2 L254.5,1339.9 L256.3,1338.7 L258.0,1338.5 L259.8,1340.9 L261.6,1345.9 L263.4,1353.2 L265.2,1362.2 L267.0,1372.5 L268.8,1383.6 L270.6,1395.1 L272.3,1406.4 L274.1,1417.0 L275.9,1426.5 L277.7,1435.9 L279.5,1446.7 L281.3,1458.1 L283.1,1469.4 L284.9,1479.8 L286.6,1488.4 L288.4,1494.6 L290.2,1497.4 L292.0,1497.2 L293.8,1495.8 L295.6,1493.7 L297.4,1491.2 L299.1,1488.6 L300.9,1486.3 L302.7,1484.5 L304.5,1483.6 L306.3,1484.3 L308.1,1488.0 L309.9,1494.2 L311.7,1502.6 L313.4,1512.8 L315.2,1524.2 L317.0,1536.6 L318.8,1549.4 L320.6,1562.3 L322.4,1574.9 L324.2,1586.6 L326.0,1597.9 L327.7,1610.4 L329.5,1623.7 L331.3,1637.5 L333.1,1651.1 L334.9,1664.3 L336.7,1676.5 L338.5,1687.3 L340.3,1696.2 L342.0,1704.3 L343.8,1712.5 L345.6,1720.6 L347.4,1728.4 L349.2,1735.9 L351.0,1742.7 L352.8,1748.8 L354.6,1754.0 L356.3,1758.1 L358.1,1761.0 L359.9,1762.5 L361.7,1762.6 L363.5,1761.5 L365.3,1759.5 L367.1,1756.7 L368.9,1753.3 L370.6,1749.4 L372.4,1745.2 L374.2,1740.8 L376.0,1736.2 L377.8,1731.8 L379.6,1727.6 L381.4,1723.7 L383.1,1719.8 L384.9,1715.3 L386.7,1710.4 L388.5,1705.3 L390.3,1700.1 L392.1,1695.1 L393.9,1690.5 L395.7,1686.4 L397.4,1683.0 L399.2,1680.6 L401.0,1679.2 L402.8,1679.1 L404.6,1681.0 L406.4,1684.6 L408.2,1689.8 L410.0,1696.2 L411.7,1703.7 L413.5,1711.9 L415.3,1720.7 L417.1,1729.8 L418.9,1738.9 L420.7,1747.7 L422.5,1756.1 L424.3,1764.7 L426.0,1774.7 L427.8,1785.7 L429.6,1797.5 L431.4,1809.5 L433.2,1821.4 L435.0,1832.8 L436.8,1843.4 L438.6,1852.8 L440.3,1860.5 L442.1,1866.2 L443.9,1869.7 L445.7,1872.5 L447.5,1875.2 L449.3,1877.8 L451.1,1880.2 L452.9,1882.5 L454.6,1884.6 L456.4,1886.6 L458.2,1888.4 L460.0,1890.1 L461.8,1891.6 L463.6,1892.9 L465.4,1894.0 L467.2,1895.0 L468.9,1895.7 L470.7,1896.3 L472.5,1896.6 L474.3,1896.7" fill="none" stroke="#D89000" stroke-width="2.0" stroke-opacity="0.7"/><path d="M154.4,1857.6 L156.2,1836.3 L158.0,1815.5 L159.7,1795.5 L161.5,1776.2 L163.3,1757.7 L165.1,1740.0 L166.9,1723.3 L168.7,1707.6 L170.5,1692.9 L172.3,1679.4 L174.0,1667.0 L175.8,1655.9 L177.6,1646.0 L179.4,1637.6 L181.2,1630.3 L183.0,1623.1 L184.8,1616.2 L186.6,1609.6 L188.3,1603.5 L190.1,1597.9 L191.9,1593.1 L193.7,1589.2 L195.5,1586.3 L197.3,1584.5 L199.1,1584.1 L200.8,1584.6 L202.6,1585.8 L204.4,1587.4 L206.2,1589.3 L208.0,1591.2 L209.8,1593.0 L211.6,1594.3 L213.4,1595.1 L215.1,1594.3 L216.9,1588.0 L218.7,1576.6 L220.5,1561.2 L222.3,1543.1 L224.1,1523.4 L225.9,1503.4 L227.7,1484.3 L229.4,1467.3 L231.2,1453.5 L233.0,1442.8 L234.8,1432.1 L236.6,1421.4 L238.4,1410.7 L240.2,1400.2 L242.0,1390.0 L243.7,1380.3 L245.5,1371.3 L247.3,1363.1 L249.1,1355.8 L250.9,1349.6 L252.7,1344.6 L254.5,1341.0 L256.3,1338.9 L258.0,1338.5 L259.8,1341.1 L261.6,1346.6 L263.4,1354.5 L265.2,1364.2 L267.0,1375.3 L268.8,1387.2 L270.6,1399.4 L272.3,1411.2 L274.1,1422.3 L275.9,1432.1 L277.7,1441.4 L279.5,1451.9 L281.3,1462.9 L283.1,1473.7 L284.9,1483.6 L286.6,1491.8 L288.4,1497.5 L290.2,1500.2 L292.0,1500.0 L293.8,1498.7 L295.6,1496.7 L297.4,1494.2 L299.1,1491.5 L300.9,1488.8 L302.7,1486.5 L304.5,1484.7 L306.3,1483.7 L308.1,1484.2 L309.9,1488.2 L311.7,1495.5 L313.4,1505.4 L315.2,1517.4 L317.0,1530.8 L318.8,1545.0 L320.6,1559.4 L322.4,1573.4 L324.2,1586.3 L326.0,1598.6 L327.7,1611.8 L329.5,1625.9 L331.3,1640.2 L333.1,1654.5 L334.9,1668.2 L336.7,1681.0 L338.5,1692.3 L340.3,1701.8 L342.0,1710.6 L343.8,1719.4 L345.6,1728.1 L347.4,1736.6 L349.2,1744.6 L351.0,1752.1 L352.8,1758.7 L354.6,1764.3 L356.3,1768.8 L358.1,1772.0 L359.9,1773.7 L361.7,1773.8 L363.5,1772.9 L365.3,1771.2 L367.1,1768.9 L368.9,1766.1 L370.6,1762.8 L372.4,1759.2 L374.2,1755.4 L376.0,1751.6 L377.8,1747.7 L379.6,1744.0 L381.4,1740.5 L383.1,1736.8 L384.9,1732.4 L386.7,1727.6 L388.5,1722.5 L390.3,1717.3 L392.1,1712.3 L393.9,1707.6 L395.7,1703.4 L397.4,1699.9 L399.2,1697.4 L401.0,1695.9 L402.8,1695.9 L404.6,1697.9 L406.4,1701.7 L408.2,1707.2 L410.0,1713.9 L411.7,1721.7 L413.5,1730.2 L415.3,1739.1 L417.1,1748.1 L418.9,1756.9 L420.7,1765.3 L422.5,1773.0 L424.3,1780.3 L426.0,1788.3 L427.8,1796.8 L429.6,1805.7 L431.4,1814.8 L433.2,1823.9 L435.0,1832.9 L436.8,1841.6 L438.6,1849.9 L440.3,1857.5 L442.1,1864.4 L443.9,1870.3 L445.7,1875.1 L447.5,1878.6 L449.3,1880.8 L451.1,1882.7 L452.9,1884.6 L454.6,1886.3 L456.4,1888.0 L458.2,1889.5 L460.0,1890.9 L461.8,1892.2 L463.6,1893.3 L465.4,1894.3 L467.2,1895.2 L468.9,1895.8 L470.7,1896.3 L472.5,1896.6 L474.3,1896.7" fill="none" stroke="#A3A500" stroke-width="2.0" stroke-opacity="0.7"/><path d="M154.4,1874.4 L156.2,1870.6 L158.0,1866.6 L159.7,1862.4 L161.5,1858.0 L163.3,1853.4 L165.1,1848.7 L166.9,1843.8 L168.7,1838.7 L170.5,1833.5 L172.3,1828.2 L174.0,1822.7 L175.8,1817.0 L177.6,1811.3 L179.4,1805.4 L181.2,1799.4 L183.0,1793.3 L184.8,1787.1 L186.6,1780.7 L188.3,1774.2 L190.1,1767.5 L191.9,1760.6 L193.7,1753.5 L195.5,1746.2 L197.3,1738.6 L199.1,1730.9 L200.8,1723.0 L202.6,1714.8 L204.4,1706.5 L206.2,1697.9 L208.0,1689.1 L209.8,1680.1 L211.6,1670.9 L213.4,1661.5 L215.1,1651.8 L216.9,1641.9 L218.7,1631.0 L220.5,1619.1 L222.3,1606.3 L224.1,1592.9 L225.9,1578.8 L227.7,1564.4 L229.4,1549.7 L231.2,1534.9 L233.0,1520.2 L234.8,1505.6 L236.6,1491.4 L238.4,1477.7 L240.2,1464.7 L242.0,1452.4 L243.7,1441.1 L245.5,1430.8 L247.3,1421.9 L249.1,1413.4 L250.9,1404.7 L252.7,1396.0 L254.5,1387.4 L256.3,1379.0 L258.0,1371.0 L259.8,1363.6 L261.6,1356.8 L263.4,1350.9 L265.2,1346.0 L267.0,1342.2 L268.8,1339.6 L270.6,1338.4 L272.3,1338.9 L274.1,1341.0 L275.9,1344.6 L277.7,1349.5 L279.5,1355.5 L281.3,1362.5 L283.1,1370.3 L284.9,1378.6 L286.6,1387.3 L288.4,1396.2 L290.2,1405.2 L292.0,1414.0 L293.8,1422.5 L295.6,1431.4 L297.4,1441.3 L299.1,1451.9 L300.9,1463.1 L302.7,1474.8 L304.5,1486.7 L306.3,1498.8 L308.1,1510.9 L309.9,1522.8 L311.7,1534.3 L313.4,1545.3 L315.2,1555.8 L317.0,1566.3 L318.8,1577.0 L320.6,1587.7 L322.4,1598.4 L324.2,1608.8 L326.0,1619.0 L327.7,1628.8 L329.5,1638.1 L331.3,1646.7 L333.1,1654.7 L334.9,1661.9 L336.7,1668.7 L338.5,1675.6 L340.3,1682.6 L342.0,1689.5 L343.8,1696.3 L345.6,1702.8 L347.4,1709.0 L349.2,1714.8 L351.0,1720.0 L352.8,1724.6 L354.6,1728.4 L356.3,1731.5 L358.1,1733.6 L359.9,1734.7 L361.7,1734.6 L363.5,1733.4 L365.3,1731.1 L367.1,1727.9 L368.9,1723.9 L370.6,1719.4 L372.4,1714.6 L374.2,1709.5 L376.0,1704.3 L377.8,1699.3 L379.6,1694.5 L381.4,1690.3 L383.1,1685.9 L384.9,1681.1 L386.7,1675.8 L388.5,1670.4 L390.3,1664.9 L392.1,1659.7 L393.9,1654.8 L395.7,1650.5 L397.4,1646.9 L399.2,1644.4 L401.0,1642.9 L402.8,1642.8 L404.6,1644.4 L406.4,1647.6 L408.2,1652.1 L410.0,1657.8 L411.7,1664.4 L413.5,1671.7 L415.3,1679.5 L417.1,1687.6 L418.9,1695.8 L420.7,1703.8 L422.5,1711.5 L424.3,1719.4 L426.0,1728.4 L427.8,1738.5 L429.6,1749.3 L431.4,1760.6 L433.2,1772.2 L435.0,1783.9 L436.8,1795.4 L438.6,1806.6 L440.3,1817.2 L442.1,1827.0 L443.9,1835.8 L445.7,1843.3 L447.5,1849.4 L449.3,1853.9 L451.1,1858.0 L452.9,1862.1 L454.6,1866.1 L456.4,1869.8 L458.2,1873.4 L460.0,1876.8 L461.8,1879.9 L463.6,1882.6 L465.4,1885.1 L467.2,1887.2 L468.9,1888.8 L470.7,1890.1 L472.5,1890.9 L474.3,1891.1" fill="none" stroke="#39B600" stroke-width="2.0" stroke-opacity="0.7"/><path d="M154.4,1885.5 L156.2,1880.9 L158.0,1876.1 L159.7,1871.4 L161.5,1866.5 L163.3,1861.6 L165.1,1856.7 L166.9,1851.7 L168.7,1846.6 L170.5,1841.5 L172.3,1836.4 L174.0,1831.2 L175.8,1825.9 L177.6,1820.6 L179.4,1815.3 L181.2,1810.0 L183.0,1804.8 L184.8,1799.8 L186.6,1794.9 L188.3,1790.0 L190.1,1785.0 L191.9,1780.0 L193.7,1774.8 L195.5,1769.3 L197.3,1763.6 L199.1,1757.4 L200.8,1750.9 L202.6,1743.9 L204.4,1736.3 L206.2,1728.1 L208.0,1718.4 L209.8,1706.8 L211.6,1693.6 L213.4,1679.1 L215.1,1663.4 L216.9,1646.8 L218.7,1629.5 L220.5,1611.8 L222.3,1594.0 L224.1,1576.2 L225.9,1558.7 L227.7,1541.7 L229.4,1525.5 L231.2,1510.3 L233.0,1495.6 L234.8,1479.7 L236.6,1462.7 L238.4,1445.2 L240.2,1427.7 L242.0,1410.5 L243.7,1394.1 L245.5,1379.0 L247.3,1365.6 L249.1,1354.4 L250.9,1345.8 L252.7,1340.4 L254.5,1338.4 L256.3,1339.8 L258.0,1343.7 L259.8,1349.6 L261.6,1357.2 L263.4,1366.1 L265.2,1375.7 L267.0,1385.7 L268.8,1395.6 L270.6,1405.0 L272.3,1413.5 L274.1,1421.2 L275.9,1429.8 L277.7,1439.1 L279.5,1448.5 L281.3,1457.5 L283.1,1465.5 L284.9,1471.9 L286.6,1476.3 L288.4,1478.0 L290.2,1476.4 L292.0,1471.9 L293.8,1465.3 L295.6,1457.5 L297.4,1449.3 L299.1,1441.7 L300.9,1435.4 L302.7,1431.5 L304.5,1430.8 L306.3,1435.7 L308.1,1446.0 L309.9,1460.6 L311.7,1478.2 L313.4,1497.6 L315.2,1517.8 L317.0,1537.4 L318.8,1555.4 L320.6,1571.4 L322.4,1587.6 L324.2,1604.1 L326.0,1620.8 L327.7,1637.7 L329.5,1654.4 L331.3,1671.0 L333.1,1687.2 L334.9,1702.9 L336.7,1718.0 L338.5,1732.3 L340.3,1746.8 L342.0,1761.6 L343.8,1776.4 L345.6,1790.9 L347.4,1804.8 L349.2,1817.7 L351.0,1829.5 L352.8,1839.7 L354.6,1848.1 L356.3,1854.4 L358.1,1860.3 L359.9,1866.1 L361.7,1871.5 L363.5,1876.7 L365.3,1881.4 L367.1,1885.6 L368.9,1889.3 L370.6,1892.3 L372.4,1894.6 L374.2,1896.1 L376.0,1896.7 L377.8,1896.7 L379.6,1896.7 L381.4,1896.7 L383.1,1896.7 L384.9,1896.7 L386.7,1896.7 L388.5,1896.7 L390.3,1896.7 L392.1,1896.7 L393.9,1896.7 L395.7,1896.7 L397.4,1896.7 L399.2,1896.7 L401.0,1896.7 L402.8,1896.7 L404.6,1896.7 L406.4,1896.7 L408.2,1896.7 L410.0,1896.7 L411.7,1896.7 L413.5,1896.7 L415.3,1896.7 L417.1,1896.7 L418.9,1896.7 L420.7,1896.7 L422.5,1896.7 L424.3,1896.7 L426.0,1896.7 L427.8,1896.7 L429.6,1896.7 L431.4,1896.7 L433.2,1896.7 L435.0,1896.7 L436.8,1896.7 L438.6,1896.7 L440.3,1896.7 L442.1,1896.7 L443.9,1896.7 L445.7,1896.7 L447.5,1896.7 L449.3,1896.7 L451.1,1896.7 L452.9,1896.7 L454.6,1896.7 L456.4,1896.7 L458.2,1896.7 L460.0,1896.7 L461.8,1896.7 L463.6,1896.7 L465.4,1896.7 L467.2,1896.7 L468.9,1896.7 L470.7,1896.7 L472.5,1896.7 L474.3,1896.7" fill="none" stroke="#00BF7D" stroke-width="2.0" stroke-opacity="0.7"/><path d="M154.4,1868.8 L156.2,1850.5 L158.0,1832.6 L159.7,1815.3 L161.5,1798.7 L163.3,1782.7 L165.1,1767.6 L166.9,1753.4 L168.7,1740.2 L170.5,1728.0 L172.3,1717.0 L174.0,1707.3 L175.8,1698.9 L177.6,1691.9 L179.4,1686.4 L181.2,1682.4 L183.0,1678.7 L184.8,1675.3 L186.6,1672.2 L188.3,1669.4 L190.1,1666.8 L191.9,1664.5 L193.7,1662.4 L195.5,1660.6 L197.3,1659.0 L199.1,1657.7 L200.8,1656.6 L202.6,1655.8 L204.4,1655.1 L206.2,1654.6 L208.0,1654.2 L209.8,1653.8 L211.6,1653.3 L213.4,1652.6 L215.1,1651.8 L216.9,1650.1 L218.7,1642.5 L220.5,1628.6 L222.3,1609.7 L224.1,1587.2 L225.9,1562.3 L227.7,1536.5 L229.4,1511.1 L231.2,1487.5 L233.0,1466.8 L234.8,1450.6 L236.6,1436.9 L238.4,1422.9 L240.2,1408.9 L242.0,1395.3 L243.7,1382.3 L245.5,1370.4 L247.3,1359.8 L249.1,1351.0 L250.9,1344.2 L252.7,1339.9 L254.5,1338.4 L256.3,1339.8 L258.0,1343.7 L259.8,1349.8 L261.6,1357.6 L263.4,1366.8 L265.2,1376.9 L267.0,1387.5 L268.8,1398.3 L270.6,1408.7 L272.3,1418.5 L274.1,1427.8 L275.9,1438.7 L277.7,1450.9 L279.5,1463.4 L281.3,1475.6 L283.1,1486.7 L284.9,1495.9 L286.6,1502.6 L288.4,1505.8 L290.2,1506.7 L292.0,1507.4 L293.8,1507.9 L295.6,1508.3 L297.4,1508.6 L299.1,1508.9 L300.9,1509.2 L302.7,1509.7 L304.5,1510.2 L306.3,1511.0 L308.1,1512.6 L309.9,1517.1 L311.7,1524.6 L313.4,1534.4 L315.2,1546.0 L317.0,1559.0 L318.8,1572.8 L320.6,1587.0 L322.4,1600.9 L324.2,1614.1 L326.0,1627.0 L327.7,1641.4 L329.5,1657.1 L331.3,1673.5 L333.1,1690.5 L334.9,1707.4 L336.7,1723.9 L338.5,1739.7 L340.3,1754.2 L342.0,1767.1 L343.8,1777.9 L345.6,1786.4 L347.4,1793.9 L349.2,1801.3 L351.0,1808.6 L352.8,1815.5 L354.6,1822.1 L356.3,1828.1 L358.1,1833.6 L359.9,1838.4 L361.7,1842.5 L363.5,1845.7 L365.3,1847.9 L367.1,1849.1 L368.9,1849.1 L370.6,1848.0 L372.4,1845.9 L374.2,1843.0 L376.0,1839.6 L377.8,1835.8 L379.6,1831.8 L381.4,1827.9 L383.1,1824.2 L384.9,1821.0 L386.7,1818.4 L388.5,1816.0 L390.3,1813.5 L392.1,1811.0 L393.9,1808.6 L395.7,1806.2 L397.4,1804.0 L399.2,1802.0 L401.0,1800.3 L402.8,1798.9 L404.6,1797.9 L406.4,1797.4 L408.2,1797.6 L410.0,1799.1 L411.7,1801.9 L413.5,1805.7 L415.3,1810.1 L417.1,1815.0 L418.9,1819.9 L420.7,1824.8 L422.5,1829.2 L424.3,1833.4 L426.0,1838.1 L427.8,1843.1 L429.6,1848.3 L431.4,1853.5 L433.2,1858.7 L435.0,1863.7 L436.8,1868.3 L438.6,1872.4 L440.3,1875.9 L442.1,1878.6 L443.9,1880.5 L445.7,1882.1 L447.5,1883.7 L449.3,1885.1 L451.1,1886.6 L452.9,1887.9 L454.6,1889.2 L456.4,1890.4 L458.2,1891.5 L460.0,1892.6 L461.8,1893.5 L463.6,1894.3 L465.4,1895.0 L467.2,1895.6 L468.9,1896.1 L470.7,1896.4 L472.5,1896.6 L474.3,1896.7" fill="none" stroke="#00BFC4" stroke-width="2.0" stroke-opacity="0.7"/><path d="M154.4,1863.2 L156.2,1844.9 L158.0,1827.0 L159.7,1809.7 L161.5,1793.1 L163.3,1777.1 L165.1,1762.0 L166.9,1747.8 L168.7,1734.6 L170.5,1722.4 L172.3,1711.4 L174.0,1701.7 L175.8,1693.3 L177.6,1686.3 L179.4,1680.8 L181.2,1676.8 L183.0,1673.1 L184.8,1669.7 L186.6,1666.6 L188.3,1663.8 L190.1,1661.2 L191.9,1658.9 L193.7,1656.8 L195.5,1655.0 L197.3,1653.5 L199.1,1652.1 L200.8,1651.0 L202.6,1650.2 L204.4,1649.5 L206.2,1649.0 L208.0,1648.6 L209.8,1648.2 L211.6,1647.7 L213.4,1647.1 L215.1,1646.2 L216.9,1644.6 L218.7,1637.2 L220.5,1623.9 L222.3,1605.7 L224.1,1584.0 L225.9,1560.1 L227.7,1535.1 L229.4,1510.4 L231.2,1487.3 L233.0,1466.9 L234.8,1450.6 L236.6,1436.5 L238.4,1422.0 L240.2,1407.3 L242.0,1393.0 L243.7,1379.5 L245.5,1367.2 L247.3,1356.5 L249.1,1347.9 L250.9,1341.8 L252.7,1338.7 L254.5,1338.9 L256.3,1342.2 L258.0,1348.0 L259.8,1356.0 L261.6,1365.7 L263.4,1376.7 L265.2,1388.5 L267.0,1400.6 L268.8,1412.7 L270.6,1424.3 L272.3,1435.0 L274.1,1444.9 L275.9,1456.4 L277.7,1469.0 L279.5,1481.8 L281.3,1494.2 L283.1,1505.2 L284.9,1514.2 L286.6,1520.2 L288.4,1522.6 L290.2,1522.1 L292.0,1520.5 L293.8,1518.2 L295.6,1515.4 L297.4,1512.5 L299.1,1509.8 L300.9,1507.6 L302.7,1506.2 L304.5,1506.0 L306.3,1507.9 L308.1,1512.1 L309.9,1518.3 L311.7,1526.2 L313.4,1535.4 L315.2,1545.7 L317.0,1556.8 L318.8,1568.4 L320.6,1580.3 L322.4,1592.0 L324.2,1603.4 L326.0,1615.0 L327.7,1628.9 L329.5,1644.8 L331.3,1661.9 L333.1,1679.7 L334.9,1697.6 L336.7,1715.0 L338.5,1731.4 L340.3,1746.2 L342.0,1758.7 L343.8,1768.4 L345.6,1774.8 L347.4,1779.8 L349.2,1784.5 L351.0,1788.9 L352.8,1792.8 L354.6,1796.2 L356.3,1798.8 L358.1,1800.7 L359.9,1801.7 L361.7,1801.6 L363.5,1800.6 L365.3,1798.6 L367.1,1796.0 L368.9,1792.7 L370.6,1789.1 L372.4,1785.2 L374.2,1781.3 L376.0,1777.5 L377.8,1774.0 L379.6,1770.9 L381.4,1768.4 L383.1,1766.2 L384.9,1763.9 L386.7,1761.5 L388.5,1759.3 L390.3,1757.2 L392.1,1755.3 L393.9,1753.7 L395.7,1752.5 L397.4,1751.8 L399.2,1751.6 L401.0,1752.9 L402.8,1755.9 L404.6,1760.4 L406.4,1766.0 L408.2,1772.4 L410.0,1779.3 L411.7,1786.5 L413.5,1793.5 L415.3,1800.2 L417.1,1806.1 L418.9,1811.4 L420.7,1817.1 L422.5,1823.0 L424.3,1829.1 L426.0,1835.2 L427.8,1841.3 L429.6,1847.4 L431.4,1853.2 L433.2,1858.7 L435.0,1863.8 L436.8,1868.5 L438.6,1872.6 L440.3,1876.0 L442.1,1878.6 L443.9,1880.5 L445.7,1882.1 L447.5,1883.7 L449.3,1885.2 L451.1,1886.6 L452.9,1888.0 L454.6,1889.2 L456.4,1890.4 L458.2,1891.6 L460.0,1892.6 L461.8,1893.5 L463.6,1894.3 L465.4,1895.0 L467.2,1895.6 L468.9,1896.1 L470.7,1896.4 L472.5,1896.6 L474.3,1896.7" fill="none" stroke="#00B0F6" stroke-width="2.0" stroke-opacity="0.7"/><path d="M154.4,1896.7 L156.2,1896.7 L158.0,1896.7 L159.7,1896.7 L161.5,1896.7 L163.3,1896.7 L165.1,1896.7 L166.9,1896.7 L168.7,1896.7 L170.5,1896.7 L172.3,1896.7 L174.0,1896.7 L175.8,1896.7 L177.6,1896.7 L179.4,1896.7 L181.2,1896.7 L183.0,1896.7 L184.8,1896.7 L186.6,1896.7 L188.3,1896.7 L190.1,1896.7 L191.9,1896.5 L193.7,1895.9 L195.5,1894.8 L197.3,1893.2 L199.1,1891.2 L200.8,1888.8 L202.6,1886.1 L204.4,1882.9 L206.2,1879.4 L208.0,1870.6 L209.8,1854.6 L211.6,1832.9 L213.4,1806.8 L215.1,1777.8 L216.9,1747.3 L218.7,1716.9 L220.5,1687.8 L222.3,1660.7 L224.1,1630.8 L225.9,1598.4 L227.7,1564.8 L229.4,1531.3 L231.2,1499.3 L233.0,1470.0 L234.8,1444.9 L236.6,1425.2 L238.4,1409.9 L240.2,1394.9 L242.0,1380.7 L243.7,1367.7 L245.5,1356.5 L247.3,1347.6 L249.1,1341.4 L250.9,1338.5 L252.7,1340.3 L254.5,1348.8 L256.3,1362.7 L258.0,1380.8 L259.8,1401.7 L261.6,1424.1 L263.4,1446.5 L265.2,1467.8 L267.0,1486.5 L268.8,1501.9 L270.6,1516.6 L272.3,1531.3 L274.1,1545.7 L275.9,1559.9 L277.7,1573.7 L279.5,1587.1 L281.3,1599.9 L283.1,1612.2 L284.9,1623.9 L286.6,1634.8 L288.4,1644.8 L290.2,1654.6 L292.0,1664.5 L293.8,1674.2 L295.6,1683.5 L297.4,1692.0 L299.1,1699.5 L300.9,1705.7 L302.7,1710.3 L304.5,1713.0 L306.3,1714.9 L308.1,1716.3 L309.9,1717.5 L311.7,1718.5 L313.4,1719.5 L315.2,1720.5 L317.0,1721.6 L318.8,1723.0 L320.6,1724.7 L322.4,1726.5 L324.2,1728.3 L326.0,1730.4 L327.7,1732.7 L329.5,1735.4 L331.3,1738.4 L333.1,1741.8 L334.9,1745.8 L336.7,1751.9 L338.5,1761.5 L340.3,1773.5 L342.0,1786.8 L343.8,1800.5 L345.6,1813.5 L347.4,1824.6 L349.2,1833.4 L351.0,1841.6 L352.8,1849.6 L354.6,1857.4 L356.3,1864.6 L358.1,1871.1 L359.9,1876.8 L361.7,1881.5 L363.5,1885.0 L365.3,1887.5 L367.1,1889.9 L368.9,1892.0 L370.6,1893.9 L372.4,1895.3 L374.2,1896.3 L376.0,1896.7 L377.8,1896.7 L379.6,1896.7 L381.4,1896.7 L383.1,1896.7 L384.9,1896.7 L386.7,1896.7 L388.5,1896.7 L390.3,1896.7 L392.1,1896.7 L393.9,1896.7 L395.7,1896.7 L397.4,1896.7 L399.2,1896.7 L401.0,1896.7 L402.8,1896.7 L404.6,1896.7 L406.4,1896.7 L408.2,1896.7 L410.0,1896.7 L411.7,1896.7 L413.5,1896.7 L415.3,1896.7 L417.1,1896.7 L418.9,1896.7 L420.7,1896.7 L422.5,1896.7 L424.3,1896.7 L426.0,1896.7 L427.8,1896.7 L429.6,1896.7 L431.4,1896.7 L433.2,1896.7 L435.0,1896.7 L436.8,1896.7 L438.6,1896.7 L440.3,1896.7 L442.1,1896.7 L443.9,1896.7 L445.7,1896.7 L447.5,1896.7 L449.3,1896.7 L451.1,1896.7 L452.9,1896.7 L454.6,1896.7 L456.4,1896.7 L458.2,1896.7 L460.0,1896.7 L461.8,1896.7 L463.6,1896.7 L465.4,1896.7 L467.2,1896.7 L468.9,1896.7 L470.7,1896.7 L472.5,1896.7 L474.3,1896.7" fill="none" stroke="#9590FF" stroke-width="2.0" stroke-opacity="0.7"/><path d="M154.4,1840.9 L156.2,1816.5 L158.0,1792.8 L159.7,1769.9 L161.5,1747.9 L163.3,1726.8 L165.1,1706.8 L166.9,1687.9 L168.7,1670.1 L170.5,1653.6 L172.3,1638.5 L174.0,1624.8 L175.8,1612.6 L177.6,1602.0 L179.4,1593.0 L181.2,1585.5 L183.0,1578.3 L184.8,1571.3 L186.6,1564.7 L188.3,1558.5 L190.1,1553.0 L191.9,1548.3 L193.7,1544.4 L195.5,1541.6 L197.3,1539.8 L199.1,1539.4 L200.8,1540.2 L202.6,1542.0 L204.4,1544.5 L206.2,1547.3 L208.0,1550.2 L209.8,1552.8 L211.6,1554.8 L213.4,1556.0 L215.1,1555.3 L216.9,1549.5 L218.7,1538.9 L220.5,1524.7 L222.3,1508.0 L224.1,1489.8 L225.9,1471.4 L227.7,1453.8 L229.4,1438.0 L231.2,1425.3 L233.0,1415.4 L234.8,1405.5 L236.6,1395.5 L238.4,1385.6 L240.2,1376.1 L242.0,1367.2 L243.7,1359.1 L245.5,1352.0 L247.3,1346.1 L249.1,1341.8 L250.9,1339.1 L252.7,1338.4 L254.5,1339.9 L256.3,1343.5 L258.0,1348.8 L259.8,1355.6 L261.6,1363.4 L263.4,1371.9 L265.2,1380.8 L267.0,1389.9 L268.8,1398.6 L270.6,1406.8 L272.3,1414.0 L274.1,1420.4 L275.9,1427.6 L277.7,1435.1 L279.5,1442.3 L281.3,1448.5 L283.1,1453.1 L284.9,1455.5 L286.6,1454.6 L288.4,1449.7 L290.2,1441.8 L292.0,1431.9 L293.8,1421.4 L295.6,1411.2 L297.4,1402.5 L299.1,1396.5 L300.9,1394.2 L302.7,1396.7 L304.5,1403.7 L306.3,1414.4 L308.1,1427.9 L309.9,1443.5 L311.7,1460.4 L313.4,1477.9 L315.2,1495.1 L317.0,1511.7 L318.8,1530.9 L320.6,1553.1 L322.4,1577.4 L324.2,1602.9 L326.0,1628.6 L327.7,1653.7 L329.5,1677.1 L331.3,1698.1 L333.1,1715.6 L334.9,1728.7 L336.7,1738.9 L338.5,1748.7 L340.3,1758.0 L342.0,1766.8 L343.8,1774.9 L345.6,1782.3 L347.4,1788.9 L349.2,1794.7 L351.0,1799.6 L352.8,1803.4 L354.6,1806.2 L356.3,1808.0 L358.1,1809.5 L359.9,1810.7 L361.7,1811.8 L363.5,1812.5 L365.3,1812.9 L367.1,1812.8 L368.9,1811.9 L370.6,1810.4 L372.4,1808.4 L374.2,1805.9 L376.0,1803.0 L377.8,1800.0 L379.6,1796.8 L381.4,1793.6 L383.1,1790.4 L384.9,1787.5 L386.7,1784.8 L388.5,1782.0 L390.3,1778.8 L392.1,1775.4 L393.9,1772.0 L395.7,1768.8 L397.4,1766.1 L399.2,1764.1 L401.0,1762.9 L402.8,1762.8 L404.6,1764.0 L406.4,1766.4 L408.2,1769.8 L410.0,1774.0 L411.7,1778.8 L413.5,1784.1 L415.3,1789.8 L417.1,1795.6 L418.9,1801.4 L420.7,1807.0 L422.5,1812.3 L424.3,1817.6 L426.0,1823.8 L427.8,1830.4 L429.6,1837.5 L431.4,1844.7 L433.2,1851.8 L435.0,1858.6 L436.8,1864.9 L438.6,1870.4 L440.3,1875.0 L442.1,1878.4 L443.9,1880.5 L445.7,1882.2 L447.5,1883.8 L449.3,1885.3 L451.1,1886.8 L452.9,1888.2 L454.6,1889.5 L456.4,1890.6 L458.2,1891.7 L460.0,1892.7 L461.8,1893.6 L463.6,1894.4 L465.4,1895.1 L467.2,1895.7 L468.9,1896.1 L470.7,1896.4 L472.5,1896.6 L474.3,1896.7" fill="none" stroke="#E76BF3" stroke-width="2.0" stroke-opacity="0.7"/><path d="M154.4,1835.3 L156.2,1820.0 L158.0,1805.0 L159.7,1790.2 L161.5,1775.8 L163.3,1761.6 L165.1,1747.8 L166.9,1734.3 L168.7,1721.1 L170.5,1708.3 L172.3,1695.9 L174.0,1683.8 L175.8,1672.1 L177.6,1660.9 L179.4,1650.0 L181.2,1639.6 L183.0,1629.6 L184.8,1620.0 L186.6,1610.7 L188.3,1601.7 L190.1,1593.0 L191.9,1584.4 L193.7,1576.1 L195.5,1567.9 L197.3,1559.8 L199.1,1551.8 L200.8,1543.8 L202.6,1535.8 L204.4,1527.8 L206.2,1519.7 L208.0,1511.8 L209.8,1504.1 L211.6,1496.5 L213.4,1489.0 L215.1,1481.6 L216.9,1474.1 L218.7,1466.6 L220.5,1459.0 L222.3,1451.3 L224.1,1443.4 L225.9,1435.1 L227.7,1426.1 L229.4,1416.5 L231.2,1406.7 L233.0,1397.0 L234.8,1387.7 L236.6,1379.2 L238.4,1371.8 L240.2,1365.9 L242.0,1360.7 L243.7,1355.5 L245.5,1350.6 L247.3,1346.2 L249.1,1342.5 L250.9,1339.9 L252.7,1338.5 L254.5,1338.9 L256.3,1342.3 L258.0,1348.1 L259.8,1355.6 L261.6,1364.3 L263.4,1373.5 L265.2,1382.5 L267.0,1390.6 L268.8,1397.4 L270.6,1403.6 L272.3,1409.7 L274.1,1415.6 L275.9,1421.5 L277.7,1427.4 L279.5,1433.4 L281.3,1439.7 L283.1,1446.2 L284.9,1453.2 L286.6,1460.7 L288.4,1468.9 L290.2,1477.7 L292.0,1487.0 L293.8,1496.7 L295.6,1506.7 L297.4,1516.9 L299.1,1527.1 L300.9,1537.3 L302.7,1547.5 L304.5,1557.3 L306.3,1566.9 L308.1,1576.0 L309.9,1584.7 L311.7,1592.6 L313.4,1600.1 L315.2,1607.5 L317.0,1614.8 L318.8,1622.2 L320.6,1629.4 L322.4,1636.5 L324.2,1643.4 L326.0,1650.1 L327.7,1656.5 L329.5,1662.6 L331.3,1668.4 L333.1,1673.7 L334.9,1678.7 L336.7,1683.1 L338.5,1687.0 L340.3,1690.3 L342.0,1693.4 L343.8,1696.5 L345.6,1699.5 L347.4,1702.3 L349.2,1705.0 L351.0,1707.3 L352.8,1709.3 L354.6,1710.8 L356.3,1711.9 L358.1,1712.4 L359.9,1712.1 L361.7,1710.6 L363.5,1707.9 L365.3,1704.3 L367.1,1699.8 L368.9,1694.8 L370.6,1689.3 L372.4,1683.5 L374.2,1677.7 L376.0,1671.9 L377.8,1666.4 L379.6,1661.3 L381.4,1656.8 L383.1,1652.4 L384.9,1647.6 L386.7,1642.6 L388.5,1637.4 L390.3,1632.3 L392.1,1627.4 L393.9,1623.0 L395.7,1619.0 L397.4,1615.8 L399.2,1613.5 L401.0,1612.2 L402.8,1612.1 L404.6,1613.8 L406.4,1617.0 L408.2,1621.7 L410.0,1627.5 L411.7,1634.3 L413.5,1641.8 L415.3,1649.9 L417.1,1658.3 L418.9,1666.9 L420.7,1675.4 L422.5,1683.5 L424.3,1692.0 L426.0,1701.8 L427.8,1712.8 L429.6,1724.7 L431.4,1737.3 L433.2,1750.2 L435.0,1763.3 L436.8,1776.3 L438.6,1788.9 L440.3,1800.9 L442.1,1812.0 L443.9,1822.0 L445.7,1830.7 L447.5,1837.7 L449.3,1843.1 L451.1,1848.1 L452.9,1853.0 L454.6,1857.7 L456.4,1862.3 L458.2,1866.6 L460.0,1870.7 L461.8,1874.5 L463.6,1877.9 L465.4,1880.9 L467.2,1883.5 L468.9,1885.5 L470.7,1887.0 L472.5,1888.0 L474.3,1888.3" fill="none" stroke="#FF62BC" stroke-width="2.0" stroke-opacity="0.7"/><path d="M138.5,1310.6 V1924.5 H489.8" fill="none" stroke="#333" stroke-width="1.7"/><path d="M138.5,1896.7 h-3.5" stroke="#333" stroke-width="1.3"/><text x="133.0" y="1902.1" font-size="15.0" text-anchor="end" textLength="20.0" lengthAdjust="spacingAndGlyphs" fill="#555" font-family="'Liberation Sans', Arial, sans-serif">0.00</text><path d="M138.5,1757.1 h-3.5" stroke="#333" stroke-width="1.3"/><text x="133.0" y="1762.5" font-size="15.0" text-anchor="end" textLength="20.0" lengthAdjust="spacingAndGlyphs" fill="#555" font-family="'Liberation Sans', Arial, sans-serif">0.25</text><path d="M138.5,1617.6 h-3.5" stroke="#333" stroke-width="1.3"/><text x="133.0" y="1623.0" font-size="15.0" text-anchor="end" textLength="20.0" lengthAdjust="spacingAndGlyphs" fill="#555" font-family="'Liberation Sans', Arial, sans-serif">0.50</text><path d="M138.5,1478.0 h-3.5" stroke="#333" stroke-width="1.3"/><text x="133.0" y="1483.4" font-size="15.0" text-anchor="end" textLength="20.0" lengthAdjust="spacingAndGlyphs" fill="#555" font-family="'Liberation Sans', Arial, sans-serif">0.75</text><path d="M138.5,1338.4 h-3.5" stroke="#333" stroke-width="1.3"/><text x="133.0" y="1343.8" font-size="15.0" text-anchor="end" textLength="20.0" lengthAdjust="spacingAndGlyphs" fill="#555" font-family="'Liberation Sans', Arial, sans-serif">1.00</text><path d="M164.7,1924.5 v3.5" stroke="#333" stroke-width="1.3"/><text x="164.7" y="1943.5" font-size="15.0" text-anchor="middle" textLength="6.5" lengthAdjust="spacingAndGlyphs" fill="#555" font-family="'Liberation Sans', Arial, sans-serif">0</text><path d="M267.9,1924.5 v3.5" stroke="#333" stroke-width="1.3"/><text x="267.9" y="1943.5" font-size="15.0" text-anchor="middle" textLength="12.0" lengthAdjust="spacingAndGlyphs" fill="#555" font-family="'Liberation Sans', Arial, sans-serif">10</text><path d="M371.1,1924.5 v3.5" stroke="#333" stroke-width="1.3"/><text x="371.1" y="1943.5" font-size="15.0" text-anchor="middle" textLength="12.0" lengthAdjust="spacingAndGlyphs" fill="#555" font-family="'Liberation Sans', Arial, sans-serif">20</text><path d="M474.3,1924.5 v3.5" stroke="#333" stroke-width="1.3"/><text x="474.3" y="1943.5" font-size="15.0" text-anchor="middle" textLength="12.0" lengthAdjust="spacingAndGlyphs" fill="#555" font-family="'Liberation Sans', Arial, sans-serif">30</text><text x="311.3" y="1961.0" font-size="22.0" text-anchor="middle" textLength="83.0" lengthAdjust="spacingAndGlyphs" fill="#222" font-family="'Liberation Sans', Arial, sans-serif">Time (CT)</text><text x="0.0" y="0.0" font-size="22.0" text-anchor="middle" textLength="195.0" lengthAdjust="spacingAndGlyphs" fill="#222" font-family="'Liberation Sans', Arial, sans-serif" transform="translate(102.5,1624) rotate(-90)">Percentage of Genes</text><rect x="447.6" y="1483.0" width="17.5" height="27.4" fill="#F8766D" fill-opacity="0.10" stroke="#F8766D" stroke-width="1.8"/><text x="468.1" y="1503.5" font-size="18.5" textLength="157.5" lengthAdjust="spacingAndGlyphs" fill="#222" font-family="'Liberation Sans', Arial, sans-serif">Alzheimer's Disease</text><rect x="447.6" y="1513.0" width="17.5" height="27.4" fill="#D89000" fill-opacity="0.10" stroke="#D89000" stroke-width="1.8"/><text x="468.1" y="1533.4" font-size="18.5" textLength="32.5" lengthAdjust="spacingAndGlyphs" fill="#222" font-family="'Liberation Sans', Arial, sans-serif">ALS</text><rect x="447.6" y="1542.9" width="17.5" height="27.4" fill="#A3A500" fill-opacity="0.10" stroke="#A3A500" stroke-width="1.8"/><text x="468.1" y="1563.4" font-size="18.5" textLength="150.8" lengthAdjust="spacingAndGlyphs" fill="#222" font-family="'Liberation Sans', Arial, sans-serif">Huntington Disease</text><rect x="447.6" y="1572.8" width="17.5" height="27.4" fill="#39B600" fill-opacity="0.10" stroke="#39B600" stroke-width="1.8"/><text x="468.1" y="1593.3" font-size="18.5" textLength="77.4" lengthAdjust="spacingAndGlyphs" fill="#222" font-family="'Liberation Sans', Arial, sans-serif">Lysosome</text><rect x="447.6" y="1602.8" width="17.5" height="27.4" fill="#00BF7D" fill-opacity="0.10" stroke="#00BF7D" stroke-width="1.8"/><text x="468.1" y="1623.3" font-size="18.5" textLength="201.6" lengthAdjust="spacingAndGlyphs" fill="#222" font-family="'Liberation Sans', Arial, sans-serif">Oxidative Phosphorylation</text><rect x="447.6" y="1632.8" width="17.5" height="27.4" fill="#00BFC4" fill-opacity="0.10" stroke="#00BFC4" stroke-width="1.8"/><text x="468.1" y="1653.2" font-size="18.5" textLength="156.0" lengthAdjust="spacingAndGlyphs" fill="#222" font-family="'Liberation Sans', Arial, sans-serif">Parkinson's Disease</text><rect x="447.6" y="1662.7" width="17.5" height="27.4" fill="#00B0F6" fill-opacity="0.10" stroke="#00B0F6" stroke-width="1.8"/><text x="468.1" y="1683.2" font-size="18.5" textLength="107.0" lengthAdjust="spacingAndGlyphs" fill="#222" font-family="'Liberation Sans', Arial, sans-serif">Prion Disease</text><rect x="447.6" y="1692.7" width="17.5" height="27.4" fill="#9590FF" fill-opacity="0.10" stroke="#9590FF" stroke-width="1.8"/><text x="468.1" y="1713.1" font-size="18.5" textLength="92.5" lengthAdjust="spacingAndGlyphs" fill="#222" font-family="'Liberation Sans', Arial, sans-serif">Proteasome</text><rect x="447.6" y="1722.6" width="17.5" height="27.4" fill="#E76BF3" fill-opacity="0.10" stroke="#E76BF3" stroke-width="1.8"/><text x="468.1" y="1743.1" font-size="18.5" textLength="198.4" lengthAdjust="spacingAndGlyphs" fill="#222" font-family="'Liberation Sans', Arial, sans-serif">Reactive Oxygen Species</text><rect x="447.6" y="1752.5" width="17.5" height="27.4" fill="#FF62BC" fill-opacity="0.10" stroke="#FF62BC" stroke-width="1.8"/><text x="468.1" y="1773.0" font-size="18.5" textLength="172.6" lengthAdjust="spacingAndGlyphs" fill="#222" font-family="'Liberation Sans', Arial, sans-serif">Spinocerebellar Ataxia</text><text x="751.4" y="1303.0" font-size="20.5" font-weight="bold" textLength="339.3" lengthAdjust="spacingAndGlyphs" fill="#111" font-family="'Liberation Sans', Arial, sans-serif">Phase of Genes in APP Micro Pathway</text><path d="M772.6,1840.9 L774.3,1835.1 L776.0,1828.9 L777.7,1822.5 L779.4,1815.7 L781.1,1808.6 L782.8,1801.2 L784.5,1793.6 L786.2,1785.7 L787.9,1777.6 L789.6,1769.2 L791.3,1760.5 L793.0,1751.7 L794.7,1742.6 L796.4,1733.3 L798.1,1723.9 L799.8,1714.3 L801.5,1704.5 L803.2,1694.3 L804.9,1683.1 L806.6,1670.8 L808.3,1657.8 L810.1,1644.1 L811.8,1629.9 L813.5,1615.4 L815.2,1600.6 L816.9,1585.8 L818.6,1571.1 L820.3,1556.6 L822.0,1542.5 L823.7,1529.0 L825.4,1516.2 L827.1,1504.3 L828.8,1493.3 L830.5,1483.6 L832.2,1475.0 L833.9,1466.7 L835.6,1458.4 L837.3,1450.0 L839.0,1441.6 L840.7,1433.3 L842.4,1425.1 L844.1,1417.1 L845.8,1409.2 L847.5,1401.6 L849.2,1394.2 L851.0,1387.1 L852.7,1380.3 L854.4,1373.9 L856.1,1367.9 L857.8,1362.4 L859.5,1357.3 L861.2,1352.7 L862.9,1348.7 L864.6,1345.3 L866.3,1342.6 L868.0,1340.5 L869.7,1339.1 L871.4,1338.4 L873.1,1338.7 L874.8,1340.2 L876.5,1342.9 L878.2,1346.7 L879.9,1351.4 L881.6,1357.1 L883.3,1363.5 L885.0,1370.6 L886.7,1378.3 L888.4,1386.5 L890.1,1395.1 L891.8,1404.0 L893.6,1413.1 L895.3,1422.3 L897.0,1431.5 L898.7,1440.6 L900.4,1449.5 L902.1,1459.0 L903.8,1469.9 L905.5,1482.0 L907.2,1495.0 L908.9,1508.5 L910.6,1522.3 L912.3,1536.0 L914.0,1549.4 L915.7,1562.0 L917.4,1573.7 L919.1,1584.1 L920.8,1593.0 L922.5,1601.7 L924.2,1610.6 L925.9,1619.6 L927.6,1628.5 L929.3,1637.3 L931.0,1645.8 L932.7,1654.1 L934.5,1662.0 L936.2,1669.4 L937.9,1676.2 L939.6,1682.4 L941.3,1687.9 L943.0,1692.6 L944.7,1696.3 L946.4,1699.1 L948.1,1700.8 L949.8,1701.3 L951.5,1701.0 L953.2,1700.1 L954.9,1698.8 L956.6,1697.0 L958.3,1694.9 L960.0,1692.4 L961.7,1689.6 L963.4,1686.6 L965.1,1683.5 L966.8,1680.2 L968.5,1676.8 L970.2,1673.3 L971.9,1669.9 L973.6,1666.5 L975.4,1663.3 L977.1,1660.2 L978.8,1657.3 L980.5,1654.5 L982.2,1651.4 L983.9,1648.0 L985.6,1644.5 L987.3,1640.8 L989.0,1637.1 L990.7,1633.4 L992.4,1629.8 L994.1,1626.5 L995.8,1623.4 L997.5,1620.7 L999.2,1618.4 L1000.9,1616.6 L1002.6,1615.3 L1004.3,1614.8 L1006.0,1615.0 L1007.7,1615.9 L1009.4,1617.5 L1011.1,1619.6 L1012.8,1622.4 L1014.5,1625.6 L1016.3,1629.3 L1018.0,1633.3 L1019.7,1637.6 L1021.4,1642.2 L1023.1,1646.9 L1024.8,1651.8 L1026.5,1656.7 L1028.2,1661.6 L1029.9,1666.9 L1031.6,1673.3 L1033.3,1680.7 L1035.0,1688.8 L1036.7,1697.6 L1038.4,1706.9 L1040.1,1716.6 L1041.8,1726.4 L1043.5,1736.3 L1045.2,1746.0 L1046.9,1755.6 L1048.6,1764.6 L1050.3,1773.2 L1052.0,1781.0 L1053.7,1788.0 L1055.4,1794.8 L1057.2,1801.5 L1058.9,1808.0 L1060.6,1814.4 L1062.3,1820.6 L1064.0,1826.7 L1065.7,1832.6 L1067.4,1838.3 L1069.1,1843.9 L1070.8,1849.3 L1072.5,1854.5 L1074.2,1859.5 L1075.9,1864.2 L1077.6,1868.8 L1077.6,1896.7 L772.6,1896.7Z" fill="#F8766D" fill-opacity="0.10"/><path d="M772.6,1852.0 L774.3,1846.1 L776.0,1839.8 L777.7,1833.2 L779.4,1826.4 L781.1,1819.3 L782.8,1811.9 L784.5,1804.2 L786.2,1796.3 L787.9,1788.2 L789.6,1779.8 L791.3,1771.2 L793.0,1762.4 L794.7,1753.4 L796.4,1744.2 L798.1,1734.9 L799.8,1725.3 L801.5,1715.6 L803.2,1705.6 L804.9,1694.7 L806.6,1682.9 L808.3,1670.5 L810.1,1657.5 L811.8,1644.1 L813.5,1630.3 L815.2,1616.4 L816.9,1602.3 L818.6,1588.3 L820.3,1574.4 L822.0,1560.8 L823.7,1547.6 L825.4,1534.9 L827.1,1522.8 L828.8,1511.4 L830.5,1501.0 L832.2,1491.4 L833.9,1481.8 L835.6,1472.0 L837.3,1462.1 L839.0,1452.1 L840.7,1442.1 L842.4,1432.2 L844.1,1422.4 L845.8,1412.8 L847.5,1403.5 L849.2,1394.5 L851.0,1385.9 L852.7,1377.8 L854.4,1370.3 L856.1,1363.4 L857.8,1357.2 L859.5,1351.8 L861.2,1347.1 L862.9,1343.4 L864.6,1340.7 L866.3,1339.0 L868.0,1338.4 L869.7,1339.0 L871.4,1340.8 L873.1,1343.7 L874.8,1347.6 L876.5,1352.4 L878.2,1357.9 L879.9,1364.1 L881.6,1370.8 L883.3,1378.0 L885.0,1385.6 L886.7,1393.4 L888.4,1401.3 L890.1,1409.2 L891.8,1417.0 L893.6,1424.7 L895.3,1432.0 L897.0,1439.4 L898.7,1447.3 L900.4,1455.8 L902.1,1464.8 L903.8,1474.1 L905.5,1483.6 L907.2,1493.3 L908.9,1503.0 L910.6,1512.7 L912.3,1522.3 L914.0,1531.6 L915.7,1540.5 L917.4,1549.1 L919.1,1557.1 L920.8,1564.6 L922.5,1572.0 L924.2,1579.6 L925.9,1587.1 L927.6,1594.5 L929.3,1601.6 L931.0,1608.4 L932.7,1614.8 L934.5,1620.6 L936.2,1625.8 L937.9,1630.2 L939.6,1633.8 L941.3,1636.8 L943.0,1639.7 L944.7,1642.5 L946.4,1645.1 L948.1,1647.6 L949.8,1649.9 L951.5,1651.9 L953.2,1653.6 L954.9,1655.0 L956.6,1655.9 L958.3,1656.5 L960.0,1656.6 L961.7,1656.6 L963.4,1656.4 L965.1,1656.2 L966.8,1655.9 L968.5,1655.6 L970.2,1655.3 L971.9,1654.9 L973.6,1654.5 L975.4,1654.1 L977.1,1653.6 L978.8,1653.2 L980.5,1652.8 L982.2,1652.4 L983.9,1652.1 L985.6,1651.7 L987.3,1651.5 L989.0,1651.3 L990.7,1651.1 L992.4,1651.1 L994.1,1651.3 L995.8,1652.4 L997.5,1654.3 L999.2,1657.0 L1000.9,1660.4 L1002.6,1664.3 L1004.3,1668.7 L1006.0,1673.5 L1007.7,1678.7 L1009.4,1684.0 L1011.1,1689.5 L1012.8,1695.0 L1014.5,1700.4 L1016.3,1705.7 L1018.0,1710.7 L1019.7,1715.6 L1021.4,1720.8 L1023.1,1726.3 L1024.8,1732.1 L1026.5,1738.1 L1028.2,1744.3 L1029.9,1750.6 L1031.6,1757.0 L1033.3,1763.4 L1035.0,1769.8 L1036.7,1776.1 L1038.4,1782.3 L1040.1,1788.4 L1041.8,1794.2 L1043.5,1799.7 L1045.2,1805.0 L1046.9,1809.9 L1048.6,1814.4 L1050.3,1818.7 L1052.0,1823.0 L1053.7,1827.2 L1055.4,1831.3 L1057.2,1835.3 L1058.9,1839.2 L1060.6,1843.0 L1062.3,1846.7 L1064.0,1850.3 L1065.7,1853.8 L1067.4,1857.2 L1069.1,1860.4 L1070.8,1863.5 L1072.5,1866.4 L1074.2,1869.2 L1075.9,1871.9 L1077.6,1874.4 L1077.6,1896.7 L772.6,1896.7Z" fill="#D89000" fill-opacity="0.10"/><path d="M772.6,1773.9 L774.3,1765.9 L776.0,1757.8 L777.7,1749.5 L779.4,1741.2 L781.1,1732.6 L782.8,1724.0 L784.5,1715.2 L786.2,1706.3 L787.9,1697.3 L789.6,1688.1 L791.3,1678.8 L793.0,1669.4 L794.7,1659.9 L796.4,1650.3 L798.1,1640.6 L799.8,1630.7 L801.5,1620.8 L803.2,1610.5 L804.9,1599.5 L806.6,1587.7 L808.3,1575.3 L810.1,1562.5 L811.8,1549.3 L813.5,1536.0 L815.2,1522.7 L816.9,1509.5 L818.6,1496.6 L820.3,1484.1 L822.0,1472.2 L823.7,1461.0 L825.4,1450.6 L827.1,1441.2 L828.8,1432.9 L830.5,1425.9 L832.2,1420.2 L833.9,1414.9 L835.6,1409.7 L837.3,1404.5 L839.0,1399.4 L840.7,1394.5 L842.4,1389.6 L844.1,1384.9 L845.8,1380.3 L847.5,1375.9 L849.2,1371.7 L851.0,1367.7 L852.7,1363.8 L854.4,1360.2 L856.1,1356.8 L857.8,1353.7 L859.5,1350.8 L861.2,1348.2 L862.9,1345.8 L864.6,1343.8 L866.3,1342.0 L868.0,1340.6 L869.7,1339.5 L871.4,1338.8 L873.1,1338.4 L874.8,1338.7 L876.5,1340.6 L878.2,1344.2 L879.9,1349.4 L881.6,1355.9 L883.3,1363.5 L885.0,1372.1 L886.7,1381.4 L888.4,1391.3 L890.1,1401.6 L891.8,1412.0 L893.6,1422.5 L895.3,1432.8 L897.0,1442.7 L898.7,1452.1 L900.4,1460.7 L902.1,1469.2 L903.8,1478.7 L905.5,1488.8 L907.2,1499.4 L908.9,1510.3 L910.6,1521.5 L912.3,1532.6 L914.0,1543.6 L915.7,1554.3 L917.4,1564.4 L919.1,1573.8 L920.8,1582.4 L922.5,1589.9 L924.2,1596.2 L925.9,1601.2 L927.6,1604.6 L929.3,1606.2 L931.0,1606.2 L932.7,1605.4 L934.5,1603.9 L936.2,1601.8 L937.9,1599.2 L939.6,1596.0 L941.3,1592.4 L943.0,1588.4 L944.7,1584.1 L946.4,1579.5 L948.1,1574.7 L949.8,1569.7 L951.5,1564.6 L953.2,1559.4 L954.9,1554.3 L956.6,1549.2 L958.3,1544.2 L960.0,1539.4 L961.7,1534.9 L963.4,1530.6 L965.1,1526.6 L966.8,1522.4 L968.5,1517.9 L970.2,1513.2 L971.9,1508.2 L973.6,1503.1 L975.4,1497.9 L977.1,1492.7 L978.8,1487.5 L980.5,1482.4 L982.2,1477.3 L983.9,1472.5 L985.6,1467.8 L987.3,1463.5 L989.0,1459.4 L990.7,1455.7 L992.4,1452.5 L994.1,1449.7 L995.8,1447.5 L997.5,1445.8 L999.2,1444.8 L1000.9,1444.5 L1002.6,1444.9 L1004.3,1445.9 L1006.0,1447.6 L1007.7,1449.9 L1009.4,1452.7 L1011.1,1456.0 L1012.8,1459.7 L1014.5,1463.9 L1016.3,1468.3 L1018.0,1473.1 L1019.7,1478.1 L1021.4,1483.3 L1023.1,1488.7 L1024.8,1494.1 L1026.5,1499.7 L1028.2,1505.2 L1029.9,1511.1 L1031.6,1518.1 L1033.3,1526.0 L1035.0,1534.7 L1036.7,1544.1 L1038.4,1554.0 L1040.1,1564.5 L1041.8,1575.2 L1043.5,1586.2 L1045.2,1597.2 L1046.9,1608.2 L1048.6,1619.1 L1050.3,1629.7 L1052.0,1639.9 L1053.7,1649.7 L1055.4,1659.3 L1057.2,1669.0 L1058.9,1678.7 L1060.6,1688.4 L1062.3,1698.0 L1064.0,1707.7 L1065.7,1717.4 L1067.4,1727.0 L1069.1,1736.7 L1070.8,1746.4 L1072.5,1756.0 L1074.2,1765.7 L1075.9,1775.4 L1077.6,1785.0 L1077.6,1896.7 L772.6,1896.7Z" fill="#A3A500" fill-opacity="0.10"/><path d="M772.6,1868.8 L774.3,1860.9 L776.0,1853.2 L777.7,1845.9 L779.4,1839.0 L781.1,1832.5 L782.8,1826.5 L784.5,1820.9 L786.2,1815.9 L787.9,1811.5 L789.6,1807.0 L791.3,1802.6 L793.0,1798.3 L794.7,1794.3 L796.4,1790.8 L798.1,1788.0 L799.8,1786.1 L801.5,1785.1 L803.2,1785.3 L804.9,1786.5 L806.6,1788.4 L808.3,1790.8 L810.1,1793.4 L811.8,1796.0 L813.5,1798.8 L815.2,1802.4 L816.9,1806.6 L818.6,1810.9 L820.3,1815.1 L822.0,1818.9 L823.7,1821.8 L825.4,1823.7 L827.1,1824.1 L828.8,1822.5 L830.5,1819.1 L832.2,1813.9 L833.9,1807.2 L835.6,1799.1 L837.3,1789.9 L839.0,1779.7 L840.7,1768.8 L842.4,1757.2 L844.1,1745.2 L845.8,1733.0 L847.5,1719.4 L849.2,1701.3 L851.0,1679.3 L852.7,1654.2 L854.4,1626.8 L856.1,1598.2 L857.8,1569.1 L859.5,1540.4 L861.2,1513.1 L862.9,1487.9 L864.6,1465.9 L866.3,1447.6 L868.0,1430.4 L869.7,1412.8 L871.4,1395.4 L873.1,1379.1 L874.8,1364.6 L876.5,1352.6 L878.2,1343.8 L879.9,1339.1 L881.6,1339.0 L883.3,1343.6 L885.0,1352.3 L886.7,1364.2 L888.4,1378.6 L890.1,1394.9 L891.8,1412.2 L893.6,1429.9 L895.3,1447.1 L897.0,1465.2 L898.7,1487.2 L900.4,1512.3 L902.1,1539.5 L903.8,1568.2 L905.5,1597.3 L907.2,1625.9 L908.9,1653.3 L910.6,1678.5 L912.3,1700.7 L914.0,1718.9 L915.7,1732.6 L917.4,1744.8 L919.1,1756.8 L920.8,1768.4 L922.5,1779.4 L924.2,1789.6 L925.9,1798.9 L927.6,1807.0 L929.3,1813.7 L931.0,1818.9 L932.7,1822.4 L934.5,1824.0 L936.2,1823.8 L937.9,1822.6 L939.6,1820.6 L941.3,1818.2 L943.0,1815.6 L944.7,1813.1 L946.4,1810.2 L948.1,1806.6 L949.8,1802.4 L951.5,1798.0 L953.2,1793.9 L954.9,1790.1 L956.6,1787.2 L958.3,1785.4 L960.0,1785.1 L961.7,1786.0 L963.4,1787.9 L965.1,1790.7 L966.8,1794.2 L968.5,1798.2 L970.2,1802.5 L971.9,1806.9 L973.6,1811.3 L975.4,1816.0 L977.1,1821.9 L978.8,1828.8 L980.5,1836.4 L982.2,1844.1 L983.9,1851.6 L985.6,1858.5 L987.3,1864.3 L989.0,1868.7 L990.7,1872.1 L992.4,1875.4 L994.1,1878.7 L995.8,1881.7 L997.5,1884.6 L999.2,1887.2 L1000.9,1889.5 L1002.6,1891.5 L1004.3,1893.1 L1006.0,1894.2 L1007.7,1894.9 L1009.4,1895.1 L1011.1,1895.2 L1012.8,1895.3 L1014.5,1895.3 L1016.3,1895.4 L1018.0,1895.5 L1019.7,1895.6 L1021.4,1895.7 L1023.1,1895.7 L1024.8,1895.8 L1026.5,1895.9 L1028.2,1895.9 L1029.9,1896.0 L1031.6,1896.0 L1033.3,1896.1 L1035.0,1896.2 L1036.7,1896.2 L1038.4,1896.2 L1040.1,1896.3 L1041.8,1896.3 L1043.5,1896.4 L1045.2,1896.4 L1046.9,1896.4 L1048.6,1896.5 L1050.3,1896.5 L1052.0,1896.5 L1053.7,1896.6 L1055.4,1896.6 L1057.2,1896.6 L1058.9,1896.6 L1060.6,1896.6 L1062.3,1896.6 L1064.0,1896.7 L1065.7,1896.7 L1067.4,1896.7 L1069.1,1896.7 L1070.8,1896.7 L1072.5,1896.7 L1074.2,1896.7 L1075.9,1896.7 L1077.6,1896.7 L1077.6,1896.7 L772.6,1896.7Z" fill="#39B600" fill-opacity="0.10"/><path d="M772.6,1773.9 L774.3,1761.3 L776.0,1748.8 L777.7,1736.3 L779.4,1723.8 L781.1,1711.4 L782.8,1699.0 L784.5,1686.7 L786.2,1674.4 L787.9,1662.2 L789.6,1649.9 L791.3,1637.8 L793.0,1625.6 L794.7,1613.5 L796.4,1601.5 L798.1,1589.5 L799.8,1577.5 L801.5,1565.6 L803.2,1553.5 L804.9,1540.8 L806.6,1527.6 L808.3,1514.1 L810.1,1500.4 L811.8,1486.8 L813.5,1473.3 L815.2,1460.2 L816.9,1447.7 L818.6,1435.8 L820.3,1424.8 L822.0,1414.9 L823.7,1406.1 L825.4,1398.8 L827.1,1392.9 L828.8,1387.6 L830.5,1382.4 L832.2,1377.3 L833.9,1372.3 L835.6,1367.6 L837.3,1363.0 L839.0,1358.8 L840.7,1354.8 L842.4,1351.2 L844.1,1348.0 L845.8,1345.2 L847.5,1342.8 L849.2,1340.9 L851.0,1339.5 L852.7,1338.7 L854.4,1338.4 L856.1,1339.1 L857.8,1340.9 L859.5,1343.8 L861.2,1347.5 L862.9,1352.1 L864.6,1357.4 L866.3,1363.2 L868.0,1369.6 L869.7,1376.3 L871.4,1383.3 L873.1,1390.5 L874.8,1397.7 L876.5,1404.9 L878.2,1412.0 L879.9,1418.8 L881.6,1425.3 L883.3,1432.3 L885.0,1439.9 L886.7,1447.9 L888.4,1456.2 L890.1,1464.8 L891.8,1473.7 L893.6,1482.7 L895.3,1491.7 L897.0,1500.7 L898.7,1509.6 L900.4,1518.4 L902.1,1526.9 L903.8,1535.0 L905.5,1542.7 L907.2,1550.0 L908.9,1556.6 L910.6,1562.7 L912.3,1568.6 L914.0,1574.6 L915.7,1580.8 L917.4,1587.0 L919.1,1593.1 L920.8,1599.1 L922.5,1605.0 L924.2,1610.6 L925.9,1615.9 L927.6,1620.9 L929.3,1625.4 L931.0,1629.4 L932.7,1632.9 L934.5,1635.8 L936.2,1637.9 L937.9,1639.3 L939.6,1639.9 L941.3,1639.6 L943.0,1638.7 L944.7,1637.1 L946.4,1635.0 L948.1,1632.3 L949.8,1629.3 L951.5,1625.8 L953.2,1622.1 L954.9,1618.1 L956.6,1614.0 L958.3,1609.7 L960.0,1605.4 L961.7,1601.1 L963.4,1597.0 L965.1,1592.9 L966.8,1589.1 L968.5,1585.6 L970.2,1582.4 L971.9,1578.9 L973.6,1575.2 L975.4,1571.2 L977.1,1567.2 L978.8,1563.0 L980.5,1558.9 L982.2,1554.8 L983.9,1550.7 L985.6,1546.9 L987.3,1543.2 L989.0,1539.8 L990.7,1536.7 L992.4,1534.1 L994.1,1531.8 L995.8,1530.1 L997.5,1528.9 L999.2,1528.3 L1000.9,1528.4 L1002.6,1529.6 L1004.3,1531.8 L1006.0,1534.9 L1007.7,1538.8 L1009.4,1543.4 L1011.1,1548.6 L1012.8,1554.4 L1014.5,1560.6 L1016.3,1567.3 L1018.0,1574.2 L1019.7,1581.3 L1021.4,1588.5 L1023.1,1595.7 L1024.8,1602.9 L1026.5,1609.9 L1028.2,1616.7 L1029.9,1623.6 L1031.6,1631.1 L1033.3,1639.2 L1035.0,1647.7 L1036.7,1656.7 L1038.4,1665.8 L1040.1,1675.2 L1041.8,1684.5 L1043.5,1693.9 L1045.2,1703.1 L1046.9,1712.0 L1048.6,1720.6 L1050.3,1728.8 L1052.0,1736.4 L1053.7,1743.4 L1055.4,1750.2 L1057.2,1756.8 L1058.9,1763.3 L1060.6,1769.7 L1062.3,1776.0 L1064.0,1782.0 L1065.7,1787.9 L1067.4,1793.7 L1069.1,1799.2 L1070.8,1804.6 L1072.5,1809.8 L1074.2,1814.8 L1075.9,1819.6 L1077.6,1824.1 L1077.6,1896.7 L772.6,1896.7Z" fill="#00BF7D" fill-opacity="0.10"/><path d="M772.6,1813.0 L774.3,1802.1 L776.0,1791.2 L777.7,1780.3 L779.4,1769.3 L781.1,1758.3 L782.8,1747.1 L784.5,1736.0 L786.2,1724.8 L787.9,1713.5 L789.6,1702.1 L791.3,1690.8 L793.0,1679.3 L794.7,1667.8 L796.4,1656.3 L798.1,1644.7 L799.8,1633.0 L801.5,1621.3 L803.2,1609.4 L804.9,1596.8 L806.6,1583.5 L808.3,1569.8 L810.1,1555.8 L811.8,1541.5 L813.5,1527.2 L815.2,1512.9 L816.9,1498.8 L818.6,1485.1 L820.3,1471.8 L822.0,1459.2 L823.7,1447.2 L825.4,1436.2 L827.1,1426.1 L828.8,1417.2 L830.5,1409.6 L832.2,1403.3 L833.9,1397.3 L835.6,1391.3 L837.3,1385.5 L839.0,1379.8 L840.7,1374.3 L842.4,1369.1 L844.1,1364.1 L845.8,1359.4 L847.5,1355.1 L849.2,1351.2 L851.0,1347.7 L852.7,1344.7 L854.4,1342.2 L856.1,1340.3 L857.8,1339.1 L859.5,1338.5 L861.2,1338.7 L862.9,1340.3 L864.6,1343.1 L866.3,1347.1 L868.0,1352.0 L869.7,1357.7 L871.4,1364.1 L873.1,1370.9 L874.8,1378.1 L876.5,1385.5 L878.2,1392.9 L879.9,1400.2 L881.6,1407.3 L883.3,1413.9 L885.0,1419.9 L886.7,1425.5 L888.4,1431.4 L890.1,1437.8 L891.8,1444.4 L893.6,1451.3 L895.3,1458.2 L897.0,1465.0 L898.7,1471.7 L900.4,1478.1 L902.1,1484.2 L903.8,1489.7 L905.5,1494.6 L907.2,1498.7 L908.9,1502.1 L910.6,1504.4 L912.3,1505.7 L914.0,1505.8 L915.7,1505.0 L917.4,1503.3 L919.1,1501.0 L920.8,1498.0 L922.5,1494.5 L924.2,1490.5 L925.9,1486.3 L927.6,1481.7 L929.3,1477.0 L931.0,1472.2 L932.7,1467.5 L934.5,1462.9 L936.2,1458.4 L937.9,1454.3 L939.6,1450.6 L941.3,1447.1 L943.0,1443.5 L944.7,1439.6 L946.4,1435.7 L948.1,1431.6 L949.8,1427.4 L951.5,1423.2 L953.2,1418.9 L954.9,1414.6 L956.6,1410.3 L958.3,1406.1 L960.0,1401.8 L961.7,1397.7 L963.4,1393.7 L965.1,1389.7 L966.8,1386.0 L968.5,1382.4 L970.2,1379.0 L971.9,1375.8 L973.6,1372.8 L975.4,1370.1 L977.1,1367.7 L978.8,1365.6 L980.5,1363.9 L982.2,1362.5 L983.9,1361.5 L985.6,1360.9 L987.3,1360.7 L989.0,1361.4 L990.7,1363.2 L992.4,1365.9 L994.1,1369.5 L995.8,1374.0 L997.5,1379.2 L999.2,1385.2 L1000.9,1391.7 L1002.6,1398.8 L1004.3,1406.3 L1006.0,1414.3 L1007.7,1422.6 L1009.4,1431.1 L1011.1,1439.8 L1012.8,1448.6 L1014.5,1457.4 L1016.3,1466.2 L1018.0,1474.9 L1019.7,1483.8 L1021.4,1493.7 L1023.1,1504.8 L1024.8,1516.9 L1026.5,1529.7 L1028.2,1543.3 L1029.9,1557.3 L1031.6,1571.7 L1033.3,1586.4 L1035.0,1601.1 L1036.7,1615.8 L1038.4,1630.3 L1040.1,1644.4 L1041.8,1658.0 L1043.5,1670.9 L1045.2,1683.1 L1046.9,1694.3 L1048.6,1704.5 L1050.3,1714.3 L1052.0,1723.9 L1053.7,1733.3 L1055.4,1742.6 L1057.2,1751.7 L1058.9,1760.5 L1060.6,1769.2 L1062.3,1777.6 L1064.0,1785.7 L1065.7,1793.6 L1067.4,1801.2 L1069.1,1808.6 L1070.8,1815.7 L1072.5,1822.5 L1074.2,1828.9 L1075.9,1835.1 L1077.6,1840.9 L1077.6,1896.7 L772.6,1896.7Z" fill="#00BFC4" fill-opacity="0.10"/><path d="M772.6,1824.1 L774.3,1813.8 L776.0,1803.3 L777.7,1792.8 L779.4,1782.2 L781.1,1771.6 L782.8,1760.9 L784.5,1750.0 L786.2,1739.2 L787.9,1728.2 L789.6,1717.2 L791.3,1706.1 L793.0,1694.9 L794.7,1683.7 L796.4,1672.4 L798.1,1661.0 L799.8,1649.5 L801.5,1638.0 L803.2,1626.3 L804.9,1613.8 L806.6,1600.8 L808.3,1587.3 L810.1,1573.4 L811.8,1559.3 L813.5,1545.2 L815.2,1531.0 L816.9,1517.1 L818.6,1503.4 L820.3,1490.1 L822.0,1477.4 L823.7,1465.4 L825.4,1454.2 L827.1,1443.9 L828.8,1434.7 L830.5,1426.6 L832.2,1419.8 L833.9,1413.3 L835.6,1406.8 L837.3,1400.4 L839.0,1394.1 L840.7,1388.0 L842.4,1382.0 L844.1,1376.3 L845.8,1370.8 L847.5,1365.6 L849.2,1360.8 L851.0,1356.3 L852.7,1352.2 L854.4,1348.6 L856.1,1345.5 L857.8,1342.9 L859.5,1340.8 L861.2,1339.4 L862.9,1338.6 L864.6,1338.5 L866.3,1340.0 L868.0,1343.3 L869.7,1348.1 L871.4,1354.3 L873.1,1361.7 L874.8,1370.1 L876.5,1379.3 L878.2,1389.1 L879.9,1399.3 L881.6,1409.8 L883.3,1420.3 L885.0,1430.6 L886.7,1440.6 L888.4,1450.1 L890.1,1458.8 L891.8,1467.2 L893.6,1476.2 L895.3,1485.8 L897.0,1496.0 L898.7,1506.6 L900.4,1517.5 L902.1,1528.5 L903.8,1539.6 L905.5,1550.5 L907.2,1561.2 L908.9,1571.6 L910.6,1581.5 L912.3,1590.8 L914.0,1599.3 L915.7,1607.0 L917.4,1613.8 L919.1,1619.4 L920.8,1623.8 L922.5,1626.9 L924.2,1628.5 L925.9,1628.6 L927.6,1627.9 L929.3,1626.6 L931.0,1624.6 L932.7,1622.2 L934.5,1619.2 L936.2,1615.9 L937.9,1612.3 L939.6,1608.4 L941.3,1604.3 L943.0,1600.1 L944.7,1595.8 L946.4,1591.6 L948.1,1587.3 L949.8,1583.2 L951.5,1579.3 L953.2,1575.7 L954.9,1572.3 L956.6,1568.9 L958.3,1565.3 L960.0,1561.5 L961.7,1557.6 L963.4,1553.5 L965.1,1549.4 L966.8,1545.1 L968.5,1540.8 L970.2,1536.6 L971.9,1532.3 L973.6,1528.0 L975.4,1523.9 L977.1,1519.8 L978.8,1515.9 L980.5,1512.1 L982.2,1508.5 L983.9,1505.1 L985.6,1502.0 L987.3,1499.1 L989.0,1496.6 L990.7,1494.3 L992.4,1492.5 L994.1,1491.0 L995.8,1489.9 L997.5,1489.3 L999.2,1489.2 L1000.9,1490.2 L1002.6,1492.8 L1004.3,1496.6 L1006.0,1501.6 L1007.7,1507.7 L1009.4,1514.7 L1011.1,1522.5 L1012.8,1530.9 L1014.5,1540.0 L1016.3,1549.4 L1018.0,1559.1 L1019.7,1569.0 L1021.4,1579.0 L1023.1,1588.8 L1024.8,1598.4 L1026.5,1607.7 L1028.2,1616.5 L1029.9,1625.1 L1031.6,1634.4 L1033.3,1644.1 L1035.0,1654.2 L1036.7,1664.6 L1038.4,1675.2 L1040.1,1685.8 L1041.8,1696.3 L1043.5,1706.8 L1045.2,1716.9 L1046.9,1726.7 L1048.6,1736.1 L1050.3,1744.8 L1052.0,1752.9 L1053.7,1760.3 L1055.4,1767.4 L1057.2,1774.4 L1058.9,1781.2 L1060.6,1787.8 L1062.3,1794.2 L1064.0,1800.4 L1065.7,1806.4 L1067.4,1812.1 L1069.1,1817.6 L1070.8,1822.9 L1072.5,1827.8 L1074.2,1832.5 L1075.9,1836.8 L1077.6,1840.9 L1077.6,1896.7 L772.6,1896.7Z" fill="#00B0F6" fill-opacity="0.10"/><path d="M772.6,1813.0 L774.3,1809.3 L776.0,1805.7 L777.7,1802.1 L779.4,1798.5 L781.1,1794.8 L782.8,1791.2 L784.5,1787.6 L786.2,1783.9 L787.9,1780.3 L789.6,1776.7 L791.3,1773.1 L793.0,1769.4 L794.7,1765.8 L796.4,1762.2 L798.1,1758.6 L799.8,1754.9 L801.5,1751.3 L803.2,1747.7 L804.9,1744.1 L806.6,1740.4 L808.3,1736.8 L810.1,1733.2 L811.8,1729.6 L813.5,1725.9 L815.2,1722.3 L816.9,1718.6 L818.6,1714.9 L820.3,1711.2 L822.0,1707.6 L823.7,1703.9 L825.4,1700.2 L827.1,1696.5 L828.8,1692.8 L830.5,1689.1 L832.2,1685.4 L833.9,1681.7 L835.6,1678.1 L837.3,1674.4 L839.0,1670.8 L840.7,1667.2 L842.4,1663.6 L844.1,1660.0 L845.8,1656.5 L847.5,1653.0 L849.2,1649.6 L851.0,1646.1 L852.7,1642.7 L854.4,1639.4 L856.1,1636.1 L857.8,1632.8 L859.5,1629.5 L861.2,1626.3 L862.9,1623.1 L864.6,1619.9 L866.3,1616.7 L868.0,1613.5 L869.7,1610.4 L871.4,1607.2 L873.1,1604.0 L874.8,1600.9 L876.5,1597.7 L878.2,1594.5 L879.9,1591.3 L881.6,1588.1 L883.3,1584.9 L885.0,1581.9 L886.7,1578.9 L888.4,1575.9 L890.1,1573.0 L891.8,1570.0 L893.6,1567.0 L895.3,1564.1 L897.0,1561.0 L898.7,1557.9 L900.4,1554.8 L902.1,1551.5 L903.8,1548.1 L905.5,1544.6 L907.2,1541.0 L908.9,1537.1 L910.6,1533.1 L912.3,1528.8 L914.0,1524.1 L915.7,1519.1 L917.4,1513.9 L919.1,1508.4 L920.8,1502.7 L922.5,1496.8 L924.2,1490.9 L925.9,1484.8 L927.6,1478.8 L929.3,1472.8 L931.0,1466.9 L932.7,1461.0 L934.5,1455.4 L936.2,1449.9 L937.9,1444.6 L939.6,1439.7 L941.3,1434.8 L943.0,1429.8 L944.7,1424.6 L946.4,1419.2 L948.1,1413.7 L949.8,1408.2 L951.5,1402.7 L953.2,1397.1 L954.9,1391.6 L956.6,1386.2 L958.3,1380.9 L960.0,1375.7 L961.7,1370.7 L963.4,1365.9 L965.1,1361.4 L966.8,1357.2 L968.5,1353.3 L970.2,1349.8 L971.9,1346.7 L973.6,1344.0 L975.4,1341.8 L977.1,1340.2 L978.8,1339.0 L980.5,1338.5 L982.2,1338.6 L983.9,1339.6 L985.6,1341.6 L987.3,1344.4 L989.0,1347.9 L990.7,1352.2 L992.4,1357.1 L994.1,1362.5 L995.8,1368.5 L997.5,1374.8 L999.2,1381.5 L1000.9,1388.5 L1002.6,1395.7 L1004.3,1403.0 L1006.0,1410.4 L1007.7,1417.9 L1009.4,1425.3 L1011.1,1433.9 L1012.8,1443.5 L1014.5,1454.3 L1016.3,1465.9 L1018.0,1478.4 L1019.7,1491.5 L1021.4,1505.2 L1023.1,1519.3 L1024.8,1533.8 L1026.5,1548.4 L1028.2,1563.2 L1029.9,1577.9 L1031.6,1592.4 L1033.3,1606.7 L1035.0,1620.6 L1036.7,1633.9 L1038.4,1646.7 L1040.1,1659.5 L1041.8,1672.9 L1043.5,1686.6 L1045.2,1700.5 L1046.9,1714.2 L1048.6,1727.5 L1050.3,1740.3 L1052.0,1752.4 L1053.7,1763.4 L1055.4,1773.3 L1057.2,1781.7 L1058.9,1788.8 L1060.6,1795.6 L1062.3,1802.2 L1064.0,1808.5 L1065.7,1814.4 L1067.4,1820.0 L1069.1,1825.1 L1070.8,1829.6 L1072.5,1833.5 L1074.2,1836.8 L1075.9,1839.2 L1077.6,1840.9 L1077.6,1896.7 L772.6,1896.7Z" fill="#9590FF" fill-opacity="0.10"/><path d="M772.6,1885.5 L774.3,1884.7 L776.0,1882.8 L777.7,1879.9 L779.4,1876.1 L781.1,1871.6 L782.8,1866.4 L784.5,1860.6 L786.2,1854.3 L787.9,1847.7 L789.6,1840.7 L791.3,1833.6 L793.0,1826.2 L794.7,1817.2 L796.4,1806.3 L798.1,1794.0 L799.8,1780.4 L801.5,1765.8 L803.2,1750.4 L804.9,1734.6 L806.6,1718.6 L808.3,1702.6 L810.1,1686.9 L811.8,1671.5 L813.5,1654.7 L815.2,1636.7 L816.9,1617.6 L818.6,1597.7 L820.3,1577.5 L822.0,1557.1 L823.7,1537.0 L825.4,1517.3 L827.1,1498.4 L828.8,1480.6 L830.5,1464.3 L832.2,1449.6 L833.9,1436.9 L835.6,1426.6 L837.3,1418.6 L839.0,1411.0 L840.7,1403.7 L842.4,1396.5 L844.1,1389.5 L845.8,1382.8 L847.5,1376.4 L849.2,1370.4 L851.0,1364.8 L852.7,1359.6 L854.4,1354.8 L856.1,1350.6 L857.8,1347.0 L859.5,1343.9 L861.2,1341.5 L862.9,1339.7 L864.6,1338.7 L866.3,1338.4 L868.0,1339.2 L869.7,1341.0 L871.4,1343.8 L873.1,1347.5 L874.8,1351.9 L876.5,1357.0 L878.2,1362.5 L879.9,1368.5 L881.6,1374.8 L883.3,1381.2 L885.0,1387.7 L886.7,1394.1 L888.4,1400.4 L890.1,1406.4 L891.8,1411.9 L893.6,1417.0 L895.3,1421.4 L897.0,1425.5 L898.7,1429.6 L900.4,1434.0 L902.1,1438.4 L903.8,1442.8 L905.5,1447.3 L907.2,1451.7 L908.9,1456.1 L910.6,1460.4 L912.3,1464.5 L914.0,1468.4 L915.7,1472.1 L917.4,1475.6 L919.1,1478.8 L920.8,1481.6 L922.5,1484.0 L924.2,1486.0 L925.9,1487.5 L927.6,1488.6 L929.3,1489.1 L931.0,1489.0 L932.7,1488.5 L934.5,1487.6 L936.2,1486.2 L937.9,1484.5 L939.6,1482.5 L941.3,1480.2 L943.0,1477.7 L944.7,1475.0 L946.4,1472.2 L948.1,1469.3 L949.8,1466.3 L951.5,1463.3 L953.2,1460.3 L954.9,1457.3 L956.6,1454.5 L958.3,1451.8 L960.0,1449.3 L961.7,1446.6 L963.4,1443.6 L965.1,1440.4 L966.8,1437.0 L968.5,1433.4 L970.2,1429.9 L971.9,1426.3 L973.6,1422.9 L975.4,1419.6 L977.1,1416.4 L978.8,1413.6 L980.5,1411.1 L982.2,1408.9 L983.9,1407.2 L985.6,1406.1 L987.3,1405.5 L989.0,1405.7 L990.7,1407.7 L992.4,1411.5 L994.1,1417.0 L995.8,1423.8 L997.5,1431.8 L999.2,1440.9 L1000.9,1450.8 L1002.6,1461.4 L1004.3,1472.5 L1006.0,1483.9 L1007.7,1495.4 L1009.4,1506.9 L1011.1,1518.1 L1012.8,1528.9 L1014.5,1539.4 L1016.3,1550.8 L1018.0,1563.2 L1019.7,1576.5 L1021.4,1590.4 L1023.1,1604.7 L1024.8,1619.5 L1026.5,1634.4 L1028.2,1649.4 L1029.9,1664.2 L1031.6,1678.7 L1033.3,1692.8 L1035.0,1706.2 L1036.7,1718.9 L1038.4,1730.7 L1040.1,1741.3 L1041.8,1750.7 L1043.5,1758.7 L1045.2,1766.2 L1046.9,1773.6 L1048.6,1780.9 L1050.3,1788.1 L1052.0,1795.2 L1053.7,1802.0 L1055.4,1808.6 L1057.2,1815.0 L1058.9,1821.1 L1060.6,1826.9 L1062.3,1832.5 L1064.0,1837.6 L1065.7,1842.4 L1067.4,1846.8 L1069.1,1850.7 L1070.8,1854.3 L1072.5,1857.3 L1074.2,1859.8 L1075.9,1861.8 L1077.6,1863.2 L1077.6,1896.7 L772.6,1896.7Z" fill="#E76BF3" fill-opacity="0.10"/><path d="M772.6,1757.1 L774.3,1739.9 L776.0,1722.9 L777.7,1706.2 L779.4,1689.7 L781.1,1673.5 L782.8,1657.6 L784.5,1641.9 L786.2,1626.5 L787.9,1611.4 L789.6,1596.5 L791.3,1581.9 L793.0,1567.5 L794.7,1553.5 L796.4,1539.7 L798.1,1526.1 L799.8,1512.2 L801.5,1498.2 L803.2,1484.2 L804.9,1470.4 L806.6,1456.9 L808.3,1444.0 L810.1,1431.9 L811.8,1420.6 L813.5,1410.5 L815.2,1401.6 L816.9,1394.1 L818.6,1387.4 L820.3,1380.7 L822.0,1374.2 L823.7,1367.9 L825.4,1361.9 L827.1,1356.4 L828.8,1351.4 L830.5,1347.1 L832.2,1343.6 L833.9,1340.9 L835.6,1339.1 L837.3,1338.4 L839.0,1338.8 L840.7,1340.1 L842.4,1342.2 L844.1,1345.1 L845.8,1348.7 L847.5,1352.8 L849.2,1357.3 L851.0,1362.2 L852.7,1367.4 L854.4,1372.8 L856.1,1378.3 L857.8,1383.8 L859.5,1389.2 L861.2,1394.4 L862.9,1399.9 L864.6,1406.0 L866.3,1412.6 L868.0,1419.7 L869.7,1427.1 L871.4,1434.8 L873.1,1442.5 L874.8,1450.4 L876.5,1458.1 L878.2,1465.7 L879.9,1473.1 L881.6,1480.0 L883.3,1486.6 L885.0,1492.5 L886.7,1498.0 L888.4,1503.7 L890.1,1509.6 L891.8,1515.5 L893.6,1521.4 L895.3,1527.1 L897.0,1532.4 L898.7,1537.3 L900.4,1541.6 L902.1,1545.2 L903.8,1548.0 L905.5,1549.8 L907.2,1550.5 L908.9,1550.3 L910.6,1549.4 L912.3,1548.0 L914.0,1546.1 L915.7,1543.7 L917.4,1541.0 L919.1,1537.9 L920.8,1534.6 L922.5,1531.1 L924.2,1527.5 L925.9,1523.9 L927.6,1520.2 L929.3,1516.6 L931.0,1513.1 L932.7,1509.8 L934.5,1506.7 L936.2,1503.7 L937.9,1500.5 L939.6,1497.1 L941.3,1493.5 L943.0,1489.7 L944.7,1485.8 L946.4,1481.9 L948.1,1478.0 L949.8,1474.2 L951.5,1470.5 L953.2,1466.9 L954.9,1463.6 L956.6,1460.5 L958.3,1457.7 L960.0,1455.2 L961.7,1453.2 L963.4,1451.6 L965.1,1450.6 L966.8,1450.1 L968.5,1450.4 L970.2,1452.3 L971.9,1455.6 L973.6,1460.3 L975.4,1466.0 L977.1,1472.8 L978.8,1480.4 L980.5,1488.7 L982.2,1497.6 L983.9,1506.9 L985.6,1516.4 L987.3,1526.0 L989.0,1535.5 L990.7,1544.9 L992.4,1553.9 L994.1,1562.4 L995.8,1571.0 L997.5,1580.2 L999.2,1589.8 L1000.9,1599.7 L1002.6,1610.0 L1004.3,1620.4 L1006.0,1630.9 L1007.7,1641.4 L1009.4,1651.7 L1011.1,1661.9 L1012.8,1671.7 L1014.5,1681.2 L1016.3,1690.1 L1018.0,1698.5 L1019.7,1706.3 L1021.4,1714.0 L1023.1,1721.6 L1024.8,1729.1 L1026.5,1736.5 L1028.2,1743.8 L1029.9,1750.9 L1031.6,1757.8 L1033.3,1764.6 L1035.0,1771.1 L1036.7,1777.4 L1038.4,1783.5 L1040.1,1789.4 L1041.8,1795.0 L1043.5,1800.3 L1045.2,1805.3 L1046.9,1810.0 L1048.6,1814.3 L1050.3,1818.6 L1052.0,1822.7 L1053.7,1826.8 L1055.4,1830.8 L1057.2,1834.7 L1058.9,1838.4 L1060.6,1842.1 L1062.3,1845.5 L1064.0,1848.9 L1065.7,1852.0 L1067.4,1855.0 L1069.1,1857.9 L1070.8,1860.5 L1072.5,1862.9 L1074.2,1865.1 L1075.9,1867.1 L1077.6,1868.8 L1077.6,1896.7 L772.6,1896.7Z" fill="#FF62BC" fill-opacity="0.10"/><path d="M772.6,1840.9 L774.3,1835.1 L776.0,1828.9 L777.7,1822.5 L779.4,1815.7 L781.1,1808.6 L782.8,1801.2 L784.5,1793.6 L786.2,1785.7 L787.9,1777.6 L789.6,1769.2 L791.3,1760.5 L793.0,1751.7 L794.7,1742.6 L796.4,1733.3 L798.1,1723.9 L799.8,1714.3 L801.5,1704.5 L803.2,1694.3 L804.9,1683.1 L806.6,1670.8 L808.3,1657.8 L810.1,1644.1 L811.8,1629.9 L813.5,1615.4 L815.2,1600.6 L816.9,1585.8 L818.6,1571.1 L820.3,1556.6 L822.0,1542.5 L823.7,1529.0 L825.4,1516.2 L827.1,1504.3 L828.8,1493.3 L830.5,1483.6 L832.2,1475.0 L833.9,1466.7 L835.6,1458.4 L837.3,1450.0 L839.0,1441.6 L840.7,1433.3 L842.4,1425.1 L844.1,1417.1 L845.8,1409.2 L847.5,1401.6 L849.2,1394.2 L851.0,1387.1 L852.7,1380.3 L854.4,1373.9 L856.1,1367.9 L857.8,1362.4 L859.5,1357.3 L861.2,1352.7 L862.9,1348.7 L864.6,1345.3 L866.3,1342.6 L868.0,1340.5 L869.7,1339.1 L871.4,1338.4 L873.1,1338.7 L874.8,1340.2 L876.5,1342.9 L878.2,1346.7 L879.9,1351.4 L881.6,1357.1 L883.3,1363.5 L885.0,1370.6 L886.7,1378.3 L888.4,1386.5 L890.1,1395.1 L891.8,1404.0 L893.6,1413.1 L895.3,1422.3 L897.0,1431.5 L898.7,1440.6 L900.4,1449.5 L902.1,1459.0 L903.8,1469.9 L905.5,1482.0 L907.2,1495.0 L908.9,1508.5 L910.6,1522.3 L912.3,1536.0 L914.0,1549.4 L915.7,1562.0 L917.4,1573.7 L919.1,1584.1 L920.8,1593.0 L922.5,1601.7 L924.2,1610.6 L925.9,1619.6 L927.6,1628.5 L929.3,1637.3 L931.0,1645.8 L932.7,1654.1 L934.5,1662.0 L936.2,1669.4 L937.9,1676.2 L939.6,1682.4 L941.3,1687.9 L943.0,1692.6 L944.7,1696.3 L946.4,1699.1 L948.1,1700.8 L949.8,1701.3 L951.5,1701.0 L953.2,1700.1 L954.9,1698.8 L956.6,1697.0 L958.3,1694.9 L960.0,1692.4 L961.7,1689.6 L963.4,1686.6 L965.1,1683.5 L966.8,1680.2 L968.5,1676.8 L970.2,1673.3 L971.9,1669.9 L973.6,1666.5 L975.4,1663.3 L977.1,1660.2 L978.8,1657.3 L980.5,1654.5 L982.2,1651.4 L983.9,1648.0 L985.6,1644.5 L987.3,1640.8 L989.0,1637.1 L990.7,1633.4 L992.4,1629.8 L994.1,1626.5 L995.8,1623.4 L997.5,1620.7 L999.2,1618.4 L1000.9,1616.6 L1002.6,1615.3 L1004.3,1614.8 L1006.0,1615.0 L1007.7,1615.9 L1009.4,1617.5 L1011.1,1619.6 L1012.8,1622.4 L1014.5,1625.6 L1016.3,1629.3 L1018.0,1633.3 L1019.7,1637.6 L1021.4,1642.2 L1023.1,1646.9 L1024.8,1651.8 L1026.5,1656.7 L1028.2,1661.6 L1029.9,1666.9 L1031.6,1673.3 L1033.3,1680.7 L1035.0,1688.8 L1036.7,1697.6 L1038.4,1706.9 L1040.1,1716.6 L1041.8,1726.4 L1043.5,1736.3 L1045.2,1746.0 L1046.9,1755.6 L1048.6,1764.6 L1050.3,1773.2 L1052.0,1781.0 L1053.7,1788.0 L1055.4,1794.8 L1057.2,1801.5 L1058.9,1808.0 L1060.6,1814.4 L1062.3,1820.6 L1064.0,1826.7 L1065.7,1832.6 L1067.4,1838.3 L1069.1,1843.9 L1070.8,1849.3 L1072.5,1854.5 L1074.2,1859.5 L1075.9,1864.2 L1077.6,1868.8" fill="none" stroke="#F8766D" stroke-width="2.0" stroke-opacity="0.7"/><path d="M772.6,1852.0 L774.3,1846.1 L776.0,1839.8 L777.7,1833.2 L779.4,1826.4 L781.1,1819.3 L782.8,1811.9 L784.5,1804.2 L786.2,1796.3 L787.9,1788.2 L789.6,1779.8 L791.3,1771.2 L793.0,1762.4 L794.7,1753.4 L796.4,1744.2 L798.1,1734.9 L799.8,1725.3 L801.5,1715.6 L803.2,1705.6 L804.9,1694.7 L806.6,1682.9 L808.3,1670.5 L810.1,1657.5 L811.8,1644.1 L813.5,1630.3 L815.2,1616.4 L816.9,1602.3 L818.6,1588.3 L820.3,1574.4 L822.0,1560.8 L823.7,1547.6 L825.4,1534.9 L827.1,1522.8 L828.8,1511.4 L830.5,1501.0 L832.2,1491.4 L833.9,1481.8 L835.6,1472.0 L837.3,1462.1 L839.0,1452.1 L840.7,1442.1 L842.4,1432.2 L844.1,1422.4 L845.8,1412.8 L847.5,1403.5 L849.2,1394.5 L851.0,1385.9 L852.7,1377.8 L854.4,1370.3 L856.1,1363.4 L857.8,1357.2 L859.5,1351.8 L861.2,1347.1 L862.9,1343.4 L864.6,1340.7 L866.3,1339.0 L868.0,1338.4 L869.7,1339.0 L871.4,1340.8 L873.1,1343.7 L874.8,1347.6 L876.5,1352.4 L878.2,1357.9 L879.9,1364.1 L881.6,1370.8 L883.3,1378.0 L885.0,1385.6 L886.7,1393.4 L888.4,1401.3 L890.1,1409.2 L891.8,1417.0 L893.6,1424.7 L895.3,1432.0 L897.0,1439.4 L898.7,1447.3 L900.4,1455.8 L902.1,1464.8 L903.8,1474.1 L905.5,1483.6 L907.2,1493.3 L908.9,1503.0 L910.6,1512.7 L912.3,1522.3 L914.0,1531.6 L915.7,1540.5 L917.4,1549.1 L919.1,1557.1 L920.8,1564.6 L922.5,1572.0 L924.2,1579.6 L925.9,1587.1 L927.6,1594.5 L929.3,1601.6 L931.0,1608.4 L932.7,1614.8 L934.5,1620.6 L936.2,1625.8 L937.9,1630.2 L939.6,1633.8 L941.3,1636.8 L943.0,1639.7 L944.7,1642.5 L946.4,1645.1 L948.1,1647.6 L949.8,1649.9 L951.5,1651.9 L953.2,1653.6 L954.9,1655.0 L956.6,1655.9 L958.3,1656.5 L960.0,1656.6 L961.7,1656.6 L963.4,1656.4 L965.1,1656.2 L966.8,1655.9 L968.5,1655.6 L970.2,1655.3 L971.9,1654.9 L973.6,1654.5 L975.4,1654.1 L977.1,1653.6 L978.8,1653.2 L980.5,1652.8 L982.2,1652.4 L983.9,1652.1 L985.6,1651.7 L987.3,1651.5 L989.0,1651.3 L990.7,1651.1 L992.4,1651.1 L994.1,1651.3 L995.8,1652.4 L997.5,1654.3 L999.2,1657.0 L1000.9,1660.4 L1002.6,1664.3 L1004.3,1668.7 L1006.0,1673.5 L1007.7,1678.7 L1009.4,1684.0 L1011.1,1689.5 L1012.8,1695.0 L1014.5,1700.4 L1016.3,1705.7 L1018.0,1710.7 L1019.7,1715.6 L1021.4,1720.8 L1023.1,1726.3 L1024.8,1732.1 L1026.5,1738.1 L1028.2,1744.3 L1029.9,1750.6 L1031.6,1757.0 L1033.3,1763.4 L1035.0,1769.8 L1036.7,1776.1 L1038.4,1782.3 L1040.1,1788.4 L1041.8,1794.2 L1043.5,1799.7 L1045.2,1805.0 L1046.9,1809.9 L1048.6,1814.4 L1050.3,1818.7 L1052.0,1823.0 L1053.7,1827.2 L1055.4,1831.3 L1057.2,1835.3 L1058.9,1839.2 L1060.6,1843.0 L1062.3,1846.7 L1064.0,1850.3 L1065.7,1853.8 L1067.4,1857.2 L1069.1,1860.4 L1070.8,1863.5 L1072.5,1866.4 L1074.2,1869.2 L1075.9,1871.9 L1077.6,1874.4" fill="none" stroke="#D89000" stroke-width="2.0" stroke-opacity="0.7"/><path d="M772.6,1773.9 L774.3,1765.9 L776.0,1757.8 L777.7,1749.5 L779.4,1741.2 L781.1,1732.6 L782.8,1724.0 L784.5,1715.2 L786.2,1706.3 L787.9,1697.3 L789.6,1688.1 L791.3,1678.8 L793.0,1669.4 L794.7,1659.9 L796.4,1650.3 L798.1,1640.6 L799.8,1630.7 L801.5,1620.8 L803.2,1610.5 L804.9,1599.5 L806.6,1587.7 L808.3,1575.3 L810.1,1562.5 L811.8,1549.3 L813.5,1536.0 L815.2,1522.7 L816.9,1509.5 L818.6,1496.6 L820.3,1484.1 L822.0,1472.2 L823.7,1461.0 L825.4,1450.6 L827.1,1441.2 L828.8,1432.9 L830.5,1425.9 L832.2,1420.2 L833.9,1414.9 L835.6,1409.7 L837.3,1404.5 L839.0,1399.4 L840.7,1394.5 L842.4,1389.6 L844.1,1384.9 L845.8,1380.3 L847.5,1375.9 L849.2,1371.7 L851.0,1367.7 L852.7,1363.8 L854.4,1360.2 L856.1,1356.8 L857.8,1353.7 L859.5,1350.8 L861.2,1348.2 L862.9,1345.8 L864.6,1343.8 L866.3,1342.0 L868.0,1340.6 L869.7,1339.5 L871.4,1338.8 L873.1,1338.4 L874.8,1338.7 L876.5,1340.6 L878.2,1344.2 L879.9,1349.4 L881.6,1355.9 L883.3,1363.5 L885.0,1372.1 L886.7,1381.4 L888.4,1391.3 L890.1,1401.6 L891.8,1412.0 L893.6,1422.5 L895.3,1432.8 L897.0,1442.7 L898.7,1452.1 L900.4,1460.7 L902.1,1469.2 L903.8,1478.7 L905.5,1488.8 L907.2,1499.4 L908.9,1510.3 L910.6,1521.5 L912.3,1532.6 L914.0,1543.6 L915.7,1554.3 L917.4,1564.4 L919.1,1573.8 L920.8,1582.4 L922.5,1589.9 L924.2,1596.2 L925.9,1601.2 L927.6,1604.6 L929.3,1606.2 L931.0,1606.2 L932.7,1605.4 L934.5,1603.9 L936.2,1601.8 L937.9,1599.2 L939.6,1596.0 L941.3,1592.4 L943.0,1588.4 L944.7,1584.1 L946.4,1579.5 L948.1,1574.7 L949.8,1569.7 L951.5,1564.6 L953.2,1559.4 L954.9,1554.3 L956.6,1549.2 L958.3,1544.2 L960.0,1539.4 L961.7,1534.9 L963.4,1530.6 L965.1,1526.6 L966.8,1522.4 L968.5,1517.9 L970.2,1513.2 L971.9,1508.2 L973.6,1503.1 L975.4,1497.9 L977.1,1492.7 L978.8,1487.5 L980.5,1482.4 L982.2,1477.3 L983.9,1472.5 L985.6,1467.8 L987.3,1463.5 L989.0,1459.4 L990.7,1455.7 L992.4,1452.5 L994.1,1449.7 L995.8,1447.5 L997.5,1445.8 L999.2,1444.8 L1000.9,1444.5 L1002.6,1444.9 L1004.3,1445.9 L1006.0,1447.6 L1007.7,1449.9 L1009.4,1452.7 L1011.1,1456.0 L1012.8,1459.7 L1014.5,1463.9 L1016.3,1468.3 L1018.0,1473.1 L1019.7,1478.1 L1021.4,1483.3 L1023.1,1488.7 L1024.8,1494.1 L1026.5,1499.7 L1028.2,1505.2 L1029.9,1511.1 L1031.6,1518.1 L1033.3,1526.0 L1035.0,1534.7 L1036.7,1544.1 L1038.4,1554.0 L1040.1,1564.5 L1041.8,1575.2 L1043.5,1586.2 L1045.2,1597.2 L1046.9,1608.2 L1048.6,1619.1 L1050.3,1629.7 L1052.0,1639.9 L1053.7,1649.7 L1055.4,1659.3 L1057.2,1669.0 L1058.9,1678.7 L1060.6,1688.4 L1062.3,1698.0 L1064.0,1707.7 L1065.7,1717.4 L1067.4,1727.0 L1069.1,1736.7 L1070.8,1746.4 L1072.5,1756.0 L1074.2,1765.7 L1075.9,1775.4 L1077.6,1785.0" fill="none" stroke="#A3A500" stroke-width="2.0" stroke-opacity="0.7"/><path d="M772.6,1868.8 L774.3,1860.9 L776.0,1853.2 L777.7,1845.9 L779.4,1839.0 L781.1,1832.5 L782.8,1826.5 L784.5,1820.9 L786.2,1815.9 L787.9,1811.5 L789.6,1807.0 L791.3,1802.6 L793.0,1798.3 L794.7,1794.3 L796.4,1790.8 L798.1,1788.0 L799.8,1786.1 L801.5,1785.1 L803.2,1785.3 L804.9,1786.5 L806.6,1788.4 L808.3,1790.8 L810.1,1793.4 L811.8,1796.0 L813.5,1798.8 L815.2,1802.4 L816.9,1806.6 L818.6,1810.9 L820.3,1815.1 L822.0,1818.9 L823.7,1821.8 L825.4,1823.7 L827.1,1824.1 L828.8,1822.5 L830.5,1819.1 L832.2,1813.9 L833.9,1807.2 L835.6,1799.1 L837.3,1789.9 L839.0,1779.7 L840.7,1768.8 L842.4,1757.2 L844.1,1745.2 L845.8,1733.0 L847.5,1719.4 L849.2,1701.3 L851.0,1679.3 L852.7,1654.2 L854.4,1626.8 L856.1,1598.2 L857.8,1569.1 L859.5,1540.4 L861.2,1513.1 L862.9,1487.9 L864.6,1465.9 L866.3,1447.6 L868.0,1430.4 L869.7,1412.8 L871.4,1395.4 L873.1,1379.1 L874.8,1364.6 L876.5,1352.6 L878.2,1343.8 L879.9,1339.1 L881.6,1339.0 L883.3,1343.6 L885.0,1352.3 L886.7,1364.2 L888.4,1378.6 L890.1,1394.9 L891.8,1412.2 L893.6,1429.9 L895.3,1447.1 L897.0,1465.2 L898.7,1487.2 L900.4,1512.3 L902.1,1539.5 L903.8,1568.2 L905.5,1597.3 L907.2,1625.9 L908.9,1653.3 L910.6,1678.5 L912.3,1700.7 L914.0,1718.9 L915.7,1732.6 L917.4,1744.8 L919.1,1756.8 L920.8,1768.4 L922.5,1779.4 L924.2,1789.6 L925.9,1798.9 L927.6,1807.0 L929.3,1813.7 L931.0,1818.9 L932.7,1822.4 L934.5,1824.0 L936.2,1823.8 L937.9,1822.6 L939.6,1820.6 L941.3,1818.2 L943.0,1815.6 L944.7,1813.1 L946.4,1810.2 L948.1,1806.6 L949.8,1802.4 L951.5,1798.0 L953.2,1793.9 L954.9,1790.1 L956.6,1787.2 L958.3,1785.4 L960.0,1785.1 L961.7,1786.0 L963.4,1787.9 L965.1,1790.7 L966.8,1794.2 L968.5,1798.2 L970.2,1802.5 L971.9,1806.9 L973.6,1811.3 L975.4,1816.0 L977.1,1821.9 L978.8,1828.8 L980.5,1836.4 L982.2,1844.1 L983.9,1851.6 L985.6,1858.5 L987.3,1864.3 L989.0,1868.7 L990.7,1872.1 L992.4,1875.4 L994.1,1878.7 L995.8,1881.7 L997.5,1884.6 L999.2,1887.2 L1000.9,1889.5 L1002.6,1891.5 L1004.3,1893.1 L1006.0,1894.2 L1007.7,1894.9 L1009.4,1895.1 L1011.1,1895.2 L1012.8,1895.3 L1014.5,1895.3 L1016.3,1895.4 L1018.0,1895.5 L1019.7,1895.6 L1021.4,1895.7 L1023.1,1895.7 L1024.8,1895.8 L1026.5,1895.9 L1028.2,1895.9 L1029.9,1896.0 L1031.6,1896.0 L1033.3,1896.1 L1035.0,1896.2 L1036.7,1896.2 L1038.4,1896.2 L1040.1,1896.3 L1041.8,1896.3 L1043.5,1896.4 L1045.2,1896.4 L1046.9,1896.4 L1048.6,1896.5 L1050.3,1896.5 L1052.0,1896.5 L1053.7,1896.6 L1055.4,1896.6 L1057.2,1896.6 L1058.9,1896.6 L1060.6,1896.6 L1062.3,1896.6 L1064.0,1896.7 L1065.7,1896.7 L1067.4,1896.7 L1069.1,1896.7 L1070.8,1896.7 L1072.5,1896.7 L1074.2,1896.7 L1075.9,1896.7 L1077.6,1896.7" fill="none" stroke="#39B600" stroke-width="2.0" stroke-opacity="0.7"/><path d="M772.6,1773.9 L774.3,1761.3 L776.0,1748.8 L777.7,1736.3 L779.4,1723.8 L781.1,1711.4 L782.8,1699.0 L784.5,1686.7 L786.2,1674.4 L787.9,1662.2 L789.6,1649.9 L791.3,1637.8 L793.0,1625.6 L794.7,1613.5 L796.4,1601.5 L798.1,1589.5 L799.8,1577.5 L801.5,1565.6 L803.2,1553.5 L804.9,1540.8 L806.6,1527.6 L808.3,1514.1 L810.1,1500.4 L811.8,1486.8 L813.5,1473.3 L815.2,1460.2 L816.9,1447.7 L818.6,1435.8 L820.3,1424.8 L822.0,1414.9 L823.7,1406.1 L825.4,1398.8 L827.1,1392.9 L828.8,1387.6 L830.5,1382.4 L832.2,1377.3 L833.9,1372.3 L835.6,1367.6 L837.3,1363.0 L839.0,1358.8 L840.7,1354.8 L842.4,1351.2 L844.1,1348.0 L845.8,1345.2 L847.5,1342.8 L849.2,1340.9 L851.0,1339.5 L852.7,1338.7 L854.4,1338.4 L856.1,1339.1 L857.8,1340.9 L859.5,1343.8 L861.2,1347.5 L862.9,1352.1 L864.6,1357.4 L866.3,1363.2 L868.0,1369.6 L869.7,1376.3 L871.4,1383.3 L873.1,1390.5 L874.8,1397.7 L876.5,1404.9 L878.2,1412.0 L879.9,1418.8 L881.6,1425.3 L883.3,1432.3 L885.0,1439.9 L886.7,1447.9 L888.4,1456.2 L890.1,1464.8 L891.8,1473.7 L893.6,1482.7 L895.3,1491.7 L897.0,1500.7 L898.7,1509.6 L900.4,1518.4 L902.1,1526.9 L903.8,1535.0 L905.5,1542.7 L907.2,1550.0 L908.9,1556.6 L910.6,1562.7 L912.3,1568.6 L914.0,1574.6 L915.7,1580.8 L917.4,1587.0 L919.1,1593.1 L920.8,1599.1 L922.5,1605.0 L924.2,1610.6 L925.9,1615.9 L927.6,1620.9 L929.3,1625.4 L931.0,1629.4 L932.7,1632.9 L934.5,1635.8 L936.2,1637.9 L937.9,1639.3 L939.6,1639.9 L941.3,1639.6 L943.0,1638.7 L944.7,1637.1 L946.4,1635.0 L948.1,1632.3 L949.8,1629.3 L951.5,1625.8 L953.2,1622.1 L954.9,1618.1 L956.6,1614.0 L958.3,1609.7 L960.0,1605.4 L961.7,1601.1 L963.4,1597.0 L965.1,1592.9 L966.8,1589.1 L968.5,1585.6 L970.2,1582.4 L971.9,1578.9 L973.6,1575.2 L975.4,1571.2 L977.1,1567.2 L978.8,1563.0 L980.5,1558.9 L982.2,1554.8 L983.9,1550.7 L985.6,1546.9 L987.3,1543.2 L989.0,1539.8 L990.7,1536.7 L992.4,1534.1 L994.1,1531.8 L995.8,1530.1 L997.5,1528.9 L999.2,1528.3 L1000.9,1528.4 L1002.6,1529.6 L1004.3,1531.8 L1006.0,1534.9 L1007.7,1538.8 L1009.4,1543.4 L1011.1,1548.6 L1012.8,1554.4 L1014.5,1560.6 L1016.3,1567.3 L1018.0,1574.2 L1019.7,1581.3 L1021.4,1588.5 L1023.1,1595.7 L1024.8,1602.9 L1026.5,1609.9 L1028.2,1616.7 L1029.9,1623.6 L1031.6,1631.1 L1033.3,1639.2 L1035.0,1647.7 L1036.7,1656.7 L1038.4,1665.8 L1040.1,1675.2 L1041.8,1684.5 L1043.5,1693.9 L1045.2,1703.1 L1046.9,1712.0 L1048.6,1720.6 L1050.3,1728.8 L1052.0,1736.4 L1053.7,1743.4 L1055.4,1750.2 L1057.2,1756.8 L1058.9,1763.3 L1060.6,1769.7 L1062.3,1776.0 L1064.0,1782.0 L1065.7,1787.9 L1067.4,1793.7 L1069.1,1799.2 L1070.8,1804.6 L1072.5,1809.8 L1074.2,1814.8 L1075.9,1819.6 L1077.6,1824.1" fill="none" stroke="#00BF7D" stroke-width="2.0" stroke-opacity="0.7"/><path d="M772.6,1813.0 L774.3,1802.1 L776.0,1791.2 L777.7,1780.3 L779.4,1769.3 L781.1,1758.3 L782.8,1747.1 L784.5,1736.0 L786.2,1724.8 L787.9,1713.5 L789.6,1702.1 L791.3,1690.8 L793.0,1679.3 L794.7,1667.8 L796.4,1656.3 L798.1,1644.7 L799.8,1633.0 L801.5,1621.3 L803.2,1609.4 L804.9,1596.8 L806.6,1583.5 L808.3,1569.8 L810.1,1555.8 L811.8,1541.5 L813.5,1527.2 L815.2,1512.9 L816.9,1498.8 L818.6,1485.1 L820.3,1471.8 L822.0,1459.2 L823.7,1447.2 L825.4,1436.2 L827.1,1426.1 L828.8,1417.2 L830.5,1409.6 L832.2,1403.3 L833.9,1397.3 L835.6,1391.3 L837.3,1385.5 L839.0,1379.8 L840.7,1374.3 L842.4,1369.1 L844.1,1364.1 L845.8,1359.4 L847.5,1355.1 L849.2,1351.2 L851.0,1347.7 L852.7,1344.7 L854.4,1342.2 L856.1,1340.3 L857.8,1339.1 L859.5,1338.5 L861.2,1338.7 L862.9,1340.3 L864.6,1343.1 L866.3,1347.1 L868.0,1352.0 L869.7,1357.7 L871.4,1364.1 L873.1,1370.9 L874.8,1378.1 L876.5,1385.5 L878.2,1392.9 L879.9,1400.2 L881.6,1407.3 L883.3,1413.9 L885.0,1419.9 L886.7,1425.5 L888.4,1431.4 L890.1,1437.8 L891.8,1444.4 L893.6,1451.3 L895.3,1458.2 L897.0,1465.0 L898.7,1471.7 L900.4,1478.1 L902.1,1484.2 L903.8,1489.7 L905.5,1494.6 L907.2,1498.7 L908.9,1502.1 L910.6,1504.4 L912.3,1505.7 L914.0,1505.8 L915.7,1505.0 L917.4,1503.3 L919.1,1501.0 L920.8,1498.0 L922.5,1494.5 L924.2,1490.5 L925.9,1486.3 L927.6,1481.7 L929.3,1477.0 L931.0,1472.2 L932.7,1467.5 L934.5,1462.9 L936.2,1458.4 L937.9,1454.3 L939.6,1450.6 L941.3,1447.1 L943.0,1443.5 L944.7,1439.6 L946.4,1435.7 L948.1,1431.6 L949.8,1427.4 L951.5,1423.2 L953.2,1418.9 L954.9,1414.6 L956.6,1410.3 L958.3,1406.1 L960.0,1401.8 L961.7,1397.7 L963.4,1393.7 L965.1,1389.7 L966.8,1386.0 L968.5,1382.4 L970.2,1379.0 L971.9,1375.8 L973.6,1372.8 L975.4,1370.1 L977.1,1367.7 L978.8,1365.6 L980.5,1363.9 L982.2,1362.5 L983.9,1361.5 L985.6,1360.9 L987.3,1360.7 L989.0,1361.4 L990.7,1363.2 L992.4,1365.9 L994.1,1369.5 L995.8,1374.0 L997.5,1379.2 L999.2,1385.2 L1000.9,1391.7 L1002.6,1398.8 L1004.3,1406.3 L1006.0,1414.3 L1007.7,1422.6 L1009.4,1431.1 L1011.1,1439.8 L1012.8,1448.6 L1014.5,1457.4 L1016.3,1466.2 L1018.0,1474.9 L1019.7,1483.8 L1021.4,1493.7 L1023.1,1504.8 L1024.8,1516.9 L1026.5,1529.7 L1028.2,1543.3 L1029.9,1557.3 L1031.6,1571.7 L1033.3,1586.4 L1035.0,1601.1 L1036.7,1615.8 L1038.4,1630.3 L1040.1,1644.4 L1041.8,1658.0 L1043.5,1670.9 L1045.2,1683.1 L1046.9,1694.3 L1048.6,1704.5 L1050.3,1714.3 L1052.0,1723.9 L1053.7,1733.3 L1055.4,1742.6 L1057.2,1751.7 L1058.9,1760.5 L1060.6,1769.2 L1062.3,1777.6 L1064.0,1785.7 L1065.7,1793.6 L1067.4,1801.2 L1069.1,1808.6 L1070.8,1815.7 L1072.5,1822.5 L1074.2,1828.9 L1075.9,1835.1 L1077.6,1840.9" fill="none" stroke="#00BFC4" stroke-width="2.0" stroke-opacity="0.7"/><path d="M772.6,1824.1 L774.3,1813.8 L776.0,1803.3 L777.7,1792.8 L779.4,1782.2 L781.1,1771.6 L782.8,1760.9 L784.5,1750.0 L786.2,1739.2 L787.9,1728.2 L789.6,1717.2 L791.3,1706.1 L793.0,1694.9 L794.7,1683.7 L796.4,1672.4 L798.1,1661.0 L799.8,1649.5 L801.5,1638.0 L803.2,1626.3 L804.9,1613.8 L806.6,1600.8 L808.3,1587.3 L810.1,1573.4 L811.8,1559.3 L813.5,1545.2 L815.2,1531.0 L816.9,1517.1 L818.6,1503.4 L820.3,1490.1 L822.0,1477.4 L823.7,1465.4 L825.4,1454.2 L827.1,1443.9 L828.8,1434.7 L830.5,1426.6 L832.2,1419.8 L833.9,1413.3 L835.6,1406.8 L837.3,1400.4 L839.0,1394.1 L840.7,1388.0 L842.4,1382.0 L844.1,1376.3 L845.8,1370.8 L847.5,1365.6 L849.2,1360.8 L851.0,1356.3 L852.7,1352.2 L854.4,1348.6 L856.1,1345.5 L857.8,1342.9 L859.5,1340.8 L861.2,1339.4 L862.9,1338.6 L864.6,1338.5 L866.3,1340.0 L868.0,1343.3 L869.7,1348.1 L871.4,1354.3 L873.1,1361.7 L874.8,1370.1 L876.5,1379.3 L878.2,1389.1 L879.9,1399.3 L881.6,1409.8 L883.3,1420.3 L885.0,1430.6 L886.7,1440.6 L888.4,1450.1 L890.1,1458.8 L891.8,1467.2 L893.6,1476.2 L895.3,1485.8 L897.0,1496.0 L898.7,1506.6 L900.4,1517.5 L902.1,1528.5 L903.8,1539.6 L905.5,1550.5 L907.2,1561.2 L908.9,1571.6 L910.6,1581.5 L912.3,1590.8 L914.0,1599.3 L915.7,1607.0 L917.4,1613.8 L919.1,1619.4 L920.8,1623.8 L922.5,1626.9 L924.2,1628.5 L925.9,1628.6 L927.6,1627.9 L929.3,1626.6 L931.0,1624.6 L932.7,1622.2 L934.5,1619.2 L936.2,1615.9 L937.9,1612.3 L939.6,1608.4 L941.3,1604.3 L943.0,1600.1 L944.7,1595.8 L946.4,1591.6 L948.1,1587.3 L949.8,1583.2 L951.5,1579.3 L953.2,1575.7 L954.9,1572.3 L956.6,1568.9 L958.3,1565.3 L960.0,1561.5 L961.7,1557.6 L963.4,1553.5 L965.1,1549.4 L966.8,1545.1 L968.5,1540.8 L970.2,1536.6 L971.9,1532.3 L973.6,1528.0 L975.4,1523.9 L977.1,1519.8 L978.8,1515.9 L980.5,1512.1 L982.2,1508.5 L983.9,1505.1 L985.6,1502.0 L987.3,1499.1 L989.0,1496.6 L990.7,1494.3 L992.4,1492.5 L994.1,1491.0 L995.8,1489.9 L997.5,1489.3 L999.2,1489.2 L1000.9,1490.2 L1002.6,1492.8 L1004.3,1496.6 L1006.0,1501.6 L1007.7,1507.7 L1009.4,1514.7 L1011.1,1522.5 L1012.8,1530.9 L1014.5,1540.0 L1016.3,1549.4 L1018.0,1559.1 L1019.7,1569.0 L1021.4,1579.0 L1023.1,1588.8 L1024.8,1598.4 L1026.5,1607.7 L1028.2,1616.5 L1029.9,1625.1 L1031.6,1634.4 L1033.3,1644.1 L1035.0,1654.2 L1036.7,1664.6 L1038.4,1675.2 L1040.1,1685.8 L1041.8,1696.3 L1043.5,1706.8 L1045.2,1716.9 L1046.9,1726.7 L1048.6,1736.1 L1050.3,1744.8 L1052.0,1752.9 L1053.7,1760.3 L1055.4,1767.4 L1057.2,1774.4 L1058.9,1781.2 L1060.6,1787.8 L1062.3,1794.2 L1064.0,1800.4 L1065.7,1806.4 L1067.4,1812.1 L1069.1,1817.6 L1070.8,1822.9 L1072.5,1827.8 L1074.2,1832.5 L1075.9,1836.8 L1077.6,1840.9" fill="none" stroke="#00B0F6" stroke-width="2.0" stroke-opacity="0.7"/><path d="M772.6,1813.0 L774.3,1809.3 L776.0,1805.7 L777.7,1802.1 L779.4,1798.5 L781.1,1794.8 L782.8,1791.2 L784.5,1787.6 L786.2,1783.9 L787.9,1780.3 L789.6,1776.7 L791.3,1773.1 L793.0,1769.4 L794.7,1765.8 L796.4,1762.2 L798.1,1758.6 L799.8,1754.9 L801.5,1751.3 L803.2,1747.7 L804.9,1744.1 L806.6,1740.4 L808.3,1736.8 L810.1,1733.2 L811.8,1729.6 L813.5,1725.9 L815.2,1722.3 L816.9,1718.6 L818.6,1714.9 L820.3,1711.2 L822.0,1707.6 L823.7,1703.9 L825.4,1700.2 L827.1,1696.5 L828.8,1692.8 L830.5,1689.1 L832.2,1685.4 L833.9,1681.7 L835.6,1678.1 L837.3,1674.4 L839.0,1670.8 L840.7,1667.2 L842.4,1663.6 L844.1,1660.0 L845.8,1656.5 L847.5,1653.0 L849.2,1649.6 L851.0,1646.1 L852.7,1642.7 L854.4,1639.4 L856.1,1636.1 L857.8,1632.8 L859.5,1629.5 L861.2,1626.3 L862.9,1623.1 L864.6,1619.9 L866.3,1616.7 L868.0,1613.5 L869.7,1610.4 L871.4,1607.2 L873.1,1604.0 L874.8,1600.9 L876.5,1597.7 L878.2,1594.5 L879.9,1591.3 L881.6,1588.1 L883.3,1584.9 L885.0,1581.9 L886.7,1578.9 L888.4,1575.9 L890.1,1573.0 L891.8,1570.0 L893.6,1567.0 L895.3,1564.1 L897.0,1561.0 L898.7,1557.9 L900.4,1554.8 L902.1,1551.5 L903.8,1548.1 L905.5,1544.6 L907.2,1541.0 L908.9,1537.1 L910.6,1533.1 L912.3,1528.8 L914.0,1524.1 L915.7,1519.1 L917.4,1513.9 L919.1,1508.4 L920.8,1502.7 L922.5,1496.8 L924.2,1490.9 L925.9,1484.8 L927.6,1478.8 L929.3,1472.8 L931.0,1466.9 L932.7,1461.0 L934.5,1455.4 L936.2,1449.9 L937.9,1444.6 L939.6,1439.7 L941.3,1434.8 L943.0,1429.8 L944.7,1424.6 L946.4,1419.2 L948.1,1413.7 L949.8,1408.2 L951.5,1402.7 L953.2,1397.1 L954.9,1391.6 L956.6,1386.2 L958.3,1380.9 L960.0,1375.7 L961.7,1370.7 L963.4,1365.9 L965.1,1361.4 L966.8,1357.2 L968.5,1353.3 L970.2,1349.8 L971.9,1346.7 L973.6,1344.0 L975.4,1341.8 L977.1,1340.2 L978.8,1339.0 L980.5,1338.5 L982.2,1338.6 L983.9,1339.6 L985.6,1341.6 L987.3,1344.4 L989.0,1347.9 L990.7,1352.2 L992.4,1357.1 L994.1,1362.5 L995.8,1368.5 L997.5,1374.8 L999.2,1381.5 L1000.9,1388.5 L1002.6,1395.7 L1004.3,1403.0 L1006.0,1410.4 L1007.7,1417.9 L1009.4,1425.3 L1011.1,1433.9 L1012.8,1443.5 L1014.5,1454.3 L1016.3,1465.9 L1018.0,1478.4 L1019.7,1491.5 L1021.4,1505.2 L1023.1,1519.3 L1024.8,1533.8 L1026.5,1548.4 L1028.2,1563.2 L1029.9,1577.9 L1031.6,1592.4 L1033.3,1606.7 L1035.0,1620.6 L1036.7,1633.9 L1038.4,1646.7 L1040.1,1659.5 L1041.8,1672.9 L1043.5,1686.6 L1045.2,1700.5 L1046.9,1714.2 L1048.6,1727.5 L1050.3,1740.3 L1052.0,1752.4 L1053.7,1763.4 L1055.4,1773.3 L1057.2,1781.7 L1058.9,1788.8 L1060.6,1795.6 L1062.3,1802.2 L1064.0,1808.5 L1065.7,1814.4 L1067.4,1820.0 L1069.1,1825.1 L1070.8,1829.6 L1072.5,1833.5 L1074.2,1836.8 L1075.9,1839.2 L1077.6,1840.9" fill="none" stroke="#9590FF" stroke-width="2.0" stroke-opacity="0.7"/><path d="M772.6,1885.5 L774.3,1884.7 L776.0,1882.8 L777.7,1879.9 L779.4,1876.1 L781.1,1871.6 L782.8,1866.4 L784.5,1860.6 L786.2,1854.3 L787.9,1847.7 L789.6,1840.7 L791.3,1833.6 L793.0,1826.2 L794.7,1817.2 L796.4,1806.3 L798.1,1794.0 L799.8,1780.4 L801.5,1765.8 L803.2,1750.4 L804.9,1734.6 L806.6,1718.6 L808.3,1702.6 L810.1,1686.9 L811.8,1671.5 L813.5,1654.7 L815.2,1636.7 L816.9,1617.6 L818.6,1597.7 L820.3,1577.5 L822.0,1557.1 L823.7,1537.0 L825.4,1517.3 L827.1,1498.4 L828.8,1480.6 L830.5,1464.3 L832.2,1449.6 L833.9,1436.9 L835.6,1426.6 L837.3,1418.6 L839.0,1411.0 L840.7,1403.7 L842.4,1396.5 L844.1,1389.5 L845.8,1382.8 L847.5,1376.4 L849.2,1370.4 L851.0,1364.8 L852.7,1359.6 L854.4,1354.8 L856.1,1350.6 L857.8,1347.0 L859.5,1343.9 L861.2,1341.5 L862.9,1339.7 L864.6,1338.7 L866.3,1338.4 L868.0,1339.2 L869.7,1341.0 L871.4,1343.8 L873.1,1347.5 L874.8,1351.9 L876.5,1357.0 L878.2,1362.5 L879.9,1368.5 L881.6,1374.8 L883.3,1381.2 L885.0,1387.7 L886.7,1394.1 L888.4,1400.4 L890.1,1406.4 L891.8,1411.9 L893.6,1417.0 L895.3,1421.4 L897.0,1425.5 L898.7,1429.6 L900.4,1434.0 L902.1,1438.4 L903.8,1442.8 L905.5,1447.3 L907.2,1451.7 L908.9,1456.1 L910.6,1460.4 L912.3,1464.5 L914.0,1468.4 L915.7,1472.1 L917.4,1475.6 L919.1,1478.8 L920.8,1481.6 L922.5,1484.0 L924.2,1486.0 L925.9,1487.5 L927.6,1488.6 L929.3,1489.1 L931.0,1489.0 L932.7,1488.5 L934.5,1487.6 L936.2,1486.2 L937.9,1484.5 L939.6,1482.5 L941.3,1480.2 L943.0,1477.7 L944.7,1475.0 L946.4,1472.2 L948.1,1469.3 L949.8,1466.3 L951.5,1463.3 L953.2,1460.3 L954.9,1457.3 L956.6,1454.5 L958.3,1451.8 L960.0,1449.3 L961.7,1446.6 L963.4,1443.6 L965.1,1440.4 L966.8,1437.0 L968.5,1433.4 L970.2,1429.9 L971.9,1426.3 L973.6,1422.9 L975.4,1419.6 L977.1,1416.4 L978.8,1413.6 L980.5,1411.1 L982.2,1408.9 L983.9,1407.2 L985.6,1406.1 L987.3,1405.5 L989.0,1405.7 L990.7,1407.7 L992.4,1411.5 L994.1,1417.0 L995.8,1423.8 L997.5,1431.8 L999.2,1440.9 L1000.9,1450.8 L1002.6,1461.4 L1004.3,1472.5 L1006.0,1483.9 L1007.7,1495.4 L1009.4,1506.9 L1011.1,1518.1 L1012.8,1528.9 L1014.5,1539.4 L1016.3,1550.8 L1018.0,1563.2 L1019.7,1576.5 L1021.4,1590.4 L1023.1,1604.7 L1024.8,1619.5 L1026.5,1634.4 L1028.2,1649.4 L1029.9,1664.2 L1031.6,1678.7 L1033.3,1692.8 L1035.0,1706.2 L1036.7,1718.9 L1038.4,1730.7 L1040.1,1741.3 L1041.8,1750.7 L1043.5,1758.7 L1045.2,1766.2 L1046.9,1773.6 L1048.6,1780.9 L1050.3,1788.1 L1052.0,1795.2 L1053.7,1802.0 L1055.4,1808.6 L1057.2,1815.0 L1058.9,1821.1 L1060.6,1826.9 L1062.3,1832.5 L1064.0,1837.6 L1065.7,1842.4 L1067.4,1846.8 L1069.1,1850.7 L1070.8,1854.3 L1072.5,1857.3 L1074.2,1859.8 L1075.9,1861.8 L1077.6,1863.2" fill="none" stroke="#E76BF3" stroke-width="2.0" stroke-opacity="0.7"/><path d="M772.6,1757.1 L774.3,1739.9 L776.0,1722.9 L777.7,1706.2 L779.4,1689.7 L781.1,1673.5 L782.8,1657.6 L784.5,1641.9 L786.2,1626.5 L787.9,1611.4 L789.6,1596.5 L791.3,1581.9 L793.0,1567.5 L794.7,1553.5 L796.4,1539.7 L798.1,1526.1 L799.8,1512.2 L801.5,1498.2 L803.2,1484.2 L804.9,1470.4 L806.6,1456.9 L808.3,1444.0 L810.1,1431.9 L811.8,1420.6 L813.5,1410.5 L815.2,1401.6 L816.9,1394.1 L818.6,1387.4 L820.3,1380.7 L822.0,1374.2 L823.7,1367.9 L825.4,1361.9 L827.1,1356.4 L828.8,1351.4 L830.5,1347.1 L832.2,1343.6 L833.9,1340.9 L835.6,1339.1 L837.3,1338.4 L839.0,1338.8 L840.7,1340.1 L842.4,1342.2 L844.1,1345.1 L845.8,1348.7 L847.5,1352.8 L849.2,1357.3 L851.0,1362.2 L852.7,1367.4 L854.4,1372.8 L856.1,1378.3 L857.8,1383.8 L859.5,1389.2 L861.2,1394.4 L862.9,1399.9 L864.6,1406.0 L866.3,1412.6 L868.0,1419.7 L869.7,1427.1 L871.4,1434.8 L873.1,1442.5 L874.8,1450.4 L876.5,1458.1 L878.2,1465.7 L879.9,1473.1 L881.6,1480.0 L883.3,1486.6 L885.0,1492.5 L886.7,1498.0 L888.4,1503.7 L890.1,1509.6 L891.8,1515.5 L893.6,1521.4 L895.3,1527.1 L897.0,1532.4 L898.7,1537.3 L900.4,1541.6 L902.1,1545.2 L903.8,1548.0 L905.5,1549.8 L907.2,1550.5 L908.9,1550.3 L910.6,1549.4 L912.3,1548.0 L914.0,1546.1 L915.7,1543.7 L917.4,1541.0 L919.1,1537.9 L920.8,1534.6 L922.5,1531.1 L924.2,1527.5 L925.9,1523.9 L927.6,1520.2 L929.3,1516.6 L931.0,1513.1 L932.7,1509.8 L934.5,1506.7 L936.2,1503.7 L937.9,1500.5 L939.6,1497.1 L941.3,1493.5 L943.0,1489.7 L944.7,1485.8 L946.4,1481.9 L948.1,1478.0 L949.8,1474.2 L951.5,1470.5 L953.2,1466.9 L954.9,1463.6 L956.6,1460.5 L958.3,1457.7 L960.0,1455.2 L961.7,1453.2 L963.4,1451.6 L965.1,1450.6 L966.8,1450.1 L968.5,1450.4 L970.2,1452.3 L971.9,1455.6 L973.6,1460.3 L975.4,1466.0 L977.1,1472.8 L978.8,1480.4 L980.5,1488.7 L982.2,1497.6 L983.9,1506.9 L985.6,1516.4 L987.3,1526.0 L989.0,1535.5 L990.7,1544.9 L992.4,1553.9 L994.1,1562.4 L995.8,1571.0 L997.5,1580.2 L999.2,1589.8 L1000.9,1599.7 L1002.6,1610.0 L1004.3,1620.4 L1006.0,1630.9 L1007.7,1641.4 L1009.4,1651.7 L1011.1,1661.9 L1012.8,1671.7 L1014.5,1681.2 L1016.3,1690.1 L1018.0,1698.5 L1019.7,1706.3 L1021.4,1714.0 L1023.1,1721.6 L1024.8,1729.1 L1026.5,1736.5 L1028.2,1743.8 L1029.9,1750.9 L1031.6,1757.8 L1033.3,1764.6 L1035.0,1771.1 L1036.7,1777.4 L1038.4,1783.5 L1040.1,1789.4 L1041.8,1795.0 L1043.5,1800.3 L1045.2,1805.3 L1046.9,1810.0 L1048.6,1814.3 L1050.3,1818.6 L1052.0,1822.7 L1053.7,1826.8 L1055.4,1830.8 L1057.2,1834.7 L1058.9,1838.4 L1060.6,1842.1 L1062.3,1845.5 L1064.0,1848.9 L1065.7,1852.0 L1067.4,1855.0 L1069.1,1857.9 L1070.8,1860.5 L1072.5,1862.9 L1074.2,1865.1 L1075.9,1867.1 L1077.6,1868.8" fill="none" stroke="#FF62BC" stroke-width="2.0" stroke-opacity="0.7"/><path d="M757.8,1310.6 V1924.5 H1092.4" fill="none" stroke="#333" stroke-width="1.7"/><path d="M757.8,1896.7 h-3.5" stroke="#333" stroke-width="1.3"/><text x="752.3" y="1902.1" font-size="15.0" text-anchor="end" textLength="20.0" lengthAdjust="spacingAndGlyphs" fill="#555" font-family="'Liberation Sans', Arial, sans-serif">0.00</text><path d="M757.8,1757.1 h-3.5" stroke="#333" stroke-width="1.3"/><text x="752.3" y="1762.5" font-size="15.0" text-anchor="end" textLength="20.0" lengthAdjust="spacingAndGlyphs" fill="#555" font-family="'Liberation Sans', Arial, sans-serif">0.25</text><path d="M757.8,1617.6 h-3.5" stroke="#333" stroke-width="1.3"/><text x="752.3" y="1623.0" font-size="15.0" text-anchor="end" textLength="20.0" lengthAdjust="spacingAndGlyphs" fill="#555" font-family="'Liberation Sans', Arial, sans-serif">0.50</text><path d="M757.8,1478.0 h-3.5" stroke="#333" stroke-width="1.3"/><text x="752.3" y="1483.4" font-size="15.0" text-anchor="end" textLength="20.0" lengthAdjust="spacingAndGlyphs" fill="#555" font-family="'Liberation Sans', Arial, sans-serif">0.75</text><path d="M757.8,1338.4 h-3.5" stroke="#333" stroke-width="1.3"/><text x="752.3" y="1343.8" font-size="15.0" text-anchor="end" textLength="20.0" lengthAdjust="spacingAndGlyphs" fill="#555" font-family="'Liberation Sans', Arial, sans-serif">1.00</text><path d="M782.4,1924.5 v3.5" stroke="#333" stroke-width="1.3"/><text x="782.4" y="1943.5" font-size="15.0" text-anchor="middle" textLength="6.5" lengthAdjust="spacingAndGlyphs" fill="#555" font-family="'Liberation Sans', Arial, sans-serif">0</text><path d="M880.8,1924.5 v3.5" stroke="#333" stroke-width="1.3"/><text x="880.8" y="1943.5" font-size="15.0" text-anchor="middle" textLength="12.0" lengthAdjust="spacingAndGlyphs" fill="#555" font-family="'Liberation Sans', Arial, sans-serif">10</text><path d="M979.2,1924.5 v3.5" stroke="#333" stroke-width="1.3"/><text x="979.2" y="1943.5" font-size="15.0" text-anchor="middle" textLength="12.0" lengthAdjust="spacingAndGlyphs" fill="#555" font-family="'Liberation Sans', Arial, sans-serif">20</text><path d="M1077.6,1924.5 v3.5" stroke="#333" stroke-width="1.3"/><text x="1077.6" y="1943.5" font-size="15.0" text-anchor="middle" textLength="12.0" lengthAdjust="spacingAndGlyphs" fill="#555" font-family="'Liberation Sans', Arial, sans-serif">30</text><text x="925.1" y="1961.0" font-size="22.0" text-anchor="middle" textLength="83.0" lengthAdjust="spacingAndGlyphs" fill="#222" font-family="'Liberation Sans', Arial, sans-serif">Time (CT)</text><text x="0.0" y="0.0" font-size="22.0" text-anchor="middle" textLength="195.0" lengthAdjust="spacingAndGlyphs" fill="#222" font-family="'Liberation Sans', Arial, sans-serif" transform="translate(721.8,1624) rotate(-90)">Percentage of Genes</text><rect x="1081.6" y="1458.0" width="17.5" height="27.4" fill="#F8766D" fill-opacity="0.10" stroke="#F8766D" stroke-width="1.8"/><text x="1102.1" y="1478.5" font-size="18.5" textLength="123.8" lengthAdjust="spacingAndGlyphs" fill="#222" font-family="'Liberation Sans', Arial, sans-serif">AMPK Signaling</text><rect x="1081.6" y="1487.9" width="17.5" height="27.4" fill="#D89000" fill-opacity="0.10" stroke="#D89000" stroke-width="1.8"/><text x="1102.1" y="1508.4" font-size="18.5" textLength="156.3" lengthAdjust="spacingAndGlyphs" fill="#222" font-family="'Liberation Sans', Arial, sans-serif">Cellular Senescence</text><rect x="1081.6" y="1517.8" width="17.5" height="27.4" fill="#A3A500" fill-opacity="0.10" stroke="#A3A500" stroke-width="1.8"/><text x="1102.1" y="1538.2" font-size="18.5" textLength="156.3" lengthAdjust="spacingAndGlyphs" fill="#222" font-family="'Liberation Sans', Arial, sans-serif">Cholinergic Synapse</text><rect x="1081.6" y="1547.7" width="17.5" height="27.4" fill="#39B600" fill-opacity="0.10" stroke="#39B600" stroke-width="1.8"/><text x="1102.1" y="1568.2" font-size="18.5" textLength="84.9" lengthAdjust="spacingAndGlyphs" fill="#222" font-family="'Liberation Sans', Arial, sans-serif">Ferroptosis</text><rect x="1081.6" y="1577.6" width="17.5" height="27.4" fill="#00BF7D" fill-opacity="0.10" stroke="#00BF7D" stroke-width="1.8"/><text x="1102.1" y="1598.0" font-size="18.5" textLength="115.9" lengthAdjust="spacingAndGlyphs" fill="#222" font-family="'Liberation Sans', Arial, sans-serif">FoxO Signaling</text><rect x="1081.6" y="1607.5" width="17.5" height="27.4" fill="#00BFC4" fill-opacity="0.10" stroke="#00BFC4" stroke-width="1.8"/><text x="1102.1" y="1628.0" font-size="18.5" textLength="189.3" lengthAdjust="spacingAndGlyphs" fill="#222" font-family="'Liberation Sans', Arial, sans-serif">Lipid and Atherosclerosis</text><rect x="1081.6" y="1637.4" width="17.5" height="27.4" fill="#00B0F6" fill-opacity="0.10" stroke="#00B0F6" stroke-width="1.8"/><text x="1102.1" y="1657.9" font-size="18.5" textLength="141.7" lengthAdjust="spacingAndGlyphs" fill="#222" font-family="'Liberation Sans', Arial, sans-serif">PI3K-Akt Signaling</text><rect x="1081.6" y="1667.3" width="17.5" height="27.4" fill="#9590FF" fill-opacity="0.10" stroke="#9590FF" stroke-width="1.8"/><text x="1102.1" y="1687.8" font-size="18.5" textLength="217.9" lengthAdjust="spacingAndGlyphs" fill="#222" font-family="'Liberation Sans', Arial, sans-serif">Protein Processing in the ER</text><rect x="1081.6" y="1697.2" width="17.5" height="27.4" fill="#E76BF3" fill-opacity="0.10" stroke="#E76BF3" stroke-width="1.8"/><text x="1102.1" y="1717.7" font-size="18.5" textLength="162.7" lengthAdjust="spacingAndGlyphs" fill="#222" font-family="'Liberation Sans', Arial, sans-serif">Ribosome biogenesis</text><rect x="1081.6" y="1727.1" width="17.5" height="27.4" fill="#FF62BC" fill-opacity="0.10" stroke="#FF62BC" stroke-width="1.8"/><text x="1102.1" y="1747.5" font-size="18.5" textLength="209.1" lengthAdjust="spacingAndGlyphs" fill="#222" font-family="'Liberation Sans', Arial, sans-serif">Txn misregulation in cancer</text><text x="29.3" y="2019.9" font-size="52.6" font-weight="bold" textLength="45.8" lengthAdjust="spacingAndGlyphs" font-family="'Liberation Sans', Arial, sans-serif">D.</text><text x="231.4" y="2046.0" font-size="30.7" font-weight="bold" textLength="106.2" lengthAdjust="spacingAndGlyphs" font-style="italic" font-family="'Liberation Sans', Arial, sans-serif">Tyrobp</text><text x="292.0" y="2108.0" font-size="26.5" textLength="194.4" lengthAdjust="spacingAndGlyphs" font-family="'Liberation Sans', Arial, sans-serif">WT Pval: 0.000</text><text x="300.0" y="2139.8" font-size="26.5" textLength="187.0" lengthAdjust="spacingAndGlyphs" font-family="'Liberation Sans', Arial, sans-serif">APP Pval: 0.31</text><g stroke="#000" stroke-width="3.7" fill="none"><path d="M111.4,2112.8 V2273.3"/><path d="M102.7,2273.3 h17.4"/><path d="M97.1,2263.6 H111.4"/><path d="M97.1,2214.0 H111.4"/><path d="M97.1,2164.3 H111.4"/><path d="M97.1,2114.7 H111.4"/><path d="M111.4,2298.4 V2470.1"/><path d="M102.7,2298.4 h17.4"/><path d="M97.1,2456.1 H111.4"/><path d="M97.1,2416.7 H111.4"/><path d="M97.1,2377.2 H111.4"/><path d="M97.1,2337.8 H111.4"/><path d="M111.4,2456.1 H452.5 V2470.1"/><path d="M196.7,2456.1 v7.5"/><path d="M282.0,2456.1 v14.0"/><path d="M367.2,2456.1 v7.5"/></g><text x="92.5" y="2272.4" font-size="24.5" font-weight="bold" text-anchor="end" textLength="53.2" lengthAdjust="spacingAndGlyphs" font-family="'Liberation Sans', Arial, sans-serif">1000</text><text x="92.5" y="2222.8" font-size="24.5" font-weight="bold" text-anchor="end" textLength="53.2" lengthAdjust="spacingAndGlyphs" font-family="'Liberation Sans', Arial, sans-serif">2000</text><text x="92.5" y="2173.1" font-size="24.5" font-weight="bold" text-anchor="end" textLength="53.2" lengthAdjust="spacingAndGlyphs" font-family="'Liberation Sans', Arial, sans-serif">3000</text><text x="92.5" y="2123.5" font-size="24.5" font-weight="bold" text-anchor="end" textLength="53.2" lengthAdjust="spacingAndGlyphs" font-family="'Liberation Sans', Arial, sans-serif">4000</text><text x="92.5" y="2464.9" font-size="24.5" font-weight="bold" text-anchor="end" textLength="39.9" lengthAdjust="spacingAndGlyphs" font-family="'Liberation Sans', Arial, sans-serif">400</text><text x="92.5" y="2425.5" font-size="24.5" font-weight="bold" text-anchor="end" textLength="39.9" lengthAdjust="spacingAndGlyphs" font-family="'Liberation Sans', Arial, sans-serif">500</text><text x="92.5" y="2386.1" font-size="24.5" font-weight="bold" text-anchor="end" textLength="39.9" lengthAdjust="spacingAndGlyphs" font-family="'Liberation Sans', Arial, sans-serif">600</text><text x="92.5" y="2346.6" font-size="24.5" font-weight="bold" text-anchor="end" textLength="39.9" lengthAdjust="spacingAndGlyphs" font-family="'Liberation Sans', Arial, sans-serif">700</text><text x="92.5" y="2307.2" font-size="24.5" font-weight="bold" text-anchor="end" textLength="39.9" lengthAdjust="spacingAndGlyphs" font-family="'Liberation Sans', Arial, sans-serif">800</text><text x="111.4" y="2499.0" font-size="23.0" font-weight="bold" text-anchor="middle" textLength="12.8" lengthAdjust="spacingAndGlyphs" font-family="'Liberation Sans', Arial, sans-serif">0</text><text x="282.0" y="2499.0" font-size="23.0" font-weight="bold" text-anchor="middle" textLength="25.6" lengthAdjust="spacingAndGlyphs" font-family="'Liberation Sans', Arial, sans-serif">12</text><text x="452.5" y="2499.0" font-size="23.0" font-weight="bold" text-anchor="middle" textLength="25.6" lengthAdjust="spacingAndGlyphs" font-family="'Liberation Sans', Arial, sans-serif">24</text><text x="264.1" y="2540.2" font-size="26.0" font-weight="bold" textLength="36.3" lengthAdjust="spacingAndGlyphs" font-family="'Liberation Sans', Arial, sans-serif">CT</text><text x="0.0" y="0.0" font-size="28.5" font-weight="bold" text-anchor="middle" textLength="59.0" lengthAdjust="spacingAndGlyphs" font-family="'Liberation Sans', Arial, sans-serif" transform="translate(20.6,2285.1) rotate(-90)">CPM</text><polygon points="111.4,2176.8 116.8,2187.4 106.0,2187.4" fill="#ee1c14"/><polygon points="111.4,2258.8 116.8,2269.4 106.0,2269.4" fill="none" stroke="#ee1c14" stroke-width="1.1"/><path d="M110.2,2262.9 v6.5 M112.6,2262.9 v6.5" stroke="#ee1c14" stroke-width="0.8"/><polygon points="139.8,2237.3 145.2,2247.9 134.4,2247.9" fill="#ee4a40"/><polygon points="139.8,2257.9 145.2,2268.5 134.4,2268.5" fill="#ee1c14"/><polygon points="168.2,2172.4 173.7,2183.0 162.8,2183.0" fill="#ee1c14"/><polygon points="168.2,2247.6 173.7,2258.2 162.8,2258.2" fill="none" stroke="#ee1c14" stroke-width="1.1"/><path d="M167.1,2251.7 v6.5 M169.4,2251.7 v6.5" stroke="#ee1c14" stroke-width="0.8"/><polygon points="196.7,2220.4 202.1,2231.0 191.3,2231.0" fill="#ee4a40"/><polygon points="196.7,2226.9 202.1,2237.5 191.3,2237.5" fill="#ee1c14"/><polygon points="225.1,2232.2 230.5,2242.8 219.7,2242.8" fill="#ee1c14"/><polygon points="225.1,2234.2 230.5,2244.8 219.7,2244.8" fill="#ee1c14"/><polygon points="253.5,2181.8 258.9,2192.4 248.1,2192.4" fill="#ee1c14"/><polygon points="253.5,2220.4 258.9,2231.0 248.1,2231.0" fill="#ee1c14"/><polygon points="282.0,2190.1 287.4,2200.7 276.6,2200.7" fill="none" stroke="#ee1c14" stroke-width="1.1"/><path d="M280.8,2194.1 v6.5 M283.2,2194.1 v6.5 M279.0,2197.6 h6" stroke="#ee1c14" stroke-width="0.8"/><polygon points="282.0,2232.2 287.4,2242.8 276.6,2242.8" fill="none" stroke="#ee1c14" stroke-width="1.1"/><path d="M280.8,2236.3 v6.5 M283.2,2236.3 v6.5" stroke="#ee1c14" stroke-width="0.8"/><polygon points="310.4,2185.1 315.8,2195.7 305.0,2195.7" fill="#ee1c14"/><polygon points="310.4,2247.6 315.8,2258.2 305.0,2258.2" fill="#ee4a40"/><polygon points="338.8,2199.8 344.2,2210.4 333.4,2210.4" fill="#ee4a40"/><polygon points="338.8,2202.4 344.2,2213.0 333.4,2213.0" fill="#ee1c14"/><polygon points="367.2,2198.9 372.6,2209.5 361.8,2209.5" fill="#ee1c14"/><polygon points="367.2,2253.4 372.6,2264.0 361.8,2264.0" fill="#ee1c14"/><polygon points="395.6,2190.1 401.0,2200.7 390.2,2200.7" fill="#ee1c14"/><polygon points="395.6,2218.1 401.0,2228.7 390.2,2228.7" fill="#ee1c14"/><polygon points="424.1,2234.3 429.5,2244.9 418.7,2244.9" fill="#ee1c14"/><polygon points="424.1,2254.1 429.5,2264.7 418.7,2264.7" fill="#ee4a40"/><circle cx="111.4" cy="2418.3" r="5.0" fill="none" stroke="#1212ee" stroke-width="1.1"/><path d="M110.1,2413.8 v9 M112.7,2413.8 v9 M106.4,2418.3 h10" stroke="#1212ee" stroke-width="0.8"/><circle cx="111.4" cy="2428.1" r="5.0" fill="none" stroke="#1212ee" stroke-width="1.1"/><path d="M110.1,2423.6 v9 M112.7,2423.6 v9 M106.4,2428.1 h10" stroke="#1212ee" stroke-width="0.8"/><circle cx="139.8" cy="2428.1" r="5.4" fill="#1212ee"/><circle cx="168.2" cy="2386.7" r="5.4" fill="#1212ee"/><circle cx="168.2" cy="2389.1" r="5.4" fill="#1212ee"/><circle cx="196.7" cy="2335.9" r="5.4" fill="#1212ee"/><circle cx="196.7" cy="2346.5" r="5.4" fill="#4646ea"/><circle cx="225.1" cy="2338.6" r="5.0" fill="none" stroke="#1212ee" stroke-width="1.1"/><path d="M223.8,2334.1 v9 M226.4,2334.1 v9" stroke="#1212ee" stroke-width="0.8"/><circle cx="225.1" cy="2362.3" r="5.4" fill="#1212ee"/><circle cx="253.5" cy="2335.9" r="5.4" fill="#4646ea"/><circle cx="253.5" cy="2371.3" r="5.4" fill="#4646ea"/><circle cx="282.0" cy="2340.2" r="5.0" fill="none" stroke="#1212ee" stroke-width="1.1"/><path d="M280.7,2335.7 v9 M283.3,2335.7 v9" stroke="#1212ee" stroke-width="0.8"/><circle cx="310.4" cy="2335.9" r="5.4" fill="#1212ee"/><circle cx="310.4" cy="2359.5" r="5.4" fill="#1212ee"/><circle cx="338.8" cy="2404.5" r="5.4" fill="#1212ee"/><circle cx="367.2" cy="2389.9" r="5.4" fill="#4646ea"/><circle cx="367.2" cy="2408.4" r="5.4" fill="#4646ea"/><circle cx="395.6" cy="2380.0" r="5.4" fill="#1212ee"/><circle cx="395.6" cy="2398.5" r="5.4" fill="#1212ee"/><circle cx="424.1" cy="2406.4" r="5.4" fill="#4646ea"/><circle cx="424.1" cy="2418.6" r="5.4" fill="#1212ee"/><text x="758.3" y="2042.5" font-size="30.7" font-weight="bold" textLength="59.5" lengthAdjust="spacingAndGlyphs" font-style="italic" font-family="'Liberation Sans', Arial, sans-serif">Cd9</text><text x="779.0" y="2092.0" font-size="26.5" textLength="194.0" lengthAdjust="spacingAndGlyphs" font-family="'Liberation Sans', Arial, sans-serif">WT Pval: 0.000</text><text x="785.7" y="2123.6" font-size="26.5" textLength="190.0" lengthAdjust="spacingAndGlyphs" font-family="'Liberation Sans', Arial, sans-serif">APP Pval: 0.22</text><g stroke="#000" stroke-width="3.7" fill="none"><path d="M617.4,2111.7 V2271.3"/><path d="M608.7,2271.3 h17.4"/><path d="M603.1,2218.7 H617.4"/><path d="M603.1,2166.1 H617.4"/><path d="M603.1,2113.5 H617.4"/><path d="M617.4,2297.0 V2468.0"/><path d="M608.7,2297.0 h17.4"/><path d="M603.1,2454.0 H617.4"/><path d="M603.1,2414.8 H617.4"/><path d="M603.1,2375.5 H617.4"/><path d="M603.1,2336.2 H617.4"/><path d="M617.4,2454.0 H958.7 V2468.0"/><path d="M702.7,2454.0 v7.5"/><path d="M788.0,2454.0 v14.0"/><path d="M873.4,2454.0 v7.5"/></g><text x="596.0" y="2280.1" font-size="24.5" font-weight="bold" text-anchor="end" textLength="39.9" lengthAdjust="spacingAndGlyphs" font-family="'Liberation Sans', Arial, sans-serif">500</text><text x="596.0" y="2227.5" font-size="24.5" font-weight="bold" text-anchor="end" textLength="53.2" lengthAdjust="spacingAndGlyphs" font-family="'Liberation Sans', Arial, sans-serif">1000</text><text x="596.0" y="2174.9" font-size="24.5" font-weight="bold" text-anchor="end" textLength="53.2" lengthAdjust="spacingAndGlyphs" font-family="'Liberation Sans', Arial, sans-serif">1500</text><text x="596.0" y="2122.3" font-size="24.5" font-weight="bold" text-anchor="end" textLength="53.2" lengthAdjust="spacingAndGlyphs" font-family="'Liberation Sans', Arial, sans-serif">2000</text><text x="596.0" y="2462.8" font-size="24.5" font-weight="bold" text-anchor="end" textLength="39.9" lengthAdjust="spacingAndGlyphs" font-family="'Liberation Sans', Arial, sans-serif">200</text><text x="596.0" y="2423.6" font-size="24.5" font-weight="bold" text-anchor="end" textLength="39.9" lengthAdjust="spacingAndGlyphs" font-family="'Liberation Sans', Arial, sans-serif">250</text><text x="596.0" y="2384.3" font-size="24.5" font-weight="bold" text-anchor="end" textLength="39.9" lengthAdjust="spacingAndGlyphs" font-family="'Liberation Sans', Arial, sans-serif">300</text><text x="596.0" y="2345.1" font-size="24.5" font-weight="bold" text-anchor="end" textLength="39.9" lengthAdjust="spacingAndGlyphs" font-family="'Liberation Sans', Arial, sans-serif">350</text><text x="596.0" y="2305.8" font-size="24.5" font-weight="bold" text-anchor="end" textLength="39.9" lengthAdjust="spacingAndGlyphs" font-family="'Liberation Sans', Arial, sans-serif">400</text><text x="617.4" y="2498.0" font-size="23.0" font-weight="bold" text-anchor="middle" textLength="12.8" lengthAdjust="spacingAndGlyphs" font-family="'Liberation Sans', Arial, sans-serif">0</text><text x="788.0" y="2498.0" font-size="23.0" font-weight="bold" text-anchor="middle" textLength="25.6" lengthAdjust="spacingAndGlyphs" font-family="'Liberation Sans', Arial, sans-serif">12</text><text x="958.7" y="2498.0" font-size="23.0" font-weight="bold" text-anchor="middle" textLength="25.6" lengthAdjust="spacingAndGlyphs" font-family="'Liberation Sans', Arial, sans-serif">24</text><text x="769.5" y="2538.0" font-size="26.0" font-weight="bold" textLength="35.4" lengthAdjust="spacingAndGlyphs" font-family="'Liberation Sans', Arial, sans-serif">CT</text><text x="0.0" y="0.0" font-size="28.5" font-weight="bold" text-anchor="middle" textLength="59.0" lengthAdjust="spacingAndGlyphs" font-family="'Liberation Sans', Arial, sans-serif" transform="translate(526.0,2283.5) rotate(-90)">CPM</text><path d="M617.4,2403.8 L622.7,2400.9 L628.0,2397.7 L633.3,2394.2 L638.6,2390.5 L643.9,2386.6 L649.2,2382.4 L654.5,2378.2 L659.8,2373.8 L665.1,2369.4 L670.4,2364.9 L675.7,2360.5 L681.0,2356.2 L686.3,2351.9 L691.6,2347.8 L696.9,2343.9 L702.2,2340.3 L707.5,2336.8 L712.8,2333.7 L718.2,2330.9 L723.5,2328.5 L728.8,2326.4 L734.1,2324.7 L739.4,2323.4 L744.7,2322.6 L750.0,2322.2 L755.3,2322.2 L760.6,2322.6 L765.9,2323.5 L771.2,2324.8 L776.5,2326.5 L781.8,2328.6 L787.1,2331.0 L792.4,2333.9 L797.7,2337.0 L803.0,2340.4 L808.3,2344.1 L813.6,2348.0 L818.9,2352.1 L824.2,2356.4 L829.5,2360.7 L834.8,2365.1 L840.1,2369.6 L845.4,2374.0 L850.7,2378.4 L856.0,2382.6 L861.3,2386.7 L866.6,2390.7 L871.9,2394.4 L877.2,2397.9 L882.5,2401.0 L887.8,2403.9 L893.1,2406.4 L898.4,2408.6 L903.7,2410.3 L909.0,2411.7 L914.4,2412.6 L919.7,2413.1 L925.0,2413.2 L930.3,2412.8" fill="none" stroke="#2020e0" stroke-width="2.3"/><polygon points="617.4,2153.0 622.8,2163.6 612.0,2163.6" fill="#ee1c14"/><polygon points="617.4,2259.5 622.8,2270.1 612.0,2270.1" fill="#ee1c14"/><path d="M644.5,2237.2 v5 M647.1,2237.2 v5" stroke="#ee1c14" stroke-width="0.9" opacity="0.8"/><path d="M644.5,2254.1 v5 M647.1,2254.1 v5" stroke="#ee1c14" stroke-width="0.9" opacity="0.8"/><polygon points="674.3,2114.1 679.7,2124.7 668.9,2124.7" fill="#ee4a40"/><polygon points="674.3,2219.6 679.7,2230.2 668.9,2230.2" fill="#ee1c14"/><polygon points="702.7,2197.3 708.1,2207.9 697.3,2207.9" fill="#ee1c14"/><polygon points="702.7,2208.7 708.1,2219.3 697.3,2219.3" fill="#ee1c14"/><polygon points="731.2,2206.2 736.6,2216.8 725.8,2216.8" fill="#ee4a40"/><polygon points="731.2,2215.6 736.6,2226.2 725.8,2226.2" fill="#ee1c14"/><polygon points="759.6,2133.9 765.0,2144.5 754.2,2144.5" fill="#ee1c14"/><polygon points="759.6,2192.9 765.0,2203.5 754.2,2203.5" fill="none" stroke="#ee1c14" stroke-width="1.1"/><path d="M758.4,2196.9 v6.5 M760.8,2196.9 v6.5" stroke="#ee1c14" stroke-width="0.8"/><polygon points="788.0,2152.2 793.4,2162.8 782.6,2162.8" fill="#ee4a40"/><polygon points="788.0,2218.0 793.4,2228.6 782.6,2228.6" fill="#ee1c14"/><polygon points="816.5,2163.4 821.9,2174.0 811.1,2174.0" fill="#ee1c14"/><polygon points="816.5,2232.7 821.9,2243.3 811.1,2243.3" fill="none" stroke="#ee1c14" stroke-width="1.1"/><path d="M815.3,2236.8 v6.5 M817.7,2236.8 v6.5" stroke="#ee1c14" stroke-width="0.8"/><polygon points="844.9,2176.7 850.3,2187.3 839.5,2187.3" fill="#ee1c14"/><polygon points="873.4,2161.2 878.8,2171.8 868.0,2171.8" fill="#ee4a40"/><polygon points="873.4,2246.7 878.8,2257.3 868.0,2257.3" fill="#ee1c14"/><polygon points="901.8,2161.2 907.2,2171.8 896.4,2171.8" fill="#ee1c14"/><path d="M900.5,2207.8 v5 M903.1,2207.8 v5" stroke="#ee1c14" stroke-width="0.9" opacity="0.8"/><polygon points="930.3,2218.0 935.7,2228.6 924.9,2228.6" fill="#ee4a40"/><polygon points="930.3,2235.8 935.7,2246.4 924.9,2246.4" fill="#ee4a40"/><circle cx="617.4" cy="2372.4" r="5.4" fill="#1212ee"/><circle cx="617.4" cy="2421.8" r="5.4" fill="#4646ea"/><circle cx="645.8" cy="2402.2" r="5.4" fill="#1212ee"/><circle cx="645.8" cy="2407.7" r="5.4" fill="#4646ea"/><circle cx="674.3" cy="2339.4" r="5.4" fill="#4646ea"/><circle cx="674.3" cy="2350.4" r="5.4" fill="#4646ea"/><circle cx="702.7" cy="2308.0" r="5.0" fill="none" stroke="#1212ee" stroke-width="1.1"/><path d="M701.4,2303.5 v9 M704.0,2303.5 v9" stroke="#1212ee" stroke-width="0.8"/><circle cx="702.7" cy="2322.9" r="5.4" fill="#1212ee"/><circle cx="731.2" cy="2339.4" r="5.4" fill="#1212ee"/><circle cx="731.2" cy="2344.1" r="5.4" fill="#4646ea"/><circle cx="759.6" cy="2325.3" r="5.0" fill="none" stroke="#1212ee" stroke-width="1.1"/><path d="M758.3,2320.8 v9 M760.9,2320.8 v9 M754.6,2325.3 h10" stroke="#1212ee" stroke-width="0.8"/><circle cx="759.6" cy="2328.4" r="5.0" fill="none" stroke="#1212ee" stroke-width="1.1"/><path d="M758.3,2323.9 v9 M760.9,2323.9 v9 M754.6,2328.4 h10" stroke="#1212ee" stroke-width="0.8"/><circle cx="788.0" cy="2347.2" r="5.4" fill="#1212ee"/><circle cx="816.5" cy="2338.6" r="5.4" fill="#1212ee"/><circle cx="816.5" cy="2351.9" r="5.4" fill="#1212ee"/><circle cx="844.9" cy="2359.8" r="5.4" fill="#1212ee"/><circle cx="873.4" cy="2384.9" r="5.4" fill="#1212ee"/><circle cx="873.4" cy="2395.9" r="5.4" fill="#1212ee"/><circle cx="901.8" cy="2410.0" r="5.0" fill="none" stroke="#1212ee" stroke-width="1.1"/><path d="M900.5,2405.5 v9 M903.1,2405.5 v9 M896.8,2410.0 h10" stroke="#1212ee" stroke-width="0.8"/><circle cx="901.8" cy="2429.7" r="5.0" fill="none" stroke="#1212ee" stroke-width="1.1"/><path d="M900.5,2425.2 v9 M903.1,2425.2 v9 M896.8,2429.7 h10" stroke="#1212ee" stroke-width="0.8"/><circle cx="930.3" cy="2403.0" r="5.4" fill="#4646ea"/><circle cx="930.3" cy="2415.5" r="5.4" fill="#4646ea"/><text x="1259.4" y="2042.5" font-size="30.7" font-weight="bold" textLength="72.3" lengthAdjust="spacingAndGlyphs" font-style="italic" font-family="'Liberation Sans', Arial, sans-serif">Lyz2</text><text x="1287.4" y="2089.7" font-size="26.5" textLength="192.6" lengthAdjust="spacingAndGlyphs" font-family="'Liberation Sans', Arial, sans-serif">WT Pval: 0.001</text><text x="1295.7" y="2121.5" font-size="26.5" textLength="190.1" lengthAdjust="spacingAndGlyphs" font-family="'Liberation Sans', Arial, sans-serif">APP Pval: 0.29</text><g stroke="#000" stroke-width="3.7" fill="none"><path d="M1125.3,2109.3 V2268.9"/><path d="M1116.6,2268.9 h17.4"/><path d="M1111.0,2254.8 H1125.3"/><path d="M1111.0,2218.9 H1125.3"/><path d="M1111.0,2183.0 H1125.3"/><path d="M1111.0,2147.1 H1125.3"/><path d="M1111.0,2111.2 H1125.3"/><path d="M1125.3,2294.9 V2465.7"/><path d="M1116.6,2294.9 h17.4"/><path d="M1111.0,2451.7 H1125.3"/><path d="M1111.0,2420.3 H1125.3"/><path d="M1111.0,2389.0 H1125.3"/><path d="M1111.0,2357.6 H1125.3"/><path d="M1111.0,2326.3 H1125.3"/><path d="M1125.3,2451.7 H1465.2 V2465.7"/><path d="M1210.3,2451.7 v7.5"/><path d="M1295.2,2451.7 v14.0"/><path d="M1380.2,2451.7 v7.5"/></g><text x="1104.7" y="2263.6" font-size="24.5" font-weight="bold" text-anchor="end" textLength="53.2" lengthAdjust="spacingAndGlyphs" font-family="'Liberation Sans', Arial, sans-serif">1000</text><text x="1104.7" y="2227.7" font-size="24.5" font-weight="bold" text-anchor="end" textLength="53.2" lengthAdjust="spacingAndGlyphs" font-family="'Liberation Sans', Arial, sans-serif">1500</text><text x="1104.7" y="2191.8" font-size="24.5" font-weight="bold" text-anchor="end" textLength="53.2" lengthAdjust="spacingAndGlyphs" font-family="'Liberation Sans', Arial, sans-serif">2000</text><text x="1104.7" y="2155.9" font-size="24.5" font-weight="bold" text-anchor="end" textLength="53.2" lengthAdjust="spacingAndGlyphs" font-family="'Liberation Sans', Arial, sans-serif">2500</text><text x="1104.7" y="2120.0" font-size="24.5" font-weight="bold" text-anchor="end" textLength="53.2" lengthAdjust="spacingAndGlyphs" font-family="'Liberation Sans', Arial, sans-serif">3000</text><text x="1104.7" y="2460.5" font-size="24.5" font-weight="bold" text-anchor="end" textLength="39.9" lengthAdjust="spacingAndGlyphs" font-family="'Liberation Sans', Arial, sans-serif">300</text><text x="1104.7" y="2429.1" font-size="24.5" font-weight="bold" text-anchor="end" textLength="39.9" lengthAdjust="spacingAndGlyphs" font-family="'Liberation Sans', Arial, sans-serif">400</text><text x="1104.7" y="2397.8" font-size="24.5" font-weight="bold" text-anchor="end" textLength="39.9" lengthAdjust="spacingAndGlyphs" font-family="'Liberation Sans', Arial, sans-serif">500</text><text x="1104.7" y="2366.4" font-size="24.5" font-weight="bold" text-anchor="end" textLength="39.9" lengthAdjust="spacingAndGlyphs" font-family="'Liberation Sans', Arial, sans-serif">600</text><text x="1104.7" y="2335.1" font-size="24.5" font-weight="bold" text-anchor="end" textLength="39.9" lengthAdjust="spacingAndGlyphs" font-family="'Liberation Sans', Arial, sans-serif">700</text><text x="1104.7" y="2303.7" font-size="24.5" font-weight="bold" text-anchor="end" textLength="39.9" lengthAdjust="spacingAndGlyphs" font-family="'Liberation Sans', Arial, sans-serif">800</text><text x="1125.3" y="2495.3" font-size="23.0" font-weight="bold" text-anchor="middle" textLength="12.8" lengthAdjust="spacingAndGlyphs" font-family="'Liberation Sans', Arial, sans-serif">0</text><text x="1295.2" y="2495.3" font-size="23.0" font-weight="bold" text-anchor="middle" textLength="25.6" lengthAdjust="spacingAndGlyphs" font-family="'Liberation Sans', Arial, sans-serif">12</text><text x="1465.2" y="2495.3" font-size="23.0" font-weight="bold" text-anchor="middle" textLength="25.6" lengthAdjust="spacingAndGlyphs" font-family="'Liberation Sans', Arial, sans-serif">24</text><text x="1277.0" y="2535.7" font-size="26.0" font-weight="bold" textLength="36.0" lengthAdjust="spacingAndGlyphs" font-family="'Liberation Sans', Arial, sans-serif">CT</text><text x="0.0" y="0.0" font-size="28.5" font-weight="bold" text-anchor="middle" textLength="60.7" lengthAdjust="spacingAndGlyphs" font-family="'Liberation Sans', Arial, sans-serif" transform="translate(1033.0,2281.3) rotate(-90)">CPM</text><path d="M1125.3,2217.7 L1130.6,2218.2 L1135.9,2218.5 L1141.1,2218.7 L1146.4,2218.8 L1151.7,2218.7 L1157.0,2218.5 L1162.3,2218.2 L1167.5,2217.8 L1172.8,2217.2 L1178.1,2216.5 L1183.4,2215.7 L1188.7,2214.9 L1194.0,2213.9 L1199.2,2212.8 L1204.5,2211.7 L1209.8,2210.5 L1215.1,2209.3 L1220.4,2208.0 L1225.6,2206.7 L1230.9,2205.4 L1236.2,2204.1 L1241.5,2202.8 L1246.8,2201.5 L1252.0,2200.3 L1257.3,2199.1 L1262.6,2197.9 L1267.9,2196.9 L1273.2,2195.9 L1278.4,2195.0 L1283.7,2194.2 L1289.0,2193.5 L1294.3,2192.9 L1299.6,2192.4 L1304.9,2192.1 L1310.1,2191.9 L1315.4,2191.8 L1320.7,2191.8 L1326.0,2192.0 L1331.3,2192.3 L1336.5,2192.7 L1341.8,2193.2 L1347.1,2193.9 L1352.4,2194.6 L1357.7,2195.5 L1362.9,2196.4 L1368.2,2197.5 L1373.5,2198.6 L1378.8,2199.8 L1384.1,2201.0 L1389.3,2202.3 L1394.6,2203.6 L1399.9,2204.9 L1405.2,2206.2 L1410.5,2207.5 L1415.8,2208.8 L1421.0,2210.0 L1426.3,2211.2 L1431.6,2212.4 L1436.9,2213.5" fill="none" stroke="#e8403a" stroke-width="2.3"/><path d="M1125.3,2422.5 L1130.6,2420.7 L1135.9,2418.5 L1141.1,2416.2 L1146.4,2413.6 L1151.7,2410.7 L1157.0,2407.8 L1162.3,2404.6 L1167.5,2401.4 L1172.8,2398.0 L1178.1,2394.6 L1183.4,2391.2 L1188.7,2387.8 L1194.0,2384.4 L1199.2,2381.1 L1204.5,2377.9 L1209.8,2374.8 L1215.1,2371.9 L1220.4,2369.2 L1225.6,2366.7 L1230.9,2364.5 L1236.2,2362.5 L1241.5,2360.8 L1246.8,2359.4 L1252.0,2358.3 L1257.3,2357.5 L1262.6,2357.1 L1267.9,2357.0 L1273.2,2357.2 L1278.4,2357.8 L1283.7,2358.7 L1289.0,2359.9 L1294.3,2361.4 L1299.6,2363.2 L1304.9,2365.3 L1310.1,2367.6 L1315.4,2370.2 L1320.7,2373.0 L1326.0,2375.9 L1331.3,2379.0 L1336.5,2382.3 L1341.8,2385.6 L1347.1,2389.0 L1352.4,2392.4 L1357.7,2395.8 L1362.9,2399.2 L1368.2,2402.6 L1373.5,2405.8 L1378.8,2408.9 L1384.1,2411.8 L1389.3,2414.5 L1394.6,2417.1 L1399.9,2419.4 L1405.2,2421.4 L1410.5,2423.1 L1415.8,2424.6 L1421.0,2425.7 L1426.3,2426.6 L1431.6,2427.1 L1436.9,2427.2" fill="none" stroke="#2020e0" stroke-width="2.3"/><polygon points="1125.3,2124.2 1130.7,2134.8 1119.9,2134.8" fill="#ee1c14"/><polygon points="1125.3,2254.9 1130.7,2265.5 1119.9,2265.5" fill="#ee1c14"/><polygon points="1153.6,2232.3 1159.0,2242.9 1148.2,2242.9" fill="#ee1c14"/><polygon points="1153.6,2252.0 1159.0,2262.6 1148.2,2262.6" fill="#ee4a40"/><polygon points="1182.0,2116.8 1187.4,2127.4 1176.5,2127.4" fill="#ee1c14"/><polygon points="1182.0,2230.0 1187.4,2240.6 1176.5,2240.6" fill="#ee4a40"/><polygon points="1210.3,2204.9 1215.7,2215.5 1204.9,2215.5" fill="none" stroke="#ee1c14" stroke-width="1.1"/><path d="M1209.1,2209.0 v6.5 M1211.5,2209.0 v6.5 M1207.3,2212.5 h6" stroke="#ee1c14" stroke-width="0.8"/><polygon points="1210.3,2216.7 1215.7,2227.3 1204.9,2227.3" fill="none" stroke="#ee1c14" stroke-width="1.1"/><path d="M1209.1,2220.8 v6.5 M1211.5,2220.8 v6.5 M1207.3,2224.3 h6" stroke="#ee1c14" stroke-width="0.8"/><polygon points="1238.6,2219.7 1244.0,2230.3 1233.2,2230.3" fill="#ee1c14"/><polygon points="1238.6,2222.4 1244.0,2233.0 1233.2,2233.0" fill="#ee1c14"/><polygon points="1266.9,2140.3 1272.3,2150.9 1261.5,2150.9" fill="#ee1c14"/><polygon points="1266.9,2207.9 1272.3,2218.5 1261.5,2218.5" fill="none" stroke="#ee1c14" stroke-width="1.1"/><path d="M1265.7,2212.0 v6.5 M1268.1,2212.0 v6.5 M1263.9,2215.5 h6" stroke="#ee1c14" stroke-width="0.8"/><polygon points="1295.2,2153.5 1300.7,2164.1 1289.8,2164.1" fill="#ee1c14"/><polygon points="1295.2,2217.6 1300.7,2228.2 1289.8,2228.2" fill="#ee1c14"/><polygon points="1323.6,2155.6 1329.0,2166.2 1318.2,2166.2" fill="#ee1c14"/><polygon points="1323.6,2235.3 1329.0,2245.9 1318.2,2245.9" fill="#ee4a40"/><polygon points="1351.9,2166.7 1357.3,2177.3 1346.5,2177.3" fill="none" stroke="#ee1c14" stroke-width="1.1"/><path d="M1350.7,2170.8 v6.5 M1353.1,2170.8 v6.5" stroke="#ee1c14" stroke-width="0.8"/><polygon points="1351.9,2175.0 1357.3,2185.6 1346.5,2185.6" fill="#ee1c14"/><polygon points="1380.2,2177.1 1385.6,2187.7 1374.8,2187.7" fill="#ee4a40"/><polygon points="1380.2,2251.1 1385.6,2261.7 1374.8,2261.7" fill="#ee4a40"/><polygon points="1408.5,2161.5 1414.0,2172.1 1403.1,2172.1" fill="none" stroke="#ee1c14" stroke-width="1.1"/><path d="M1407.3,2165.6 v6.5 M1409.8,2165.6 v6.5 M1405.5,2169.1 h6" stroke="#ee1c14" stroke-width="0.8"/><polygon points="1408.5,2207.9 1414.0,2218.5 1403.1,2218.5" fill="none" stroke="#ee1c14" stroke-width="1.1"/><path d="M1407.3,2212.0 v6.5 M1409.8,2212.0 v6.5 M1405.5,2215.5 h6" stroke="#ee1c14" stroke-width="0.8"/><path d="M1435.6,2222.9 v5 M1438.2,2222.9 v5" stroke="#ee1c14" stroke-width="0.9" opacity="0.8"/><polygon points="1436.9,2240.8 1442.3,2251.4 1431.5,2251.4" fill="none" stroke="#ee1c14" stroke-width="1.1"/><path d="M1435.7,2244.9 v6.5 M1438.1,2244.9 v6.5 M1433.9,2248.4 h6" stroke="#ee1c14" stroke-width="0.8"/><circle cx="1125.3" cy="2414.1" r="5.4" fill="#1212ee"/><circle cx="1125.3" cy="2427.6" r="5.4" fill="#1212ee"/><circle cx="1153.6" cy="2415.0" r="5.4" fill="#4646ea"/><circle cx="1153.6" cy="2426.6" r="5.4" fill="#1212ee"/><circle cx="1182.0" cy="2400.3" r="5.4" fill="#1212ee"/><circle cx="1182.0" cy="2406.2" r="5.4" fill="#4646ea"/><circle cx="1210.3" cy="2323.8" r="5.0" fill="none" stroke="#1212ee" stroke-width="1.1"/><path d="M1209.0,2319.3 v9 M1211.6,2319.3 v9" stroke="#1212ee" stroke-width="0.8"/><circle cx="1210.3" cy="2363.0" r="5.4" fill="#1212ee"/><circle cx="1238.6" cy="2344.1" r="5.4" fill="#4646ea"/><circle cx="1238.6" cy="2389.9" r="5.4" fill="#4646ea"/><circle cx="1266.9" cy="2368.0" r="5.4" fill="#1212ee"/><circle cx="1266.9" cy="2375.8" r="5.0" fill="none" stroke="#1212ee" stroke-width="1.1"/><path d="M1265.6,2371.3 v9 M1268.2,2371.3 v9 M1261.9,2375.8 h10" stroke="#1212ee" stroke-width="0.8"/><circle cx="1295.2" cy="2388.4" r="5.4" fill="#1212ee"/><circle cx="1323.6" cy="2335.4" r="5.4" fill="#4646ea"/><circle cx="1323.6" cy="2342.3" r="5.4" fill="#1212ee"/><circle cx="1351.9" cy="2422.2" r="5.4" fill="#1212ee"/><circle cx="1380.2" cy="2404.7" r="5.4" fill="#1212ee"/><circle cx="1380.2" cy="2424.7" r="5.4" fill="#4646ea"/><circle cx="1408.5" cy="2406.2" r="5.0" fill="none" stroke="#1212ee" stroke-width="1.1"/><path d="M1407.2,2401.7 v9 M1409.8,2401.7 v9 M1403.5,2406.2 h10" stroke="#1212ee" stroke-width="0.8"/><circle cx="1408.5" cy="2422.8" r="5.4" fill="#1212ee"/><circle cx="1436.9" cy="2416.3" r="5.0" fill="none" stroke="#1212ee" stroke-width="1.1"/><path d="M1435.6,2411.8 v9 M1438.2,2411.8 v9 M1431.9,2416.3 h10" stroke="#1212ee" stroke-width="0.8"/><circle cx="1436.9" cy="2424.7" r="5.0" fill="none" stroke="#1212ee" stroke-width="1.1"/><path d="M1435.6,2420.2 v9 M1438.2,2420.2 v9 M1431.9,2424.7 h10" stroke="#1212ee" stroke-width="0.8"/><text x="1805.6" y="2056.7" font-size="30.7" font-weight="bold" textLength="48.1" lengthAdjust="spacingAndGlyphs" font-style="italic" font-family="'Liberation Sans', Arial, sans-serif">Lpl</text><text x="1824.0" y="2104.0" font-size="26.5" textLength="195.0" lengthAdjust="spacingAndGlyphs" font-family="'Liberation Sans', Arial, sans-serif">WT Pval: 0.002</text><text x="1823.7" y="2135.5" font-size="26.5" textLength="206.5" lengthAdjust="spacingAndGlyphs" font-family="'Liberation Sans', Arial, sans-serif">APP Pval: 0.015</text><g stroke="#000" stroke-width="3.7" fill="none"><path d="M1657.7,2122.8 V2283.8"/><path d="M1649.0,2283.8 h17.4"/><path d="M1643.4,2273.7 H1657.7"/><path d="M1643.4,2224.0 H1657.7"/><path d="M1643.4,2174.4 H1657.7"/><path d="M1643.4,2124.7 H1657.7"/><path d="M1657.7,2309.1 V2479.7"/><path d="M1649.0,2309.1 h17.4"/><path d="M1643.4,2465.7 H1657.7"/><path d="M1643.4,2434.4 H1657.7"/><path d="M1643.4,2403.1 H1657.7"/><path d="M1643.4,2371.7 H1657.7"/><path d="M1643.4,2340.4 H1657.7"/><path d="M1657.7,2465.7 H1999.0 V2479.7"/><path d="M1743.0,2465.7 v7.5"/><path d="M1828.3,2465.7 v14.0"/><path d="M1913.7,2465.7 v7.5"/></g><text x="1638.5" y="2282.5" font-size="24.5" font-weight="bold" text-anchor="end" textLength="39.9" lengthAdjust="spacingAndGlyphs" font-family="'Liberation Sans', Arial, sans-serif">100</text><text x="1638.5" y="2232.8" font-size="24.5" font-weight="bold" text-anchor="end" textLength="39.9" lengthAdjust="spacingAndGlyphs" font-family="'Liberation Sans', Arial, sans-serif">200</text><text x="1638.5" y="2183.2" font-size="24.5" font-weight="bold" text-anchor="end" textLength="39.9" lengthAdjust="spacingAndGlyphs" font-family="'Liberation Sans', Arial, sans-serif">300</text><text x="1638.5" y="2133.5" font-size="24.5" font-weight="bold" text-anchor="end" textLength="39.9" lengthAdjust="spacingAndGlyphs" font-family="'Liberation Sans', Arial, sans-serif">400</text><text x="1638.5" y="2474.5" font-size="24.5" font-weight="bold" text-anchor="end" textLength="26.6" lengthAdjust="spacingAndGlyphs" font-family="'Liberation Sans', Arial, sans-serif">15</text><text x="1638.5" y="2443.2" font-size="24.5" font-weight="bold" text-anchor="end" textLength="26.6" lengthAdjust="spacingAndGlyphs" font-family="'Liberation Sans', Arial, sans-serif">20</text><text x="1638.5" y="2411.9" font-size="24.5" font-weight="bold" text-anchor="end" textLength="26.6" lengthAdjust="spacingAndGlyphs" font-family="'Liberation Sans', Arial, sans-serif">25</text><text x="1638.5" y="2380.5" font-size="24.5" font-weight="bold" text-anchor="end" textLength="26.6" lengthAdjust="spacingAndGlyphs" font-family="'Liberation Sans', Arial, sans-serif">30</text><text x="1638.5" y="2349.2" font-size="24.5" font-weight="bold" text-anchor="end" textLength="26.6" lengthAdjust="spacingAndGlyphs" font-family="'Liberation Sans', Arial, sans-serif">35</text><text x="1638.5" y="2317.9" font-size="24.5" font-weight="bold" text-anchor="end" textLength="26.6" lengthAdjust="spacingAndGlyphs" font-family="'Liberation Sans', Arial, sans-serif">40</text><text x="1657.7" y="2509.8" font-size="23.0" font-weight="bold" text-anchor="middle" textLength="12.8" lengthAdjust="spacingAndGlyphs" font-family="'Liberation Sans', Arial, sans-serif">0</text><text x="1828.3" y="2509.8" font-size="23.0" font-weight="bold" text-anchor="middle" textLength="25.6" lengthAdjust="spacingAndGlyphs" font-family="'Liberation Sans', Arial, sans-serif">12</text><text x="1999.0" y="2509.8" font-size="23.0" font-weight="bold" text-anchor="middle" textLength="25.6" lengthAdjust="spacingAndGlyphs" font-family="'Liberation Sans', Arial, sans-serif">24</text><text x="1810.3" y="2550.0" font-size="26.0" font-weight="bold" textLength="35.1" lengthAdjust="spacingAndGlyphs" font-family="'Liberation Sans', Arial, sans-serif">CT</text><text x="0.0" y="0.0" font-size="28.5" font-weight="bold" text-anchor="middle" textLength="59.7" lengthAdjust="spacingAndGlyphs" font-family="'Liberation Sans', Arial, sans-serif" transform="translate(1580.0,2295.6) rotate(-90)">CPM</text><path d="M1657.7,2247.7 L1663.0,2246.4 L1668.3,2245.0 L1673.6,2243.5 L1678.9,2241.8 L1684.2,2240.1 L1689.5,2238.3 L1694.8,2236.4 L1700.1,2234.4 L1705.4,2232.5 L1710.7,2230.5 L1716.0,2228.6 L1721.3,2226.7 L1726.6,2224.8 L1731.9,2223.0 L1737.2,2221.3 L1742.5,2219.6 L1747.8,2218.1 L1753.1,2216.7 L1758.5,2215.5 L1763.8,2214.4 L1769.1,2213.5 L1774.4,2212.8 L1779.7,2212.2 L1785.0,2211.8 L1790.3,2211.6 L1795.6,2211.6 L1800.9,2211.8 L1806.2,2212.2 L1811.5,2212.8 L1816.8,2213.5 L1822.1,2214.5 L1827.4,2215.6 L1832.7,2216.8 L1838.0,2218.2 L1843.3,2219.7 L1848.6,2221.3 L1853.9,2223.1 L1859.2,2224.9 L1864.5,2226.7 L1869.8,2228.7 L1875.1,2230.6 L1880.4,2232.6 L1885.7,2234.5 L1891.0,2236.5 L1896.3,2238.3 L1901.6,2240.2 L1906.9,2241.9 L1912.2,2243.5 L1917.5,2245.1 L1922.8,2246.5 L1928.1,2247.7 L1933.4,2248.9 L1938.7,2249.8 L1944.0,2250.6 L1949.3,2251.2 L1954.7,2251.6 L1960.0,2251.8 L1965.3,2251.8 L1970.6,2251.7" fill="none" stroke="#e8403a" stroke-width="2.3"/><path d="M1657.7,2396.2 L1663.0,2392.8 L1668.3,2389.5 L1673.6,2386.2 L1678.9,2383.1 L1684.2,2380.0 L1689.5,2377.1 L1694.8,2374.4 L1700.1,2371.9 L1705.4,2369.6 L1710.7,2367.6 L1716.0,2365.9 L1721.3,2364.4 L1726.6,2363.3 L1731.9,2362.4 L1737.2,2361.9 L1742.5,2361.7 L1747.8,2361.9 L1753.1,2362.3 L1758.5,2363.1 L1763.8,2364.2 L1769.1,2365.6 L1774.4,2367.3 L1779.7,2369.3 L1785.0,2371.5 L1790.3,2373.9 L1795.6,2376.6 L1800.9,2379.5 L1806.2,2382.5 L1811.5,2385.6 L1816.8,2388.9 L1822.1,2392.2 L1827.4,2395.6 L1832.7,2398.9 L1838.0,2402.3 L1843.3,2405.5 L1848.6,2408.7 L1853.9,2411.8 L1859.2,2414.7 L1864.5,2417.4 L1869.8,2420.0 L1875.1,2422.3 L1880.4,2424.4 L1885.7,2426.2 L1891.0,2427.7 L1896.3,2428.9 L1901.6,2429.8 L1906.9,2430.4 L1912.2,2430.6 L1917.5,2430.5 L1922.8,2430.1 L1928.1,2429.4 L1933.4,2428.4 L1938.7,2427.0 L1944.0,2425.4 L1949.3,2423.5 L1954.7,2421.3 L1960.0,2418.9 L1965.3,2416.2 L1970.6,2413.4" fill="none" stroke="#2020e0" stroke-width="2.3"/><polygon points="1657.7,2200.1 1663.1,2210.7 1652.3,2210.7" fill="none" stroke="#ee1c14" stroke-width="1.1"/><path d="M1656.5,2204.1 v6.5 M1658.9,2204.1 v6.5" stroke="#ee1c14" stroke-width="0.8"/><polygon points="1657.7,2266.6 1663.1,2277.2 1652.3,2277.2" fill="#ee1c14"/><polygon points="1686.1,2244.8 1691.5,2255.4 1680.7,2255.4" fill="#ee1c14"/><polygon points="1686.1,2257.2 1691.5,2267.8 1680.7,2267.8" fill="#ee4a40"/><polygon points="1714.6,2146.4 1720.0,2157.0 1709.2,2157.0" fill="#ee1c14"/><polygon points="1714.6,2234.8 1720.0,2245.4 1709.2,2245.4" fill="none" stroke="#ee1c14" stroke-width="1.1"/><path d="M1713.4,2238.9 v6.5 M1715.8,2238.9 v6.5" stroke="#ee1c14" stroke-width="0.8"/><polygon points="1743.0,2218.5 1748.4,2229.1 1737.6,2229.1" fill="#ee1c14"/><polygon points="1743.0,2240.3 1748.4,2250.9 1737.6,2250.9" fill="#ee1c14"/><polygon points="1771.5,2226.9 1776.9,2237.5 1766.1,2237.5" fill="#ee1c14"/><polygon points="1799.9,2152.9 1805.3,2163.5 1794.5,2163.5" fill="#ee1c14"/><path d="M1798.6,2220.0 v5 M1801.2,2220.0 v5" stroke="#ee1c14" stroke-width="0.9" opacity="0.8"/><polygon points="1828.3,2185.2 1833.8,2195.8 1822.9,2195.8" fill="#ee4a40"/><polygon points="1828.3,2239.3 1833.8,2249.9 1822.9,2249.9" fill="#ee4a40"/><polygon points="1856.8,2201.1 1862.2,2211.7 1851.4,2211.7" fill="none" stroke="#ee1c14" stroke-width="1.1"/><path d="M1855.6,2205.1 v6.5 M1858.0,2205.1 v6.5 M1853.8,2208.6 h6" stroke="#ee1c14" stroke-width="0.8"/><polygon points="1856.8,2248.3 1862.2,2258.9 1851.4,2258.9" fill="#ee1c14"/><polygon points="1885.2,2218.5 1890.6,2229.1 1879.8,2229.1" fill="#ee1c14"/><polygon points="1885.2,2225.4 1890.6,2236.0 1879.8,2236.0" fill="#ee4a40"/><polygon points="1913.7,2219.9 1919.1,2230.5 1908.3,2230.5" fill="#ee1c14"/><polygon points="1913.7,2270.1 1919.1,2280.7 1908.3,2280.7" fill="none" stroke="#ee1c14" stroke-width="1.1"/><path d="M1912.5,2274.2 v6.5 M1914.9,2274.2 v6.5" stroke="#ee1c14" stroke-width="0.8"/><path d="M1940.8,2227.0 v5 M1943.4,2227.0 v5" stroke="#ee1c14" stroke-width="0.9" opacity="0.8"/><polygon points="1942.1,2250.2 1947.5,2260.8 1936.7,2260.8" fill="none" stroke="#ee1c14" stroke-width="1.1"/><path d="M1940.9,2254.3 v6.5 M1943.3,2254.3 v6.5 M1939.1,2257.8 h6" stroke="#ee1c14" stroke-width="0.8"/><polygon points="1970.6,2247.3 1976.0,2257.9 1965.2,2257.9" fill="#ee4a40"/><polygon points="1970.6,2259.2 1976.0,2269.8 1965.2,2269.8" fill="#ee1c14"/><circle cx="1657.7" cy="2403.7" r="5.0" fill="none" stroke="#1212ee" stroke-width="1.1"/><path d="M1656.4,2399.2 v9 M1659.0,2399.2 v9 M1652.7,2403.7 h10" stroke="#1212ee" stroke-width="0.8"/><circle cx="1657.7" cy="2419.3" r="5.0" fill="none" stroke="#1212ee" stroke-width="1.1"/><path d="M1656.4,2414.8 v9 M1659.0,2414.8 v9 M1652.7,2419.3 h10" stroke="#1212ee" stroke-width="0.8"/><circle cx="1686.1" cy="2365.2" r="5.4" fill="#1212ee"/><circle cx="1686.1" cy="2380.5" r="5.4" fill="#4646ea"/><circle cx="1714.6" cy="2361.7" r="5.0" fill="none" stroke="#1212ee" stroke-width="1.1"/><path d="M1713.3,2357.2 v9 M1715.9,2357.2 v9 M1709.6,2361.7 h10" stroke="#1212ee" stroke-width="0.8"/><circle cx="1714.6" cy="2399.9" r="5.4" fill="#1212ee"/><circle cx="1743.0" cy="2346.4" r="5.4" fill="#1212ee"/><circle cx="1743.0" cy="2366.1" r="5.4" fill="#4646ea"/><circle cx="1771.5" cy="2345.4" r="5.4" fill="#4646ea"/><circle cx="1771.5" cy="2375.5" r="5.4" fill="#4646ea"/><circle cx="1799.9" cy="2366.1" r="5.4" fill="#1212ee"/><circle cx="1799.9" cy="2372.4" r="5.0" fill="none" stroke="#1212ee" stroke-width="1.1"/><path d="M1798.6,2367.9 v9 M1801.2,2367.9 v9 M1794.9,2372.4 h10" stroke="#1212ee" stroke-width="0.8"/><circle cx="1828.3" cy="2394.9" r="5.4" fill="#1212ee"/><circle cx="1856.8" cy="2425.0" r="5.4" fill="#4646ea"/><circle cx="1856.8" cy="2435.6" r="5.4" fill="#1212ee"/><circle cx="1885.2" cy="2410.6" r="5.4" fill="#1212ee"/><circle cx="1913.7" cy="2433.1" r="5.4" fill="#1212ee"/><circle cx="1913.7" cy="2435.6" r="5.0" fill="none" stroke="#1212ee" stroke-width="1.1"/><path d="M1912.4,2431.1 v9 M1915.0,2431.1 v9 M1908.7,2435.6 h10" stroke="#1212ee" stroke-width="0.8"/><circle cx="1942.1" cy="2406.8" r="5.4" fill="#1212ee"/><circle cx="1942.1" cy="2419.3" r="5.4" fill="#1212ee"/><circle cx="1970.6" cy="2399.3" r="5.4" fill="#4646ea"/><circle cx="1970.6" cy="2420.6" r="5.4" fill="#4646ea"/><rect x="2009" y="2160.7" width="156.5" height="92.1" fill="#fff" stroke="#000" stroke-width="2.2"/><path d="M2028.4,2184.3 H2064.5" stroke="#1212ee" stroke-width="2"/><circle cx="2046.5" cy="2184.3" r="5.6" fill="#1212ee"/><text x="2084.0" y="2195.2" font-size="33.0" textLength="51.8" lengthAdjust="spacingAndGlyphs" font-family="'Liberation Sans', Arial, sans-serif">WT</text><path d="M2028.4,2229.5 H2064.5" stroke="#e8403a" stroke-width="2"/><polygon points="2046.5,2222.5 2052.2,2233 2040.8,2233" fill="#fff" stroke="#ee1c14" stroke-width="1.1"/><text x="2084.0" y="2240.4" font-size="33.0" textLength="65.0" lengthAdjust="spacingAndGlyphs" font-family="'Liberation Sans', Arial, sans-serif">APP</text></svg></body></html>
